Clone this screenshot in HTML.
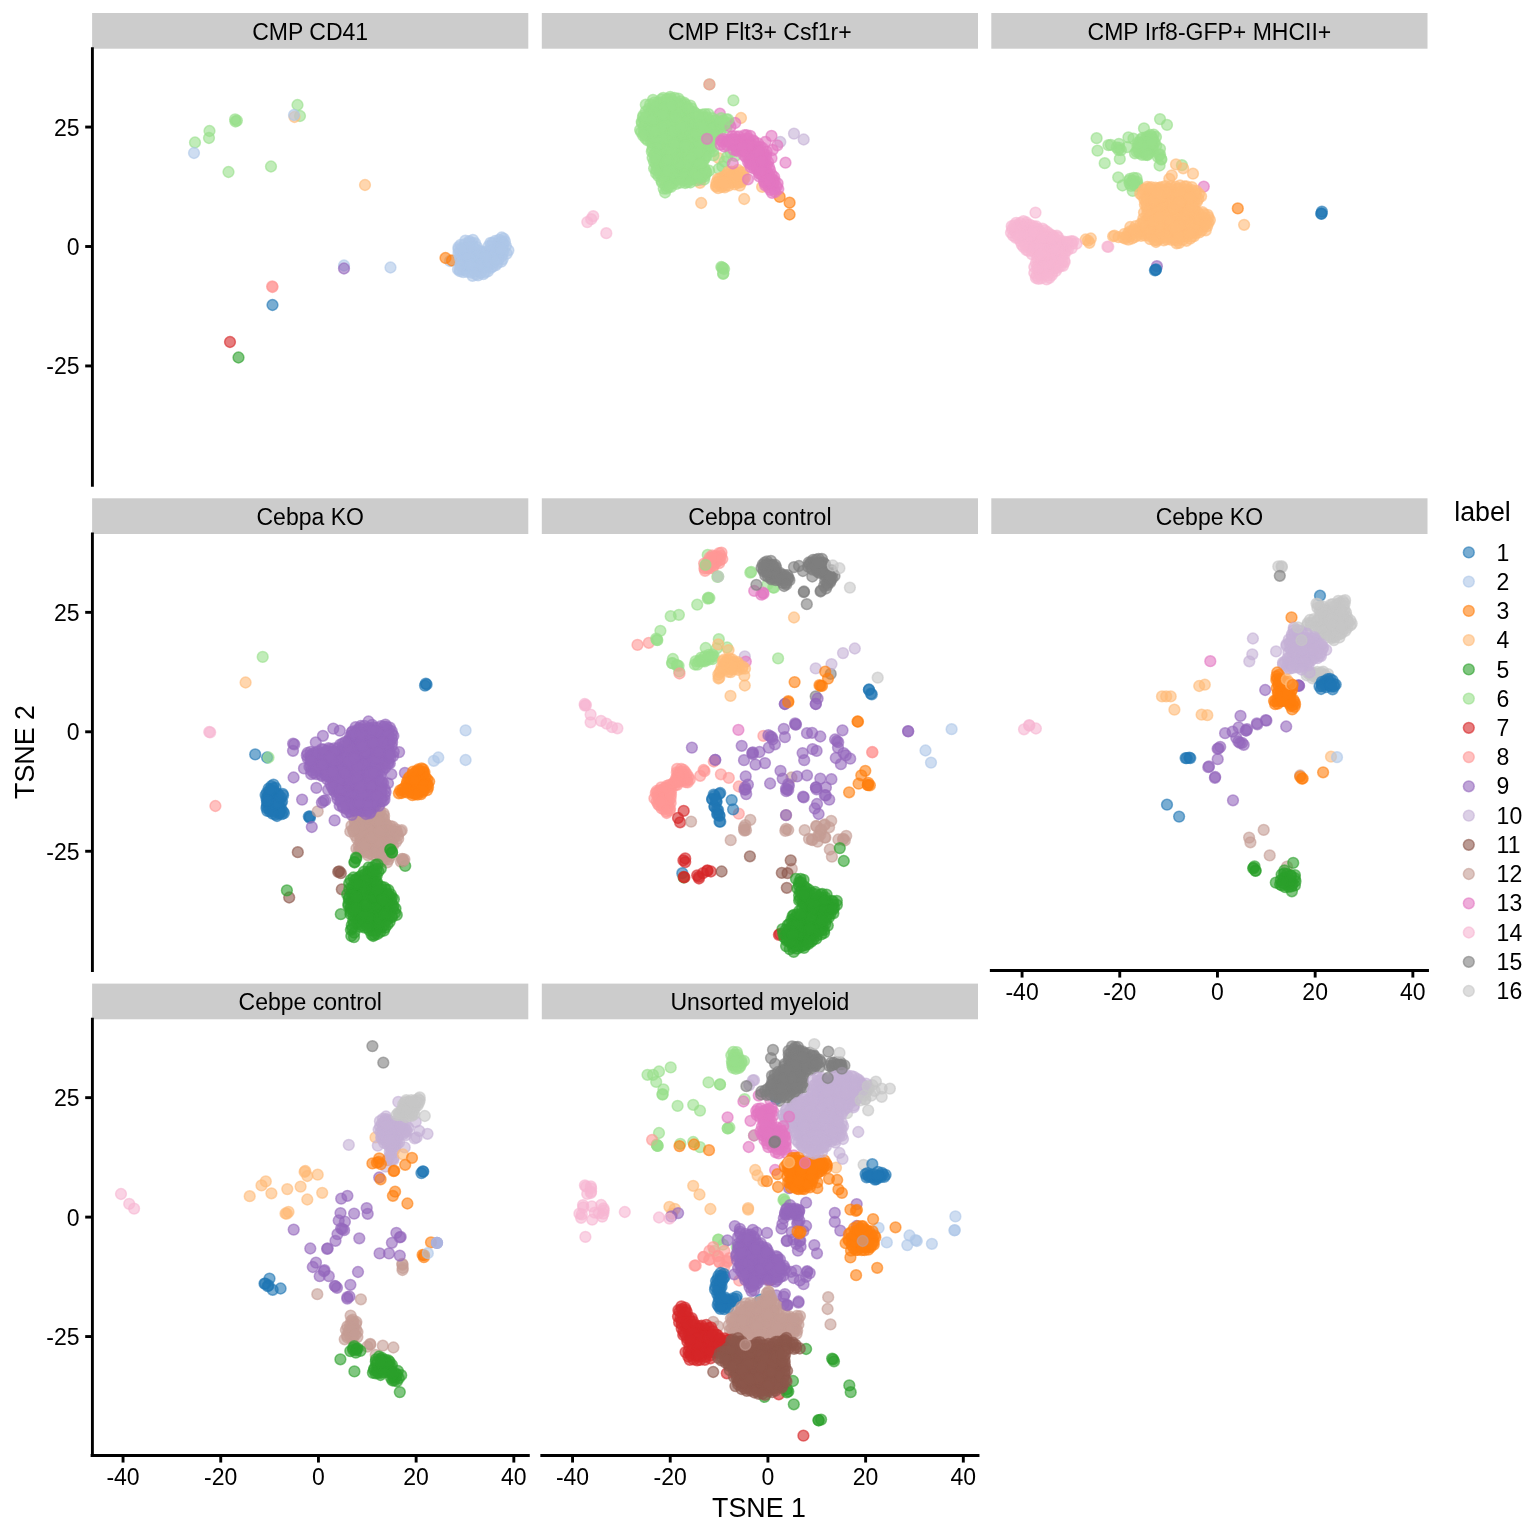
<!DOCTYPE html>
<html lang="en">
<head>
<meta charset="utf-8">
<title>TSNE by sample</title>
<style>
html,body{margin:0;padding:0;background:#fff}
svg{display:block}
text{font-family:"Liberation Sans",Arial,Helvetica,sans-serif;fill:#000}
.ax{stroke:#000;stroke-width:2.9;stroke-linecap:butt;fill:none}
.sq{stroke-linecap:square}
circle{fill-opacity:.6;stroke-opacity:.6;stroke-width:1.5}
</style>
</head>
<body>
<svg width="1536" height="1536" viewBox="0 0 1536 1536">
<rect width="1536" height="1536" fill="#ffffff"/>

<g><!-- CMP CD41 -->
<g fill="#98df8a" stroke="#98df8a">
<circle cx="195.0" cy="142.5" r="5.4"/><circle cx="209.5" cy="131.0" r="5.4"/><circle cx="209.0" cy="138.0" r="5.4"/><circle cx="235.5" cy="121.5" r="5.4"/><circle cx="235.1" cy="119.3" r="5.4"/><circle cx="236.9" cy="120.6" r="5.4"/><circle cx="228.5" cy="172.0" r="5.4"/><circle cx="271.0" cy="166.5" r="5.4"/><circle cx="297.5" cy="105.0" r="5.4"/><circle cx="300.0" cy="116.0" r="5.4"/>
</g>
<g fill="#ffbb78" stroke="#ffbb78">
<circle cx="294.5" cy="117.0" r="5.4"/><circle cx="365.0" cy="185.0" r="5.4"/>
</g>
<g fill="#aec7e8" stroke="#aec7e8">
<circle cx="194.0" cy="153.0" r="5.4"/><circle cx="294.0" cy="115.0" r="5.4"/><circle cx="344.0" cy="265.5" r="5.4"/><circle cx="390.5" cy="267.5" r="5.4"/>
</g>
<g fill="#9467bd" stroke="#9467bd">
<circle cx="344.0" cy="268.5" r="5.4"/>
</g>
<g fill="#ff9896" stroke="#ff9896">
<circle cx="272.5" cy="287.0" r="5.4"/><circle cx="272.2" cy="286.3" r="5.4"/>
</g>
<g fill="#1f77b4" stroke="#1f77b4">
<circle cx="272.5" cy="305.0" r="5.4"/>
</g>
<g fill="#d62728" stroke="#d62728">
<circle cx="230.0" cy="342.0" r="5.4"/>
</g>
<g fill="#2ca02c" stroke="#2ca02c">
<circle cx="238.5" cy="357.5" r="5.4"/>
</g>
<g fill="#aec7e8" stroke="#aec7e8">
<circle cx="450.0" cy="261.0" r="5.4"/>
</g>
<g fill="#ff7f0e" stroke="#ff7f0e">
<circle cx="445.5" cy="258.0" r="5.4"/><circle cx="452.0" cy="260.5" r="5.4"/>
</g>
<g fill="#aec7e8" stroke="#aec7e8">
<circle cx="487.1" cy="262.2" r="5.4"/><circle cx="476.2" cy="259.2" r="5.4"/><circle cx="505.9" cy="245.9" r="5.4"/><circle cx="492.3" cy="263.1" r="5.4"/><circle cx="466.9" cy="260.3" r="5.4"/><circle cx="474.7" cy="250.7" r="5.4"/><circle cx="502.7" cy="259.1" r="5.4"/><circle cx="495.2" cy="241.0" r="5.4"/><circle cx="465.5" cy="265.6" r="5.4"/><circle cx="476.5" cy="262.0" r="5.4"/><circle cx="482.7" cy="268.0" r="5.4"/><circle cx="479.1" cy="257.1" r="5.4"/><circle cx="502.1" cy="241.3" r="5.4"/><circle cx="479.0" cy="262.6" r="5.4"/><circle cx="500.4" cy="242.7" r="5.4"/><circle cx="467.8" cy="268.2" r="5.4"/><circle cx="464.2" cy="269.9" r="5.4"/><circle cx="482.0" cy="251.3" r="5.4"/><circle cx="476.6" cy="271.1" r="5.4"/><circle cx="497.7" cy="243.3" r="5.4"/><circle cx="470.7" cy="249.5" r="5.4"/><circle cx="472.5" cy="255.8" r="5.4"/><circle cx="460.2" cy="258.7" r="5.4"/><circle cx="462.3" cy="264.6" r="5.4"/><circle cx="458.5" cy="247.2" r="5.4"/><circle cx="460.2" cy="251.2" r="5.4"/><circle cx="492.6" cy="266.7" r="5.4"/><circle cx="500.9" cy="256.9" r="5.4"/><circle cx="478.9" cy="269.0" r="5.4"/><circle cx="483.8" cy="266.6" r="5.4"/><circle cx="473.4" cy="259.2" r="5.4"/><circle cx="498.5" cy="259.1" r="5.4"/><circle cx="465.0" cy="244.2" r="5.4"/><circle cx="499.1" cy="239.8" r="5.4"/><circle cx="503.6" cy="238.6" r="5.4"/><circle cx="506.7" cy="253.6" r="5.4"/><circle cx="458.5" cy="253.0" r="5.4"/><circle cx="487.8" cy="271.4" r="5.4"/><circle cx="464.1" cy="249.5" r="5.4"/><circle cx="496.2" cy="250.7" r="5.4"/><circle cx="494.4" cy="250.5" r="5.4"/><circle cx="504.9" cy="241.4" r="5.4"/><circle cx="478.2" cy="254.3" r="5.4"/><circle cx="469.4" cy="259.1" r="5.4"/><circle cx="490.7" cy="268.0" r="5.4"/><circle cx="477.6" cy="265.7" r="5.4"/><circle cx="466.5" cy="253.6" r="5.4"/><circle cx="488.6" cy="258.7" r="5.4"/><circle cx="470.9" cy="254.3" r="5.4"/><circle cx="490.5" cy="242.8" r="5.4"/><circle cx="476.1" cy="274.4" r="5.4"/><circle cx="502.8" cy="245.9" r="5.4"/><circle cx="483.7" cy="259.8" r="5.4"/><circle cx="483.3" cy="256.0" r="5.4"/><circle cx="492.6" cy="242.9" r="5.4"/><circle cx="490.4" cy="258.7" r="5.4"/><circle cx="495.6" cy="247.9" r="5.4"/><circle cx="459.8" cy="256.1" r="5.4"/><circle cx="484.8" cy="253.1" r="5.4"/><circle cx="472.5" cy="275.8" r="5.4"/><circle cx="465.9" cy="247.9" r="5.4"/><circle cx="478.1" cy="275.4" r="5.4"/><circle cx="459.8" cy="269.6" r="5.4"/><circle cx="488.7" cy="246.2" r="5.4"/><circle cx="495.9" cy="265.1" r="5.4"/><circle cx="475.5" cy="255.2" r="5.4"/><circle cx="472.6" cy="252.1" r="5.4"/><circle cx="478.2" cy="250.4" r="5.4"/><circle cx="481.1" cy="260.1" r="5.4"/><circle cx="477.0" cy="247.1" r="5.4"/><circle cx="501.7" cy="237.5" r="5.4"/><circle cx="463.2" cy="253.7" r="5.4"/><circle cx="503.2" cy="243.9" r="5.4"/><circle cx="472.9" cy="239.9" r="5.4"/><circle cx="465.3" cy="261.7" r="5.4"/><circle cx="465.3" cy="240.7" r="5.4"/><circle cx="494.4" cy="253.8" r="5.4"/><circle cx="461.1" cy="263.6" r="5.4"/><circle cx="469.2" cy="241.1" r="5.4"/><circle cx="472.0" cy="243.2" r="5.4"/><circle cx="483.4" cy="274.1" r="5.4"/><circle cx="480.5" cy="253.0" r="5.4"/><circle cx="501.3" cy="261.7" r="5.4"/><circle cx="474.3" cy="268.0" r="5.4"/><circle cx="497.4" cy="263.2" r="5.4"/><circle cx="471.0" cy="268.5" r="5.4"/><circle cx="480.8" cy="272.7" r="5.4"/><circle cx="468.1" cy="261.4" r="5.4"/><circle cx="498.4" cy="247.8" r="5.4"/><circle cx="487.0" cy="252.7" r="5.4"/><circle cx="491.4" cy="245.9" r="5.4"/><circle cx="463.2" cy="272.2" r="5.4"/><circle cx="483.4" cy="262.8" r="5.4"/><circle cx="471.1" cy="272.5" r="5.4"/><circle cx="499.9" cy="253.0" r="5.4"/><circle cx="467.1" cy="271.8" r="5.4"/><circle cx="491.1" cy="253.4" r="5.4"/><circle cx="502.5" cy="253.6" r="5.4"/><circle cx="475.1" cy="243.2" r="5.4"/><circle cx="460.6" cy="244.9" r="5.4"/><circle cx="485.0" cy="268.0" r="5.4"/><circle cx="473.7" cy="247.4" r="5.4"/><circle cx="489.0" cy="264.7" r="5.4"/><circle cx="508.4" cy="250.3" r="5.4"/><circle cx="459.9" cy="271.2" r="5.4"/><circle cx="472.4" cy="262.0" r="5.4"/><circle cx="487.4" cy="251.2" r="5.4"/><circle cx="472.6" cy="266.2" r="5.4"/><circle cx="497.4" cy="256.1" r="5.4"/><circle cx="503.4" cy="250.8" r="5.4"/><circle cx="473.5" cy="271.1" r="5.4"/><circle cx="485.0" cy="272.3" r="5.4"/><circle cx="479.9" cy="265.0" r="5.4"/><circle cx="490.7" cy="250.3" r="5.4"/><circle cx="492.7" cy="256.1" r="5.4"/><circle cx="467.2" cy="250.1" r="5.4"/><circle cx="501.4" cy="249.0" r="5.4"/><circle cx="469.2" cy="242.8" r="5.4"/><circle cx="489.3" cy="255.9" r="5.4"/><circle cx="462.6" cy="260.0" r="5.4"/><circle cx="460.3" cy="265.3" r="5.4"/><circle cx="488.8" cy="261.9" r="5.4"/><circle cx="463.9" cy="256.5" r="5.4"/><circle cx="467.6" cy="255.4" r="5.4"/><circle cx="458.5" cy="249.2" r="5.4"/><circle cx="470.3" cy="265.1" r="5.4"/><circle cx="469.0" cy="247.1" r="5.4"/><circle cx="462.4" cy="248.2" r="5.4"/><circle cx="458.0" cy="269.4" r="5.4"/><circle cx="495.6" cy="260.5" r="5.4"/><circle cx="485.3" cy="256.6" r="5.4"/>
</g>
</g>
<g><!-- CMP Flt3+ Csf1r+ -->
<g fill="#98df8a" stroke="#98df8a">
<circle cx="709.4" cy="84.4" r="5.4"/>
</g>
<g fill="#ff9896" stroke="#ff9896">
<circle cx="709.4" cy="84.4" r="5.4"/>
</g>
<g fill="#e377c2" stroke="#e377c2">
<circle cx="719.9" cy="113.7" r="5.4"/><circle cx="697.7" cy="158.8" r="5.4"/><circle cx="700.0" cy="179.9" r="5.4"/><circle cx="682.4" cy="168.8" r="5.4"/>
</g>
<g fill="#ffbb78" stroke="#ffbb78">
<circle cx="700.0" cy="182.8" r="5.4"/><circle cx="718.8" cy="158.2" r="5.4"/>
</g>
<g fill="#98df8a" stroke="#98df8a">
<circle cx="690.6" cy="142.7" r="5.4"/><circle cx="710.2" cy="121.2" r="5.4"/><circle cx="652.8" cy="145.8" r="5.4"/><circle cx="659.6" cy="148.7" r="5.4"/><circle cx="712.4" cy="126.8" r="5.4"/><circle cx="666.9" cy="175.7" r="5.4"/><circle cx="705.6" cy="170.9" r="5.4"/><circle cx="661.2" cy="135.8" r="5.4"/><circle cx="681.2" cy="130.8" r="5.4"/><circle cx="664.2" cy="142.5" r="5.4"/><circle cx="690.6" cy="120.1" r="5.4"/><circle cx="695.4" cy="164.1" r="5.4"/><circle cx="684.7" cy="158.3" r="5.4"/><circle cx="670.3" cy="145.8" r="5.4"/><circle cx="653.7" cy="110.4" r="5.4"/><circle cx="701.0" cy="156.9" r="5.4"/><circle cx="699.4" cy="163.3" r="5.4"/><circle cx="669.7" cy="113.2" r="5.4"/><circle cx="685.9" cy="179.1" r="5.4"/><circle cx="679.2" cy="135.1" r="5.4"/><circle cx="710.6" cy="136.2" r="5.4"/><circle cx="702.7" cy="139.8" r="5.4"/><circle cx="665.5" cy="102.3" r="5.4"/><circle cx="717.4" cy="129.7" r="5.4"/><circle cx="648.9" cy="108.6" r="5.4"/><circle cx="701.8" cy="177.5" r="5.4"/><circle cx="665.5" cy="185.5" r="5.4"/><circle cx="645.8" cy="104.7" r="5.4"/><circle cx="679.4" cy="173.2" r="5.4"/><circle cx="704.7" cy="176.4" r="5.4"/><circle cx="659.6" cy="173.4" r="5.4"/><circle cx="680.4" cy="144.7" r="5.4"/><circle cx="688.5" cy="130.4" r="5.4"/><circle cx="700.8" cy="160.1" r="5.4"/><circle cx="642.0" cy="123.2" r="5.4"/><circle cx="644.1" cy="126.4" r="5.4"/><circle cx="667.8" cy="105.4" r="5.4"/><circle cx="685.8" cy="154.5" r="5.4"/><circle cx="690.8" cy="146.6" r="5.4"/><circle cx="713.0" cy="151.2" r="5.4"/><circle cx="669.0" cy="142.6" r="5.4"/><circle cx="706.9" cy="134.0" r="5.4"/><circle cx="701.8" cy="163.2" r="5.4"/><circle cx="685.5" cy="104.3" r="5.4"/><circle cx="656.2" cy="117.4" r="5.4"/><circle cx="662.6" cy="150.7" r="5.4"/><circle cx="679.5" cy="138.8" r="5.4"/><circle cx="686.9" cy="144.9" r="5.4"/><circle cx="670.6" cy="142.3" r="5.4"/><circle cx="661.4" cy="102.4" r="5.4"/><circle cx="645.7" cy="138.5" r="5.4"/><circle cx="684.1" cy="102.7" r="5.4"/><circle cx="653.0" cy="99.9" r="5.4"/><circle cx="663.4" cy="145.5" r="5.4"/><circle cx="657.6" cy="149.2" r="5.4"/><circle cx="705.1" cy="158.1" r="5.4"/><circle cx="700.2" cy="117.6" r="5.4"/><circle cx="669.6" cy="108.0" r="5.4"/><circle cx="692.4" cy="118.0" r="5.4"/><circle cx="695.7" cy="144.5" r="5.4"/><circle cx="657.9" cy="108.6" r="5.4"/><circle cx="710.6" cy="141.5" r="5.4"/><circle cx="684.7" cy="113.3" r="5.4"/><circle cx="659.0" cy="151.7" r="5.4"/><circle cx="682.7" cy="161.8" r="5.4"/><circle cx="703.4" cy="130.5" r="5.4"/><circle cx="674.3" cy="124.0" r="5.4"/><circle cx="656.1" cy="160.0" r="5.4"/><circle cx="677.2" cy="115.4" r="5.4"/><circle cx="701.4" cy="167.8" r="5.4"/><circle cx="699.0" cy="145.2" r="5.4"/><circle cx="652.9" cy="123.6" r="5.4"/><circle cx="706.5" cy="156.1" r="5.4"/><circle cx="640.1" cy="129.9" r="5.4"/><circle cx="701.8" cy="132.6" r="5.4"/><circle cx="678.4" cy="98.7" r="5.4"/><circle cx="695.7" cy="142.4" r="5.4"/><circle cx="697.4" cy="138.4" r="5.4"/><circle cx="680.5" cy="169.6" r="5.4"/><circle cx="704.5" cy="147.9" r="5.4"/><circle cx="672.3" cy="100.8" r="5.4"/><circle cx="658.3" cy="176.0" r="5.4"/><circle cx="675.2" cy="103.9" r="5.4"/><circle cx="710.4" cy="146.3" r="5.4"/><circle cx="666.6" cy="188.7" r="5.4"/><circle cx="726.5" cy="127.5" r="5.4"/><circle cx="688.3" cy="138.2" r="5.4"/><circle cx="675.5" cy="168.3" r="5.4"/><circle cx="668.1" cy="172.8" r="5.4"/><circle cx="713.3" cy="139.7" r="5.4"/><circle cx="708.5" cy="114.1" r="5.4"/><circle cx="714.9" cy="124.4" r="5.4"/><circle cx="672.3" cy="108.9" r="5.4"/><circle cx="674.2" cy="133.3" r="5.4"/><circle cx="707.0" cy="123.6" r="5.4"/><circle cx="668.7" cy="180.2" r="5.4"/><circle cx="682.1" cy="118.3" r="5.4"/><circle cx="690.1" cy="162.1" r="5.4"/><circle cx="713.1" cy="121.2" r="5.4"/><circle cx="665.4" cy="105.7" r="5.4"/><circle cx="723.3" cy="120.4" r="5.4"/><circle cx="704.8" cy="135.5" r="5.4"/><circle cx="665.8" cy="138.9" r="5.4"/><circle cx="651.1" cy="142.0" r="5.4"/><circle cx="652.4" cy="149.3" r="5.4"/><circle cx="647.4" cy="120.0" r="5.4"/><circle cx="661.1" cy="117.3" r="5.4"/><circle cx="649.2" cy="127.5" r="5.4"/><circle cx="649.8" cy="137.3" r="5.4"/><circle cx="668.3" cy="167.9" r="5.4"/><circle cx="665.1" cy="192.5" r="5.4"/><circle cx="652.4" cy="114.2" r="5.4"/><circle cx="671.5" cy="130.8" r="5.4"/><circle cx="709.1" cy="170.7" r="5.4"/><circle cx="660.1" cy="122.7" r="5.4"/><circle cx="658.9" cy="125.9" r="5.4"/><circle cx="699.5" cy="171.5" r="5.4"/><circle cx="664.5" cy="110.2" r="5.4"/><circle cx="707.9" cy="149.1" r="5.4"/><circle cx="658.5" cy="157.1" r="5.4"/><circle cx="678.2" cy="110.7" r="5.4"/><circle cx="649.6" cy="124.6" r="5.4"/><circle cx="672.2" cy="179.0" r="5.4"/><circle cx="657.3" cy="155.9" r="5.4"/><circle cx="684.5" cy="164.4" r="5.4"/><circle cx="669.1" cy="164.4" r="5.4"/><circle cx="689.5" cy="174.3" r="5.4"/><circle cx="686.8" cy="149.4" r="5.4"/><circle cx="666.2" cy="128.0" r="5.4"/><circle cx="654.4" cy="116.4" r="5.4"/><circle cx="654.1" cy="168.3" r="5.4"/><circle cx="705.1" cy="114.1" r="5.4"/><circle cx="710.3" cy="138.9" r="5.4"/><circle cx="693.5" cy="147.6" r="5.4"/><circle cx="682.7" cy="180.2" r="5.4"/><circle cx="677.7" cy="157.6" r="5.4"/><circle cx="687.5" cy="182.2" r="5.4"/><circle cx="662.8" cy="109.2" r="5.4"/><circle cx="712.3" cy="118.2" r="5.4"/><circle cx="657.9" cy="102.5" r="5.4"/><circle cx="672.4" cy="120.2" r="5.4"/><circle cx="694.0" cy="121.6" r="5.4"/><circle cx="660.8" cy="168.0" r="5.4"/><circle cx="656.4" cy="115.1" r="5.4"/><circle cx="664.4" cy="148.2" r="5.4"/><circle cx="711.5" cy="147.9" r="5.4"/><circle cx="691.2" cy="152.0" r="5.4"/><circle cx="702.0" cy="146.2" r="5.4"/><circle cx="717.5" cy="133.6" r="5.4"/><circle cx="704.4" cy="168.4" r="5.4"/><circle cx="671.4" cy="160.8" r="5.4"/><circle cx="670.7" cy="118.1" r="5.4"/><circle cx="690.6" cy="169.5" r="5.4"/><circle cx="707.0" cy="136.5" r="5.4"/><circle cx="691.9" cy="179.3" r="5.4"/><circle cx="685.0" cy="107.5" r="5.4"/><circle cx="684.9" cy="142.9" r="5.4"/><circle cx="695.5" cy="113.4" r="5.4"/><circle cx="666.6" cy="181.9" r="5.4"/><circle cx="677.1" cy="151.2" r="5.4"/><circle cx="723.8" cy="125.8" r="5.4"/><circle cx="660.0" cy="170.8" r="5.4"/><circle cx="663.2" cy="169.8" r="5.4"/><circle cx="678.7" cy="122.7" r="5.4"/><circle cx="694.9" cy="175.7" r="5.4"/><circle cx="687.0" cy="110.6" r="5.4"/><circle cx="643.9" cy="130.0" r="5.4"/><circle cx="703.0" cy="170.6" r="5.4"/><circle cx="704.1" cy="179.5" r="5.4"/><circle cx="696.5" cy="124.2" r="5.4"/><circle cx="647.4" cy="133.0" r="5.4"/><circle cx="687.0" cy="118.6" r="5.4"/><circle cx="694.7" cy="139.2" r="5.4"/><circle cx="682.3" cy="104.2" r="5.4"/><circle cx="692.0" cy="163.3" r="5.4"/><circle cx="660.1" cy="105.3" r="5.4"/><circle cx="720.1" cy="126.8" r="5.4"/><circle cx="700.8" cy="155.9" r="5.4"/><circle cx="665.6" cy="121.3" r="5.4"/><circle cx="680.7" cy="152.2" r="5.4"/><circle cx="664.8" cy="173.4" r="5.4"/><circle cx="673.8" cy="176.7" r="5.4"/><circle cx="709.2" cy="152.1" r="5.4"/><circle cx="680.5" cy="101.4" r="5.4"/><circle cx="688.6" cy="113.9" r="5.4"/><circle cx="687.2" cy="150.7" r="5.4"/><circle cx="706.5" cy="172.5" r="5.4"/><circle cx="663.5" cy="179.6" r="5.4"/><circle cx="688.5" cy="166.7" r="5.4"/><circle cx="676.7" cy="102.9" r="5.4"/><circle cx="696.6" cy="137.1" r="5.4"/><circle cx="714.1" cy="129.1" r="5.4"/><circle cx="695.0" cy="169.8" r="5.4"/><circle cx="671.8" cy="166.4" r="5.4"/><circle cx="703.4" cy="160.9" r="5.4"/><circle cx="670.6" cy="98.6" r="5.4"/><circle cx="694.6" cy="152.2" r="5.4"/><circle cx="676.2" cy="176.9" r="5.4"/><circle cx="645.4" cy="130.6" r="5.4"/><circle cx="704.0" cy="124.7" r="5.4"/><circle cx="701.4" cy="151.9" r="5.4"/><circle cx="697.1" cy="167.2" r="5.4"/><circle cx="690.9" cy="134.1" r="5.4"/><circle cx="669.1" cy="110.1" r="5.4"/><circle cx="663.7" cy="188.6" r="5.4"/><circle cx="652.6" cy="157.8" r="5.4"/><circle cx="651.9" cy="109.1" r="5.4"/><circle cx="699.5" cy="137.0" r="5.4"/><circle cx="644.5" cy="133.9" r="5.4"/><circle cx="692.6" cy="143.5" r="5.4"/><circle cx="672.9" cy="115.2" r="5.4"/><circle cx="645.5" cy="122.6" r="5.4"/><circle cx="682.3" cy="155.9" r="5.4"/><circle cx="684.8" cy="123.6" r="5.4"/><circle cx="671.4" cy="135.8" r="5.4"/><circle cx="694.1" cy="161.7" r="5.4"/><circle cx="685.2" cy="183.0" r="5.4"/><circle cx="689.1" cy="116.8" r="5.4"/><circle cx="675.1" cy="155.7" r="5.4"/><circle cx="657.2" cy="111.4" r="5.4"/><circle cx="666.1" cy="157.8" r="5.4"/><circle cx="652.7" cy="143.3" r="5.4"/><circle cx="681.0" cy="133.2" r="5.4"/><circle cx="649.0" cy="130.5" r="5.4"/><circle cx="665.2" cy="130.7" r="5.4"/><circle cx="686.5" cy="168.5" r="5.4"/><circle cx="660.4" cy="160.7" r="5.4"/><circle cx="657.2" cy="167.1" r="5.4"/><circle cx="662.1" cy="120.1" r="5.4"/><circle cx="654.2" cy="154.7" r="5.4"/><circle cx="703.7" cy="143.4" r="5.4"/><circle cx="713.6" cy="155.3" r="5.4"/><circle cx="647.7" cy="140.3" r="5.4"/><circle cx="669.5" cy="170.6" r="5.4"/><circle cx="671.6" cy="110.5" r="5.4"/><circle cx="721.4" cy="124.4" r="5.4"/><circle cx="688.8" cy="122.8" r="5.4"/><circle cx="651.2" cy="127.8" r="5.4"/><circle cx="679.1" cy="147.8" r="5.4"/><circle cx="661.4" cy="110.5" r="5.4"/><circle cx="650.6" cy="117.6" r="5.4"/><circle cx="681.2" cy="113.6" r="5.4"/><circle cx="681.5" cy="147.7" r="5.4"/><circle cx="662.0" cy="182.5" r="5.4"/><circle cx="690.1" cy="135.8" r="5.4"/><circle cx="663.9" cy="124.9" r="5.4"/><circle cx="691.6" cy="108.3" r="5.4"/><circle cx="677.8" cy="161.8" r="5.4"/><circle cx="670.1" cy="152.3" r="5.4"/><circle cx="659.9" cy="121.8" r="5.4"/><circle cx="701.4" cy="120.7" r="5.4"/><circle cx="641.1" cy="132.1" r="5.4"/><circle cx="721.3" cy="118.2" r="5.4"/><circle cx="677.6" cy="127.1" r="5.4"/><circle cx="652.2" cy="138.9" r="5.4"/><circle cx="674.9" cy="161.2" r="5.4"/><circle cx="666.5" cy="145.1" r="5.4"/><circle cx="694.1" cy="127.2" r="5.4"/><circle cx="661.5" cy="142.9" r="5.4"/><circle cx="657.0" cy="135.4" r="5.4"/><circle cx="705.1" cy="174.0" r="5.4"/><circle cx="679.7" cy="155.1" r="5.4"/><circle cx="677.7" cy="130.5" r="5.4"/><circle cx="658.9" cy="165.2" r="5.4"/><circle cx="705.1" cy="151.1" r="5.4"/><circle cx="706.6" cy="127.9" r="5.4"/><circle cx="684.5" cy="171.7" r="5.4"/><circle cx="697.5" cy="176.6" r="5.4"/><circle cx="682.3" cy="123.4" r="5.4"/><circle cx="681.5" cy="176.3" r="5.4"/><circle cx="726.0" cy="123.2" r="5.4"/><circle cx="652.7" cy="105.9" r="5.4"/><circle cx="686.7" cy="127.3" r="5.4"/><circle cx="644.1" cy="120.3" r="5.4"/><circle cx="688.8" cy="110.2" r="5.4"/><circle cx="692.2" cy="138.4" r="5.4"/><circle cx="690.3" cy="126.5" r="5.4"/><circle cx="669.6" cy="126.5" r="5.4"/><circle cx="650.5" cy="112.4" r="5.4"/><circle cx="654.9" cy="120.3" r="5.4"/><circle cx="678.6" cy="142.2" r="5.4"/><circle cx="669.9" cy="183.7" r="5.4"/><circle cx="680.8" cy="158.4" r="5.4"/><circle cx="683.2" cy="173.3" r="5.4"/><circle cx="681.5" cy="167.3" r="5.4"/><circle cx="679.2" cy="168.2" r="5.4"/><circle cx="681.9" cy="111.3" r="5.4"/><circle cx="675.9" cy="108.5" r="5.4"/><circle cx="645.8" cy="111.4" r="5.4"/><circle cx="678.1" cy="171.3" r="5.4"/><circle cx="657.8" cy="104.7" r="5.4"/><circle cx="705.2" cy="121.7" r="5.4"/><circle cx="669.2" cy="157.5" r="5.4"/><circle cx="677.8" cy="133.3" r="5.4"/><circle cx="645.4" cy="135.3" r="5.4"/><circle cx="677.6" cy="179.8" r="5.4"/><circle cx="711.1" cy="123.4" r="5.4"/><circle cx="694.3" cy="129.5" r="5.4"/><circle cx="683.1" cy="119.5" r="5.4"/><circle cx="655.8" cy="163.8" r="5.4"/><circle cx="660.1" cy="153.9" r="5.4"/><circle cx="651.8" cy="151.6" r="5.4"/><circle cx="687.1" cy="169.6" r="5.4"/><circle cx="676.4" cy="183.9" r="5.4"/><circle cx="696.5" cy="180.4" r="5.4"/><circle cx="675.5" cy="135.8" r="5.4"/><circle cx="657.9" cy="129.8" r="5.4"/><circle cx="658.1" cy="138.2" r="5.4"/><circle cx="681.6" cy="120.4" r="5.4"/><circle cx="677.1" cy="139.0" r="5.4"/><circle cx="674.6" cy="174.1" r="5.4"/><circle cx="674.5" cy="148.4" r="5.4"/><circle cx="663.9" cy="168.2" r="5.4"/><circle cx="661.3" cy="99.4" r="5.4"/><circle cx="695.7" cy="147.9" r="5.4"/><circle cx="706.4" cy="140.5" r="5.4"/><circle cx="661.7" cy="165.2" r="5.4"/><circle cx="684.3" cy="151.1" r="5.4"/><circle cx="699.2" cy="130.4" r="5.4"/><circle cx="673.4" cy="171.3" r="5.4"/><circle cx="650.2" cy="104.3" r="5.4"/><circle cx="729.0" cy="123.1" r="5.4"/><circle cx="705.3" cy="145.1" r="5.4"/><circle cx="669.0" cy="132.7" r="5.4"/><circle cx="692.5" cy="166.8" r="5.4"/><circle cx="654.0" cy="161.7" r="5.4"/><circle cx="689.7" cy="179.8" r="5.4"/><circle cx="655.1" cy="107.9" r="5.4"/><circle cx="657.6" cy="142.0" r="5.4"/><circle cx="687.4" cy="177.1" r="5.4"/><circle cx="670.2" cy="96.9" r="5.4"/><circle cx="675.9" cy="163.8" r="5.4"/><circle cx="656.4" cy="144.5" r="5.4"/><circle cx="685.7" cy="137.0" r="5.4"/><circle cx="683.6" cy="139.9" r="5.4"/><circle cx="674.1" cy="151.7" r="5.4"/><circle cx="715.6" cy="120.3" r="5.4"/><circle cx="686.7" cy="157.2" r="5.4"/><circle cx="661.4" cy="180.4" r="5.4"/><circle cx="663.2" cy="97.9" r="5.4"/><circle cx="659.7" cy="129.3" r="5.4"/><circle cx="669.8" cy="177.1" r="5.4"/><circle cx="663.3" cy="137.1" r="5.4"/><circle cx="679.3" cy="117.7" r="5.4"/><circle cx="655.3" cy="125.7" r="5.4"/><circle cx="685.8" cy="160.4" r="5.4"/><circle cx="659.6" cy="115.5" r="5.4"/><circle cx="662.8" cy="157.0" r="5.4"/><circle cx="690.4" cy="105.6" r="5.4"/><circle cx="663.2" cy="155.2" r="5.4"/><circle cx="672.2" cy="138.6" r="5.4"/><circle cx="689.5" cy="155.3" r="5.4"/><circle cx="670.7" cy="119.9" r="5.4"/><circle cx="677.7" cy="121.5" r="5.4"/><circle cx="688.5" cy="120.3" r="5.4"/><circle cx="704.9" cy="156.1" r="5.4"/><circle cx="670.4" cy="102.3" r="5.4"/><circle cx="668.8" cy="117.9" r="5.4"/><circle cx="675.9" cy="179.1" r="5.4"/><circle cx="720.9" cy="130.1" r="5.4"/><circle cx="659.0" cy="146.0" r="5.4"/><circle cx="698.7" cy="157.5" r="5.4"/><circle cx="664.2" cy="162.2" r="5.4"/><circle cx="706.5" cy="129.1" r="5.4"/><circle cx="693.6" cy="123.9" r="5.4"/><circle cx="667.0" cy="149.0" r="5.4"/><circle cx="666.9" cy="152.4" r="5.4"/><circle cx="668.6" cy="135.1" r="5.4"/><circle cx="652.9" cy="136.3" r="5.4"/><circle cx="716.7" cy="126.6" r="5.4"/><circle cx="719.2" cy="123.5" r="5.4"/><circle cx="680.1" cy="108.0" r="5.4"/><circle cx="641.7" cy="121.8" r="5.4"/><circle cx="656.2" cy="170.0" r="5.4"/><circle cx="709.9" cy="127.7" r="5.4"/><circle cx="676.2" cy="146.3" r="5.4"/><circle cx="663.8" cy="118.3" r="5.4"/><circle cx="654.4" cy="102.5" r="5.4"/><circle cx="679.2" cy="105.9" r="5.4"/><circle cx="672.7" cy="183.3" r="5.4"/><circle cx="665.1" cy="114.6" r="5.4"/><circle cx="691.1" cy="175.9" r="5.4"/><circle cx="656.0" cy="132.1" r="5.4"/><circle cx="674.6" cy="111.0" r="5.4"/><circle cx="692.5" cy="155.5" r="5.4"/><circle cx="665.9" cy="132.7" r="5.4"/><circle cx="658.4" cy="133.8" r="5.4"/><circle cx="697.6" cy="129.2" r="5.4"/><circle cx="698.7" cy="132.6" r="5.4"/><circle cx="655.5" cy="138.3" r="5.4"/><circle cx="721.1" cy="121.3" r="5.4"/><circle cx="702.2" cy="114.6" r="5.4"/><circle cx="701.0" cy="148.1" r="5.4"/><circle cx="669.0" cy="154.3" r="5.4"/><circle cx="695.8" cy="160.7" r="5.4"/><circle cx="686.7" cy="174.1" r="5.4"/><circle cx="683.9" cy="177.1" r="5.4"/><circle cx="671.1" cy="124.3" r="5.4"/><circle cx="670.2" cy="138.3" r="5.4"/><circle cx="655.9" cy="152.9" r="5.4"/><circle cx="668.1" cy="129.3" r="5.4"/><circle cx="714.8" cy="136.0" r="5.4"/><circle cx="687.7" cy="163.1" r="5.4"/><circle cx="707.2" cy="117.7" r="5.4"/><circle cx="697.7" cy="173.3" r="5.4"/><circle cx="680.5" cy="182.7" r="5.4"/><circle cx="683.0" cy="143.1" r="5.4"/><circle cx="672.9" cy="164.2" r="5.4"/><circle cx="674.6" cy="97.9" r="5.4"/><circle cx="697.9" cy="116.9" r="5.4"/><circle cx="679.4" cy="163.4" r="5.4"/><circle cx="683.3" cy="136.6" r="5.4"/><circle cx="670.8" cy="173.2" r="5.4"/><circle cx="710.7" cy="130.0" r="5.4"/><circle cx="698.4" cy="120.6" r="5.4"/><circle cx="697.6" cy="125.9" r="5.4"/><circle cx="692.5" cy="113.3" r="5.4"/><circle cx="666.9" cy="99.0" r="5.4"/><circle cx="671.0" cy="186.8" r="5.4"/><circle cx="663.5" cy="176.4" r="5.4"/><circle cx="655.8" cy="157.9" r="5.4"/><circle cx="668.1" cy="123.6" r="5.4"/><circle cx="706.5" cy="142.4" r="5.4"/><circle cx="656.9" cy="123.8" r="5.4"/><circle cx="663.4" cy="138.5" r="5.4"/><circle cx="695.1" cy="157.0" r="5.4"/><circle cx="687.4" cy="132.5" r="5.4"/><circle cx="673.3" cy="159.0" r="5.4"/><circle cx="665.0" cy="108.0" r="5.4"/><circle cx="643.2" cy="135.7" r="5.4"/><circle cx="683.5" cy="133.1" r="5.4"/><circle cx="663.4" cy="132.6" r="5.4"/><circle cx="692.2" cy="136.6" r="5.4"/><circle cx="694.1" cy="112.0" r="5.4"/><circle cx="696.1" cy="134.2" r="5.4"/><circle cx="648.8" cy="115.0" r="5.4"/><circle cx="663.5" cy="114.6" r="5.4"/><circle cx="665.2" cy="163.5" r="5.4"/><circle cx="696.4" cy="153.9" r="5.4"/><circle cx="674.5" cy="145.6" r="5.4"/><circle cx="668.7" cy="186.8" r="5.4"/><circle cx="662.0" cy="128.0" r="5.4"/><circle cx="726.5" cy="119.4" r="5.4"/><circle cx="666.6" cy="170.9" r="5.4"/><circle cx="642.9" cy="117.3" r="5.4"/><circle cx="703.7" cy="117.6" r="5.4"/><circle cx="671.6" cy="154.8" r="5.4"/><circle cx="656.1" cy="173.2" r="5.4"/><circle cx="685.5" cy="130.1" r="5.4"/><circle cx="671.2" cy="105.6" r="5.4"/><circle cx="672.7" cy="126.3" r="5.4"/><circle cx="643.4" cy="115.3" r="5.4"/><circle cx="692.0" cy="157.5" r="5.4"/><circle cx="688.6" cy="148.2" r="5.4"/><circle cx="652.7" cy="132.5" r="5.4"/><circle cx="685.0" cy="127.8" r="5.4"/><circle cx="671.2" cy="149.9" r="5.4"/><circle cx="690.4" cy="182.5" r="5.4"/><circle cx="645.5" cy="117.2" r="5.4"/><circle cx="652.4" cy="120.5" r="5.4"/><circle cx="710.0" cy="133.2" r="5.4"/><circle cx="701.3" cy="123.4" r="5.4"/><circle cx="654.7" cy="130.6" r="5.4"/><circle cx="675.4" cy="118.1" r="5.4"/><circle cx="699.3" cy="174.8" r="5.4"/><circle cx="674.2" cy="131.0" r="5.4"/><circle cx="693.8" cy="173.0" r="5.4"/><circle cx="699.4" cy="115.2" r="5.4"/><circle cx="698.3" cy="151.7" r="5.4"/><circle cx="674.7" cy="143.6" r="5.4"/><circle cx="699.6" cy="142.6" r="5.4"/><circle cx="681.4" cy="126.8" r="5.4"/><circle cx="685.3" cy="145.6" r="5.4"/><circle cx="667.5" cy="160.5" r="5.4"/><circle cx="687.8" cy="107.6" r="5.4"/><circle cx="712.9" cy="133.7" r="5.4"/><circle cx="702.7" cy="127.3" r="5.4"/><circle cx="733.4" cy="100.4" r="5.4"/><circle cx="722.3" cy="166.4" r="5.4"/><circle cx="727.0" cy="157.0" r="5.4"/><circle cx="730.5" cy="152.3" r="5.4"/><circle cx="735.2" cy="155.9" r="5.4"/><circle cx="724.6" cy="161.7" r="5.4"/><circle cx="718.8" cy="168.8" r="5.4"/>
</g>
<g fill="#ffbb78" stroke="#ffbb78">
<circle cx="736.3" cy="172.3" r="5.4"/><circle cx="734.7" cy="184.4" r="5.4"/><circle cx="729.8" cy="176.8" r="5.4"/><circle cx="741.8" cy="181.8" r="5.4"/><circle cx="719.5" cy="184.5" r="5.4"/><circle cx="719.0" cy="181.4" r="5.4"/><circle cx="739.9" cy="177.8" r="5.4"/><circle cx="723.0" cy="180.0" r="5.4"/><circle cx="721.6" cy="187.0" r="5.4"/><circle cx="716.5" cy="185.4" r="5.4"/><circle cx="733.2" cy="182.0" r="5.4"/><circle cx="716.0" cy="186.5" r="5.4"/><circle cx="722.4" cy="177.2" r="5.4"/><circle cx="733.5" cy="172.5" r="5.4"/><circle cx="737.8" cy="174.1" r="5.4"/><circle cx="740.6" cy="174.6" r="5.4"/><circle cx="731.3" cy="182.5" r="5.4"/><circle cx="740.3" cy="180.3" r="5.4"/><circle cx="735.0" cy="173.7" r="5.4"/><circle cx="724.8" cy="187.3" r="5.4"/><circle cx="719.6" cy="178.8" r="5.4"/><circle cx="725.4" cy="185.3" r="5.4"/><circle cx="734.7" cy="180.2" r="5.4"/><circle cx="745.0" cy="177.4" r="5.4"/><circle cx="725.0" cy="176.2" r="5.4"/><circle cx="728.3" cy="177.1" r="5.4"/><circle cx="729.0" cy="174.3" r="5.4"/><circle cx="731.4" cy="171.6" r="5.4"/><circle cx="736.9" cy="182.5" r="5.4"/><circle cx="732.3" cy="179.5" r="5.4"/><circle cx="718.1" cy="188.2" r="5.4"/><circle cx="727.8" cy="181.7" r="5.4"/><circle cx="737.7" cy="179.8" r="5.4"/><circle cx="728.2" cy="171.9" r="5.4"/><circle cx="723.6" cy="185.5" r="5.4"/><circle cx="726.8" cy="174.5" r="5.4"/><circle cx="734.1" cy="176.5" r="5.4"/><circle cx="725.6" cy="179.0" r="5.4"/><circle cx="729.1" cy="179.1" r="5.4"/><circle cx="728.7" cy="185.6" r="5.4"/><circle cx="732.5" cy="174.8" r="5.4"/><circle cx="721.4" cy="182.4" r="5.4"/><circle cx="717.9" cy="178.8" r="5.4"/><circle cx="739.5" cy="182.5" r="5.4"/><circle cx="716.4" cy="182.5" r="5.4"/><circle cx="742.8" cy="172.5" r="5.4"/><circle cx="737.9" cy="169.8" r="5.4"/><circle cx="740.1" cy="172.1" r="5.4"/><circle cx="743.4" cy="176.7" r="5.4"/><circle cx="724.2" cy="182.7" r="5.4"/><circle cx="743.6" cy="179.9" r="5.4"/><circle cx="737.2" cy="177.3" r="5.4"/><circle cx="741.0" cy="118.0" r="5.4"/><circle cx="701.2" cy="203.0" r="5.4"/><circle cx="744.2" cy="199.0" r="5.4"/><circle cx="762.1" cy="186.9" r="5.4"/><circle cx="739.8" cy="185.7" r="5.4"/>
</g>
<g fill="#ff7f0e" stroke="#ff7f0e">
<circle cx="779.7" cy="196.9" r="5.4"/><circle cx="789.6" cy="202.7" r="5.4"/><circle cx="789.6" cy="214.5" r="5.4"/>
</g>
<g fill="#c5b0d5" stroke="#c5b0d5">
<circle cx="794.0" cy="133.6" r="5.4"/><circle cx="803.7" cy="139.5" r="5.4"/><circle cx="780.3" cy="142.0" r="5.4"/>
</g>
<g fill="#e377c2" stroke="#e377c2">
<circle cx="735.2" cy="136.4" r="5.4"/><circle cx="753.3" cy="140.4" r="5.4"/><circle cx="751.6" cy="146.3" r="5.4"/><circle cx="746.3" cy="154.8" r="5.4"/><circle cx="746.7" cy="143.3" r="5.4"/><circle cx="774.2" cy="177.0" r="5.4"/><circle cx="760.4" cy="163.2" r="5.4"/><circle cx="755.9" cy="152.5" r="5.4"/><circle cx="764.3" cy="182.4" r="5.4"/><circle cx="763.2" cy="153.0" r="5.4"/><circle cx="768.5" cy="174.5" r="5.4"/><circle cx="765.0" cy="162.3" r="5.4"/><circle cx="762.0" cy="156.2" r="5.4"/><circle cx="770.2" cy="177.1" r="5.4"/><circle cx="736.6" cy="150.0" r="5.4"/><circle cx="752.1" cy="152.7" r="5.4"/><circle cx="768.7" cy="187.3" r="5.4"/><circle cx="752.9" cy="158.5" r="5.4"/><circle cx="745.5" cy="157.0" r="5.4"/><circle cx="748.0" cy="162.1" r="5.4"/><circle cx="744.0" cy="143.4" r="5.4"/><circle cx="774.6" cy="189.4" r="5.4"/><circle cx="726.3" cy="141.5" r="5.4"/><circle cx="759.2" cy="176.4" r="5.4"/><circle cx="766.9" cy="171.6" r="5.4"/><circle cx="778.3" cy="189.1" r="5.4"/><circle cx="760.6" cy="166.9" r="5.4"/><circle cx="763.6" cy="165.1" r="5.4"/><circle cx="756.3" cy="165.3" r="5.4"/><circle cx="755.1" cy="149.7" r="5.4"/><circle cx="760.3" cy="146.8" r="5.4"/><circle cx="777.6" cy="183.4" r="5.4"/><circle cx="759.0" cy="173.4" r="5.4"/><circle cx="751.1" cy="149.8" r="5.4"/><circle cx="774.7" cy="180.6" r="5.4"/><circle cx="766.9" cy="184.2" r="5.4"/><circle cx="739.5" cy="143.1" r="5.4"/><circle cx="767.0" cy="165.0" r="5.4"/><circle cx="749.6" cy="163.6" r="5.4"/><circle cx="738.2" cy="139.9" r="5.4"/><circle cx="749.8" cy="160.8" r="5.4"/><circle cx="735.2" cy="143.3" r="5.4"/><circle cx="727.8" cy="139.4" r="5.4"/><circle cx="738.9" cy="136.5" r="5.4"/><circle cx="756.8" cy="157.6" r="5.4"/><circle cx="733.3" cy="141.8" r="5.4"/><circle cx="772.2" cy="185.2" r="5.4"/><circle cx="740.2" cy="149.7" r="5.4"/><circle cx="769.0" cy="167.0" r="5.4"/><circle cx="744.4" cy="139.2" r="5.4"/><circle cx="766.9" cy="177.8" r="5.4"/><circle cx="772.8" cy="180.2" r="5.4"/><circle cx="773.2" cy="182.3" r="5.4"/><circle cx="749.3" cy="157.7" r="5.4"/><circle cx="744.6" cy="146.3" r="5.4"/><circle cx="736.9" cy="151.0" r="5.4"/><circle cx="764.2" cy="180.8" r="5.4"/><circle cx="741.4" cy="140.6" r="5.4"/><circle cx="750.7" cy="143.3" r="5.4"/><circle cx="765.5" cy="174.1" r="5.4"/><circle cx="731.7" cy="139.3" r="5.4"/><circle cx="766.7" cy="151.6" r="5.4"/><circle cx="749.7" cy="151.2" r="5.4"/><circle cx="733.4" cy="149.6" r="5.4"/><circle cx="776.8" cy="186.5" r="5.4"/><circle cx="750.7" cy="167.2" r="5.4"/><circle cx="727.0" cy="145.4" r="5.4"/><circle cx="746.7" cy="135.2" r="5.4"/><circle cx="723.3" cy="139.0" r="5.4"/><circle cx="775.2" cy="192.0" r="5.4"/><circle cx="722.0" cy="141.7" r="5.4"/><circle cx="766.1" cy="155.1" r="5.4"/><circle cx="745.1" cy="152.0" r="5.4"/><circle cx="748.1" cy="138.6" r="5.4"/><circle cx="743.5" cy="149.5" r="5.4"/><circle cx="765.2" cy="185.3" r="5.4"/><circle cx="758.6" cy="155.0" r="5.4"/><circle cx="732.2" cy="136.5" r="5.4"/><circle cx="744.5" cy="135.2" r="5.4"/><circle cx="753.7" cy="141.6" r="5.4"/><circle cx="754.1" cy="168.6" r="5.4"/><circle cx="721.0" cy="140.5" r="5.4"/><circle cx="738.0" cy="146.0" r="5.4"/><circle cx="757.1" cy="146.6" r="5.4"/><circle cx="758.2" cy="143.5" r="5.4"/><circle cx="757.1" cy="170.0" r="5.4"/><circle cx="750.3" cy="135.9" r="5.4"/><circle cx="754.5" cy="161.7" r="5.4"/><circle cx="760.8" cy="174.1" r="5.4"/><circle cx="720.7" cy="144.7" r="5.4"/><circle cx="763.1" cy="175.8" r="5.4"/><circle cx="770.2" cy="189.9" r="5.4"/><circle cx="746.7" cy="148.6" r="5.4"/><circle cx="759.5" cy="157.9" r="5.4"/><circle cx="731.9" cy="144.8" r="5.4"/><circle cx="724.1" cy="146.5" r="5.4"/><circle cx="744.0" cy="155.2" r="5.4"/><circle cx="762.6" cy="148.0" r="5.4"/><circle cx="765.8" cy="157.4" r="5.4"/><circle cx="742.6" cy="150.8" r="5.4"/><circle cx="750.4" cy="155.0" r="5.4"/><circle cx="756.9" cy="168.0" r="5.4"/><circle cx="772.1" cy="192.9" r="5.4"/><circle cx="758.2" cy="149.8" r="5.4"/><circle cx="754.9" cy="155.8" r="5.4"/><circle cx="769.3" cy="182.3" r="5.4"/><circle cx="758.1" cy="160.7" r="5.4"/><circle cx="768.1" cy="162.1" r="5.4"/><circle cx="770.0" cy="170.1" r="5.4"/><circle cx="734.8" cy="145.7" r="5.4"/><circle cx="764.4" cy="167.9" r="5.4"/><circle cx="751.8" cy="165.0" r="5.4"/><circle cx="771.7" cy="174.5" r="5.4"/><circle cx="748.7" cy="145.1" r="5.4"/><circle cx="741.8" cy="146.1" r="5.4"/><circle cx="733.6" cy="139.2" r="5.4"/><circle cx="764.1" cy="171.7" r="5.4"/><circle cx="760.6" cy="170.2" r="5.4"/><circle cx="763.2" cy="157.8" r="5.4"/><circle cx="758.8" cy="152.4" r="5.4"/><circle cx="728.8" cy="141.8" r="5.4"/><circle cx="768.4" cy="180.0" r="5.4"/><circle cx="761.9" cy="161.2" r="5.4"/><circle cx="707.0" cy="138.9" r="5.4"/><circle cx="732.8" cy="163.5" r="5.4"/><circle cx="771.5" cy="135.9" r="5.4"/><circle cx="765.6" cy="141.8" r="5.4"/><circle cx="777.3" cy="145.3" r="5.4"/><circle cx="772.7" cy="150.0" r="5.4"/><circle cx="771.5" cy="158.2" r="5.4"/><circle cx="785.5" cy="162.7" r="5.4"/><circle cx="748.0" cy="179.3" r="5.4"/><circle cx="735.2" cy="123.0" r="5.4"/><circle cx="730.5" cy="126.6" r="5.4"/>
</g>
<g fill="#98df8a" stroke="#98df8a">
<circle cx="700.0" cy="164.1" r="5.4"/><circle cx="702.3" cy="174.6" r="5.4"/><circle cx="697.7" cy="178.1" r="5.4"/><circle cx="728.1" cy="119.5" r="5.4"/><circle cx="724.6" cy="124.2" r="5.4"/>
</g>
<g fill="#98df8a" stroke="#98df8a">
<circle cx="721.3" cy="267.0" r="5.4"/><circle cx="722.2" cy="267.6" r="5.4"/><circle cx="724.1" cy="269.0" r="5.4"/><circle cx="723.0" cy="268.2" r="5.4"/><circle cx="723.1" cy="273.9" r="5.4"/><circle cx="723.3" cy="273.3" r="5.4"/>
</g>
<g fill="#f7b6d2" stroke="#f7b6d2">
<circle cx="587.3" cy="222.1" r="5.4"/><circle cx="591.2" cy="219.2" r="5.4"/><circle cx="593.2" cy="216.2" r="5.4"/><circle cx="606.3" cy="233.2" r="5.4"/>
</g>
</g>
<g><!-- CMP Irf8-GFP+ MHCII+ -->
<g fill="#98df8a" stroke="#98df8a">
<circle cx="1148.3" cy="136.5" r="5.4"/><circle cx="1152.9" cy="150.8" r="5.4"/><circle cx="1148.4" cy="149.4" r="5.4"/><circle cx="1142.4" cy="151.9" r="5.4"/><circle cx="1153.0" cy="145.0" r="5.4"/><circle cx="1156.2" cy="145.7" r="5.4"/><circle cx="1152.7" cy="147.3" r="5.4"/><circle cx="1146.3" cy="137.2" r="5.4"/><circle cx="1156.0" cy="137.0" r="5.4"/><circle cx="1148.4" cy="139.1" r="5.4"/><circle cx="1151.2" cy="150.2" r="5.4"/><circle cx="1139.7" cy="147.0" r="5.4"/><circle cx="1153.7" cy="134.7" r="5.4"/><circle cx="1142.6" cy="142.8" r="5.4"/><circle cx="1148.9" cy="152.8" r="5.4"/><circle cx="1148.3" cy="147.5" r="5.4"/><circle cx="1146.2" cy="148.2" r="5.4"/><circle cx="1142.5" cy="137.8" r="5.4"/><circle cx="1139.6" cy="153.1" r="5.4"/><circle cx="1142.1" cy="150.0" r="5.4"/><circle cx="1145.5" cy="151.8" r="5.4"/><circle cx="1154.5" cy="142.4" r="5.4"/><circle cx="1136.6" cy="151.8" r="5.4"/><circle cx="1150.8" cy="144.0" r="5.4"/><circle cx="1142.5" cy="145.3" r="5.4"/><circle cx="1145.5" cy="154.8" r="5.4"/><circle cx="1144.9" cy="145.7" r="5.4"/><circle cx="1151.8" cy="136.6" r="5.4"/><circle cx="1145.1" cy="140.5" r="5.4"/><circle cx="1153.0" cy="140.0" r="5.4"/><circle cx="1139.7" cy="142.3" r="5.4"/><circle cx="1150.5" cy="135.0" r="5.4"/><circle cx="1149.3" cy="142.8" r="5.4"/><circle cx="1147.0" cy="145.5" r="5.4"/><circle cx="1138.4" cy="144.6" r="5.4"/><circle cx="1147.2" cy="154.4" r="5.4"/><circle cx="1142.0" cy="154.8" r="5.4"/><circle cx="1140.8" cy="139.6" r="5.4"/><circle cx="1137.9" cy="150.1" r="5.4"/><circle cx="1137.6" cy="147.5" r="5.4"/><circle cx="1146.5" cy="142.8" r="5.4"/><circle cx="1145.4" cy="150.3" r="5.4"/><circle cx="1143.6" cy="146.7" r="5.4"/><circle cx="1151.5" cy="139.3" r="5.4"/><circle cx="1137.9" cy="142.7" r="5.4"/><circle cx="1152.3" cy="142.9" r="5.4"/><circle cx="1119.3" cy="147.9" r="5.4"/><circle cx="1120.9" cy="150.2" r="5.4"/><circle cx="1118.9" cy="143.9" r="5.4"/><circle cx="1118.5" cy="150.0" r="5.4"/><circle cx="1116.7" cy="147.4" r="5.4"/><circle cx="1129.2" cy="180.6" r="5.4"/><circle cx="1132.3" cy="181.2" r="5.4"/><circle cx="1137.5" cy="186.3" r="5.4"/><circle cx="1134.7" cy="185.5" r="5.4"/><circle cx="1133.6" cy="177.9" r="5.4"/><circle cx="1137.2" cy="181.9" r="5.4"/><circle cx="1129.9" cy="178.9" r="5.4"/><circle cx="1133.7" cy="180.9" r="5.4"/><circle cx="1131.0" cy="185.9" r="5.4"/><circle cx="1129.7" cy="183.5" r="5.4"/><circle cx="1137.0" cy="183.7" r="5.4"/><circle cx="1136.5" cy="178.2" r="5.4"/><circle cx="1133.8" cy="184.4" r="5.4"/><circle cx="1159.2" cy="155.0" r="5.4"/><circle cx="1160.1" cy="154.5" r="5.4"/><circle cx="1157.8" cy="156.8" r="5.4"/><circle cx="1161.2" cy="158.9" r="5.4"/><circle cx="1161.3" cy="159.7" r="5.4"/><circle cx="1096.6" cy="138.2" r="5.4"/><circle cx="1097.5" cy="150.7" r="5.4"/><circle cx="1104.7" cy="163.2" r="5.4"/><circle cx="1119.8" cy="158.9" r="5.4"/><circle cx="1128.4" cy="137.4" r="5.4"/><circle cx="1133.4" cy="138.6" r="5.4"/><circle cx="1108.4" cy="145.2" r="5.4"/><circle cx="1110.8" cy="144.8" r="5.4"/><circle cx="1127.2" cy="147.2" r="5.4"/><circle cx="1144.0" cy="128.4" r="5.4"/><circle cx="1160.0" cy="119.1" r="5.4"/><circle cx="1167.0" cy="124.9" r="5.4"/><circle cx="1135.0" cy="153.4" r="5.4"/><circle cx="1147.5" cy="155.0" r="5.4"/><circle cx="1160.0" cy="148.8" r="5.4"/><circle cx="1159.6" cy="165.5" r="5.4"/><circle cx="1118.2" cy="177.3" r="5.4"/><circle cx="1122.5" cy="185.5" r="5.4"/><circle cx="1132.7" cy="190.9" r="5.4"/><circle cx="1181.9" cy="165.2" r="5.4"/>
</g>
<g fill="#9467bd" stroke="#9467bd">
<circle cx="1156.9" cy="266.2" r="5.4"/>
</g>
<g fill="#1f77b4" stroke="#1f77b4">
<circle cx="1321.4" cy="213.5" r="5.4"/><circle cx="1321.9" cy="211.6" r="5.4"/><circle cx="1321.4" cy="213.9" r="5.4"/><circle cx="1155.7" cy="270.0" r="5.4"/><circle cx="1156.0" cy="269.4" r="5.4"/><circle cx="1154.9" cy="270.3" r="5.4"/>
</g>
<g fill="#e377c2" stroke="#e377c2">
<circle cx="1203.8" cy="186.6" r="5.4"/>
</g>
<g fill="#ffbb78" stroke="#ffbb78">
<circle cx="1158.0" cy="205.1" r="5.4"/><circle cx="1144.0" cy="231.5" r="5.4"/><circle cx="1191.8" cy="187.1" r="5.4"/><circle cx="1181.9" cy="190.8" r="5.4"/><circle cx="1182.9" cy="193.8" r="5.4"/><circle cx="1177.5" cy="240.7" r="5.4"/><circle cx="1191.1" cy="223.2" r="5.4"/><circle cx="1188.6" cy="214.8" r="5.4"/><circle cx="1185.3" cy="189.4" r="5.4"/><circle cx="1160.1" cy="208.5" r="5.4"/><circle cx="1148.6" cy="218.0" r="5.4"/><circle cx="1144.0" cy="212.5" r="5.4"/><circle cx="1207.6" cy="214.9" r="5.4"/><circle cx="1155.3" cy="216.8" r="5.4"/><circle cx="1199.0" cy="193.9" r="5.4"/><circle cx="1170.5" cy="215.1" r="5.4"/><circle cx="1145.8" cy="189.1" r="5.4"/><circle cx="1205.8" cy="230.3" r="5.4"/><circle cx="1140.2" cy="193.7" r="5.4"/><circle cx="1170.0" cy="199.1" r="5.4"/><circle cx="1149.3" cy="233.9" r="5.4"/><circle cx="1155.0" cy="205.2" r="5.4"/><circle cx="1170.7" cy="226.6" r="5.4"/><circle cx="1147.3" cy="186.8" r="5.4"/><circle cx="1182.2" cy="195.5" r="5.4"/><circle cx="1183.9" cy="211.5" r="5.4"/><circle cx="1162.3" cy="192.1" r="5.4"/><circle cx="1156.1" cy="231.0" r="5.4"/><circle cx="1147.1" cy="209.1" r="5.4"/><circle cx="1181.8" cy="234.3" r="5.4"/><circle cx="1164.6" cy="196.1" r="5.4"/><circle cx="1161.6" cy="210.8" r="5.4"/><circle cx="1170.5" cy="218.1" r="5.4"/><circle cx="1189.7" cy="227.2" r="5.4"/><circle cx="1129.8" cy="231.5" r="5.4"/><circle cx="1194.9" cy="229.4" r="5.4"/><circle cx="1202.1" cy="223.6" r="5.4"/><circle cx="1143.3" cy="193.5" r="5.4"/><circle cx="1143.3" cy="218.7" r="5.4"/><circle cx="1193.6" cy="208.0" r="5.4"/><circle cx="1199.5" cy="224.7" r="5.4"/><circle cx="1155.8" cy="233.9" r="5.4"/><circle cx="1140.3" cy="231.1" r="5.4"/><circle cx="1146.8" cy="220.2" r="5.4"/><circle cx="1194.0" cy="200.4" r="5.4"/><circle cx="1187.0" cy="205.2" r="5.4"/><circle cx="1152.1" cy="212.0" r="5.4"/><circle cx="1136.9" cy="231.3" r="5.4"/><circle cx="1208.4" cy="223.0" r="5.4"/><circle cx="1197.6" cy="230.4" r="5.4"/><circle cx="1194.6" cy="205.3" r="5.4"/><circle cx="1165.3" cy="186.1" r="5.4"/><circle cx="1202.4" cy="212.2" r="5.4"/><circle cx="1153.6" cy="233.3" r="5.4"/><circle cx="1169.9" cy="204.6" r="5.4"/><circle cx="1176.6" cy="243.3" r="5.4"/><circle cx="1161.2" cy="230.8" r="5.4"/><circle cx="1128.2" cy="233.1" r="5.4"/><circle cx="1189.6" cy="202.7" r="5.4"/><circle cx="1178.0" cy="188.7" r="5.4"/><circle cx="1150.4" cy="202.8" r="5.4"/><circle cx="1132.0" cy="238.5" r="5.4"/><circle cx="1186.5" cy="208.2" r="5.4"/><circle cx="1168.8" cy="196.4" r="5.4"/><circle cx="1177.9" cy="216.7" r="5.4"/><circle cx="1196.0" cy="233.2" r="5.4"/><circle cx="1173.1" cy="204.4" r="5.4"/><circle cx="1181.0" cy="219.1" r="5.4"/><circle cx="1128.3" cy="239.6" r="5.4"/><circle cx="1179.4" cy="221.7" r="5.4"/><circle cx="1164.8" cy="220.0" r="5.4"/><circle cx="1152.4" cy="228.0" r="5.4"/><circle cx="1136.2" cy="232.6" r="5.4"/><circle cx="1191.9" cy="217.1" r="5.4"/><circle cx="1152.6" cy="236.3" r="5.4"/><circle cx="1168.2" cy="214.3" r="5.4"/><circle cx="1172.3" cy="230.4" r="5.4"/><circle cx="1189.5" cy="195.5" r="5.4"/><circle cx="1151.6" cy="217.3" r="5.4"/><circle cx="1171.3" cy="195.2" r="5.4"/><circle cx="1186.6" cy="236.5" r="5.4"/><circle cx="1203.0" cy="221.7" r="5.4"/><circle cx="1172.3" cy="209.2" r="5.4"/><circle cx="1177.4" cy="236.5" r="5.4"/><circle cx="1142.5" cy="233.7" r="5.4"/><circle cx="1181.1" cy="215.2" r="5.4"/><circle cx="1191.8" cy="220.4" r="5.4"/><circle cx="1179.2" cy="242.9" r="5.4"/><circle cx="1157.9" cy="215.8" r="5.4"/><circle cx="1176.0" cy="189.1" r="5.4"/><circle cx="1146.2" cy="202.5" r="5.4"/><circle cx="1181.3" cy="211.7" r="5.4"/><circle cx="1153.2" cy="195.5" r="5.4"/><circle cx="1149.1" cy="224.4" r="5.4"/><circle cx="1150.5" cy="226.4" r="5.4"/><circle cx="1167.1" cy="209.3" r="5.4"/><circle cx="1184.5" cy="236.2" r="5.4"/><circle cx="1173.0" cy="219.1" r="5.4"/><circle cx="1206.9" cy="220.8" r="5.4"/><circle cx="1139.3" cy="228.4" r="5.4"/><circle cx="1199.3" cy="226.8" r="5.4"/><circle cx="1181.6" cy="208.8" r="5.4"/><circle cx="1155.1" cy="224.7" r="5.4"/><circle cx="1114.5" cy="235.7" r="5.4"/><circle cx="1164.7" cy="232.6" r="5.4"/><circle cx="1196.9" cy="201.8" r="5.4"/><circle cx="1144.9" cy="235.4" r="5.4"/><circle cx="1192.0" cy="190.1" r="5.4"/><circle cx="1162.4" cy="218.9" r="5.4"/><circle cx="1175.8" cy="203.0" r="5.4"/><circle cx="1201.1" cy="196.3" r="5.4"/><circle cx="1208.5" cy="217.3" r="5.4"/><circle cx="1186.6" cy="226.4" r="5.4"/><circle cx="1180.0" cy="185.5" r="5.4"/><circle cx="1157.9" cy="189.5" r="5.4"/><circle cx="1182.8" cy="220.3" r="5.4"/><circle cx="1193.4" cy="196.5" r="5.4"/><circle cx="1185.1" cy="205.3" r="5.4"/><circle cx="1138.3" cy="232.7" r="5.4"/><circle cx="1195.2" cy="217.7" r="5.4"/><circle cx="1170.7" cy="186.1" r="5.4"/><circle cx="1151.8" cy="229.5" r="5.4"/><circle cx="1187.3" cy="192.4" r="5.4"/><circle cx="1191.1" cy="231.3" r="5.4"/><circle cx="1163.6" cy="202.6" r="5.4"/><circle cx="1159.4" cy="238.8" r="5.4"/><circle cx="1161.7" cy="220.9" r="5.4"/><circle cx="1144.9" cy="204.5" r="5.4"/><circle cx="1169.9" cy="211.5" r="5.4"/><circle cx="1164.3" cy="207.5" r="5.4"/><circle cx="1179.5" cy="229.8" r="5.4"/><circle cx="1143.7" cy="189.7" r="5.4"/><circle cx="1177.4" cy="208.2" r="5.4"/><circle cx="1195.0" cy="192.9" r="5.4"/><circle cx="1195.7" cy="215.3" r="5.4"/><circle cx="1197.4" cy="212.1" r="5.4"/><circle cx="1162.5" cy="205.9" r="5.4"/><circle cx="1187.7" cy="199.6" r="5.4"/><circle cx="1168.7" cy="203.1" r="5.4"/><circle cx="1201.6" cy="230.4" r="5.4"/><circle cx="1185.9" cy="213.6" r="5.4"/><circle cx="1183.3" cy="225.3" r="5.4"/><circle cx="1153.7" cy="190.2" r="5.4"/><circle cx="1163.8" cy="215.5" r="5.4"/><circle cx="1191.6" cy="236.7" r="5.4"/><circle cx="1167.4" cy="188.8" r="5.4"/><circle cx="1157.0" cy="240.3" r="5.4"/><circle cx="1154.8" cy="193.5" r="5.4"/><circle cx="1202.7" cy="217.3" r="5.4"/><circle cx="1142.8" cy="228.4" r="5.4"/><circle cx="1169.8" cy="236.7" r="5.4"/><circle cx="1194.1" cy="236.1" r="5.4"/><circle cx="1147.1" cy="214.1" r="5.4"/><circle cx="1175.4" cy="233.9" r="5.4"/><circle cx="1167.9" cy="227.2" r="5.4"/><circle cx="1166.0" cy="212.4" r="5.4"/><circle cx="1150.6" cy="206.1" r="5.4"/><circle cx="1171.4" cy="239.8" r="5.4"/><circle cx="1148.6" cy="235.8" r="5.4"/><circle cx="1176.4" cy="223.8" r="5.4"/><circle cx="1186.5" cy="233.6" r="5.4"/><circle cx="1177.8" cy="214.3" r="5.4"/><circle cx="1186.7" cy="216.8" r="5.4"/><circle cx="1171.9" cy="233.6" r="5.4"/><circle cx="1184.2" cy="199.6" r="5.4"/><circle cx="1176.0" cy="214.0" r="5.4"/><circle cx="1163.7" cy="240.3" r="5.4"/><circle cx="1184.5" cy="186.5" r="5.4"/><circle cx="1175.4" cy="196.8" r="5.4"/><circle cx="1151.1" cy="187.2" r="5.4"/><circle cx="1195.1" cy="212.1" r="5.4"/><circle cx="1126.4" cy="236.8" r="5.4"/><circle cx="1188.3" cy="190.6" r="5.4"/><circle cx="1166.6" cy="205.9" r="5.4"/><circle cx="1176.3" cy="212.5" r="5.4"/><circle cx="1166.9" cy="200.0" r="5.4"/><circle cx="1161.2" cy="228.3" r="5.4"/><circle cx="1177.2" cy="199.0" r="5.4"/><circle cx="1179.2" cy="226.6" r="5.4"/><circle cx="1162.9" cy="199.4" r="5.4"/><circle cx="1174.8" cy="239.7" r="5.4"/><circle cx="1186.5" cy="186.3" r="5.4"/><circle cx="1161.4" cy="215.0" r="5.4"/><circle cx="1170.3" cy="203.1" r="5.4"/><circle cx="1140.6" cy="224.0" r="5.4"/><circle cx="1199.5" cy="214.3" r="5.4"/><circle cx="1185.6" cy="203.3" r="5.4"/><circle cx="1164.5" cy="227.9" r="5.4"/><circle cx="1167.0" cy="221.2" r="5.4"/><circle cx="1172.2" cy="237.6" r="5.4"/><circle cx="1159.7" cy="230.6" r="5.4"/><circle cx="1144.4" cy="199.6" r="5.4"/><circle cx="1189.0" cy="209.5" r="5.4"/><circle cx="1155.9" cy="207.9" r="5.4"/><circle cx="1134.4" cy="237.2" r="5.4"/><circle cx="1168.5" cy="230.0" r="5.4"/><circle cx="1165.1" cy="191.0" r="5.4"/><circle cx="1183.7" cy="230.9" r="5.4"/><circle cx="1186.3" cy="220.1" r="5.4"/><circle cx="1163.4" cy="236.8" r="5.4"/><circle cx="1192.7" cy="214.5" r="5.4"/><circle cx="1174.1" cy="212.5" r="5.4"/><circle cx="1181.3" cy="201.8" r="5.4"/><circle cx="1146.9" cy="233.0" r="5.4"/><circle cx="1148.5" cy="193.7" r="5.4"/><circle cx="1184.6" cy="195.5" r="5.4"/><circle cx="1166.7" cy="231.0" r="5.4"/><circle cx="1175.6" cy="194.0" r="5.4"/><circle cx="1150.3" cy="209.0" r="5.4"/><circle cx="1170.3" cy="189.1" r="5.4"/><circle cx="1174.2" cy="220.7" r="5.4"/><circle cx="1135.6" cy="226.2" r="5.4"/><circle cx="1143.2" cy="222.2" r="5.4"/><circle cx="1154.1" cy="209.3" r="5.4"/><circle cx="1193.9" cy="201.3" r="5.4"/><circle cx="1158.4" cy="211.5" r="5.4"/><circle cx="1198.3" cy="198.8" r="5.4"/><circle cx="1156.8" cy="221.4" r="5.4"/><circle cx="1156.7" cy="201.8" r="5.4"/><circle cx="1130.1" cy="236.0" r="5.4"/><circle cx="1148.7" cy="211.5" r="5.4"/><circle cx="1179.5" cy="206.2" r="5.4"/><circle cx="1161.7" cy="234.3" r="5.4"/><circle cx="1178.4" cy="195.5" r="5.4"/><circle cx="1166.2" cy="237.5" r="5.4"/><circle cx="1145.8" cy="226.8" r="5.4"/><circle cx="1194.9" cy="223.5" r="5.4"/><circle cx="1165.5" cy="222.9" r="5.4"/><circle cx="1191.2" cy="212.7" r="5.4"/><circle cx="1196.3" cy="190.9" r="5.4"/><circle cx="1130.8" cy="233.7" r="5.4"/><circle cx="1159.1" cy="187.9" r="5.4"/><circle cx="1155.8" cy="227.5" r="5.4"/><circle cx="1181.5" cy="227.4" r="5.4"/><circle cx="1161.2" cy="187.2" r="5.4"/><circle cx="1146.9" cy="205.9" r="5.4"/><circle cx="1152.4" cy="223.6" r="5.4"/><circle cx="1172.1" cy="198.4" r="5.4"/><circle cx="1156.0" cy="242.0" r="5.4"/><circle cx="1168.7" cy="233.3" r="5.4"/><circle cx="1133.8" cy="231.1" r="5.4"/><circle cx="1190.2" cy="221.5" r="5.4"/><circle cx="1142.1" cy="195.5" r="5.4"/><circle cx="1207.1" cy="226.2" r="5.4"/><circle cx="1203.5" cy="226.8" r="5.4"/><circle cx="1141.1" cy="235.9" r="5.4"/><circle cx="1186.4" cy="240.8" r="5.4"/><circle cx="1190.1" cy="194.0" r="5.4"/><circle cx="1146.6" cy="196.8" r="5.4"/><circle cx="1151.0" cy="194.1" r="5.4"/><circle cx="1199.9" cy="221.8" r="5.4"/><circle cx="1196.1" cy="227.5" r="5.4"/><circle cx="1199.4" cy="232.4" r="5.4"/><circle cx="1170.1" cy="192.2" r="5.4"/><circle cx="1183.4" cy="217.7" r="5.4"/><circle cx="1150.9" cy="221.5" r="5.4"/><circle cx="1163.1" cy="223.2" r="5.4"/><circle cx="1161.5" cy="202.5" r="5.4"/><circle cx="1173.3" cy="193.7" r="5.4"/><circle cx="1188.3" cy="231.4" r="5.4"/><circle cx="1151.7" cy="199.9" r="5.4"/><circle cx="1183.0" cy="239.6" r="5.4"/><circle cx="1175.7" cy="186.6" r="5.4"/><circle cx="1155.4" cy="187.6" r="5.4"/><circle cx="1190.1" cy="238.7" r="5.4"/><circle cx="1204.8" cy="218.4" r="5.4"/><circle cx="1188.3" cy="211.2" r="5.4"/><circle cx="1153.5" cy="214.5" r="5.4"/><circle cx="1156.3" cy="210.7" r="5.4"/><circle cx="1159.4" cy="198.8" r="5.4"/><circle cx="1137.0" cy="235.5" r="5.4"/><circle cx="1160.7" cy="197.2" r="5.4"/><circle cx="1149.9" cy="196.2" r="5.4"/><circle cx="1195.7" cy="195.0" r="5.4"/><circle cx="1149.0" cy="230.1" r="5.4"/><circle cx="1143.5" cy="224.7" r="5.4"/><circle cx="1196.3" cy="222.1" r="5.4"/><circle cx="1176.0" cy="231.0" r="5.4"/><circle cx="1149.6" cy="188.7" r="5.4"/><circle cx="1192.4" cy="232.9" r="5.4"/><circle cx="1149.8" cy="215.3" r="5.4"/><circle cx="1188.5" cy="225.1" r="5.4"/><circle cx="1180.2" cy="199.6" r="5.4"/><circle cx="1164.8" cy="216.8" r="5.4"/><circle cx="1154.9" cy="235.6" r="5.4"/><circle cx="1159.4" cy="236.9" r="5.4"/><circle cx="1169.7" cy="224.4" r="5.4"/><circle cx="1193.3" cy="227.6" r="5.4"/><circle cx="1172.9" cy="224.8" r="5.4"/><circle cx="1150.1" cy="239.2" r="5.4"/><circle cx="1199.0" cy="218.9" r="5.4"/><circle cx="1179.1" cy="234.4" r="5.4"/><circle cx="1158.9" cy="223.9" r="5.4"/><circle cx="1158.0" cy="196.9" r="5.4"/><circle cx="1173.8" cy="208.0" r="5.4"/><circle cx="1166.7" cy="239.4" r="5.4"/><circle cx="1165.1" cy="192.2" r="5.4"/><circle cx="1177.5" cy="205.9" r="5.4"/><circle cx="1209.9" cy="220.1" r="5.4"/><circle cx="1125.4" cy="238.7" r="5.4"/><circle cx="1191.8" cy="206.5" r="5.4"/><circle cx="1153.2" cy="220.8" r="5.4"/><circle cx="1179.2" cy="192.3" r="5.4"/><circle cx="1179.2" cy="237.5" r="5.4"/><circle cx="1152.5" cy="202.2" r="5.4"/><circle cx="1170.3" cy="221.4" r="5.4"/><circle cx="1123.2" cy="237.7" r="5.4"/><circle cx="1147.4" cy="199.4" r="5.4"/><circle cx="1160.9" cy="189.7" r="5.4"/><circle cx="1159.6" cy="217.4" r="5.4"/><circle cx="1179.7" cy="202.1" r="5.4"/><circle cx="1189.5" cy="233.5" r="5.4"/><circle cx="1204.1" cy="214.1" r="5.4"/><circle cx="1154.5" cy="240.2" r="5.4"/><circle cx="1205.3" cy="224.3" r="5.4"/><circle cx="1179.5" cy="224.6" r="5.4"/><circle cx="1154.3" cy="199.7" r="5.4"/><circle cx="1174.6" cy="228.1" r="5.4"/><circle cx="1158.0" cy="193.5" r="5.4"/><circle cx="1190.0" cy="198.0" r="5.4"/><circle cx="1176.0" cy="164.4" r="5.4"/><circle cx="1183.2" cy="168.3" r="5.4"/><circle cx="1193.0" cy="173.7" r="5.4"/><circle cx="1171.8" cy="175.4" r="5.4"/><circle cx="1088.0" cy="240.6" r="5.4"/><circle cx="1090.8" cy="238.5" r="5.4"/><circle cx="1089.4" cy="242.8" r="5.4"/><circle cx="1085.7" cy="239.5" r="5.4"/><circle cx="1244.1" cy="224.8" r="5.4"/><circle cx="1169.3" cy="178.8" r="5.4"/><circle cx="1113.1" cy="236.3" r="5.4"/><circle cx="1118.5" cy="237.2" r="5.4"/><circle cx="1124.4" cy="233.8" r="5.4"/><circle cx="1130.3" cy="227.0" r="5.4"/><circle cx="1133.7" cy="229.6" r="5.4"/>
</g>
<g fill="#ff7f0e" stroke="#ff7f0e">
<circle cx="1237.8" cy="208.4" r="5.4"/>
</g>
<g fill="#f7b6d2" stroke="#f7b6d2">
<circle cx="1053.0" cy="235.7" r="5.4"/><circle cx="1060.7" cy="265.8" r="5.4"/><circle cx="1045.9" cy="272.0" r="5.4"/><circle cx="1046.3" cy="243.3" r="5.4"/><circle cx="1066.7" cy="247.8" r="5.4"/><circle cx="1066.2" cy="244.2" r="5.4"/><circle cx="1044.8" cy="241.2" r="5.4"/><circle cx="1028.5" cy="227.9" r="5.4"/><circle cx="1041.9" cy="272.9" r="5.4"/><circle cx="1062.4" cy="242.9" r="5.4"/><circle cx="1050.9" cy="242.9" r="5.4"/><circle cx="1042.6" cy="235.6" r="5.4"/><circle cx="1031.2" cy="246.7" r="5.4"/><circle cx="1060.1" cy="240.6" r="5.4"/><circle cx="1028.2" cy="247.3" r="5.4"/><circle cx="1037.6" cy="256.8" r="5.4"/><circle cx="1073.2" cy="241.3" r="5.4"/><circle cx="1018.3" cy="225.2" r="5.4"/><circle cx="1023.0" cy="237.1" r="5.4"/><circle cx="1013.1" cy="235.6" r="5.4"/><circle cx="1035.7" cy="242.1" r="5.4"/><circle cx="1028.4" cy="250.9" r="5.4"/><circle cx="1023.4" cy="247.0" r="5.4"/><circle cx="1048.4" cy="249.2" r="5.4"/><circle cx="1033.7" cy="234.1" r="5.4"/><circle cx="1052.0" cy="275.0" r="5.4"/><circle cx="1032.3" cy="250.7" r="5.4"/><circle cx="1026.8" cy="232.4" r="5.4"/><circle cx="1031.4" cy="241.6" r="5.4"/><circle cx="1056.8" cy="235.7" r="5.4"/><circle cx="1037.7" cy="247.5" r="5.4"/><circle cx="1039.8" cy="238.8" r="5.4"/><circle cx="1043.6" cy="244.1" r="5.4"/><circle cx="1038.0" cy="234.7" r="5.4"/><circle cx="1048.6" cy="239.8" r="5.4"/><circle cx="1023.9" cy="240.9" r="5.4"/><circle cx="1064.2" cy="241.7" r="5.4"/><circle cx="1034.3" cy="273.0" r="5.4"/><circle cx="1043.9" cy="274.6" r="5.4"/><circle cx="1026.5" cy="222.5" r="5.4"/><circle cx="1040.6" cy="232.5" r="5.4"/><circle cx="1035.6" cy="238.6" r="5.4"/><circle cx="1025.2" cy="245.1" r="5.4"/><circle cx="1024.8" cy="236.9" r="5.4"/><circle cx="1048.0" cy="253.5" r="5.4"/><circle cx="1050.2" cy="259.1" r="5.4"/><circle cx="1067.9" cy="249.8" r="5.4"/><circle cx="1011.0" cy="232.7" r="5.4"/><circle cx="1020.2" cy="223.0" r="5.4"/><circle cx="1031.9" cy="237.0" r="5.4"/><circle cx="1058.1" cy="256.6" r="5.4"/><circle cx="1016.1" cy="222.8" r="5.4"/><circle cx="1039.5" cy="241.6" r="5.4"/><circle cx="1065.2" cy="251.5" r="5.4"/><circle cx="1022.2" cy="230.9" r="5.4"/><circle cx="1015.1" cy="231.1" r="5.4"/><circle cx="1049.8" cy="256.2" r="5.4"/><circle cx="1042.4" cy="246.7" r="5.4"/><circle cx="1041.4" cy="240.7" r="5.4"/><circle cx="1024.9" cy="234.3" r="5.4"/><circle cx="1055.5" cy="259.1" r="5.4"/><circle cx="1044.7" cy="247.8" r="5.4"/><circle cx="1017.0" cy="234.5" r="5.4"/><circle cx="1054.8" cy="268.1" r="5.4"/><circle cx="1057.0" cy="244.1" r="5.4"/><circle cx="1055.9" cy="270.9" r="5.4"/><circle cx="1056.5" cy="240.0" r="5.4"/><circle cx="1056.3" cy="267.0" r="5.4"/><circle cx="1026.5" cy="224.4" r="5.4"/><circle cx="1045.3" cy="258.9" r="5.4"/><circle cx="1068.1" cy="243.0" r="5.4"/><circle cx="1032.2" cy="245.1" r="5.4"/><circle cx="1017.9" cy="230.7" r="5.4"/><circle cx="1020.4" cy="227.5" r="5.4"/><circle cx="1018.2" cy="237.8" r="5.4"/><circle cx="1041.2" cy="278.3" r="5.4"/><circle cx="1034.9" cy="252.4" r="5.4"/><circle cx="1036.4" cy="226.5" r="5.4"/><circle cx="1035.9" cy="278.0" r="5.4"/><circle cx="1051.6" cy="265.5" r="5.4"/><circle cx="1059.9" cy="259.0" r="5.4"/><circle cx="1031.8" cy="254.1" r="5.4"/><circle cx="1040.3" cy="275.0" r="5.4"/><circle cx="1051.9" cy="249.4" r="5.4"/><circle cx="1046.6" cy="279.4" r="5.4"/><circle cx="1020.6" cy="241.2" r="5.4"/><circle cx="1038.9" cy="272.6" r="5.4"/><circle cx="1043.8" cy="256.7" r="5.4"/><circle cx="1053.4" cy="236.8" r="5.4"/><circle cx="1055.7" cy="243.6" r="5.4"/><circle cx="1026.2" cy="249.8" r="5.4"/><circle cx="1043.6" cy="263.8" r="5.4"/><circle cx="1042.5" cy="228.7" r="5.4"/><circle cx="1046.2" cy="263.2" r="5.4"/><circle cx="1063.0" cy="265.8" r="5.4"/><circle cx="1053.4" cy="256.3" r="5.4"/><circle cx="1025.0" cy="229.6" r="5.4"/><circle cx="1036.8" cy="250.4" r="5.4"/><circle cx="1050.4" cy="261.8" r="5.4"/><circle cx="1064.7" cy="262.1" r="5.4"/><circle cx="1048.5" cy="246.3" r="5.4"/><circle cx="1031.9" cy="229.5" r="5.4"/><circle cx="1044.8" cy="230.4" r="5.4"/><circle cx="1059.8" cy="246.1" r="5.4"/><circle cx="1064.5" cy="254.2" r="5.4"/><circle cx="1030.3" cy="244.6" r="5.4"/><circle cx="1037.5" cy="266.6" r="5.4"/><circle cx="1060.9" cy="253.8" r="5.4"/><circle cx="1023.5" cy="221.2" r="5.4"/><circle cx="1036.3" cy="244.7" r="5.4"/><circle cx="1047.1" cy="268.1" r="5.4"/><circle cx="1022.6" cy="226.0" r="5.4"/><circle cx="1064.2" cy="260.4" r="5.4"/><circle cx="1055.9" cy="253.4" r="5.4"/><circle cx="1055.4" cy="246.1" r="5.4"/><circle cx="1039.3" cy="252.7" r="5.4"/><circle cx="1035.9" cy="262.9" r="5.4"/><circle cx="1039.4" cy="244.5" r="5.4"/><circle cx="1027.7" cy="241.9" r="5.4"/><circle cx="1052.0" cy="242.0" r="5.4"/><circle cx="1051.8" cy="269.4" r="5.4"/><circle cx="1053.7" cy="262.7" r="5.4"/><circle cx="1039.2" cy="268.1" r="5.4"/><circle cx="1051.9" cy="272.8" r="5.4"/><circle cx="1044.3" cy="234.0" r="5.4"/><circle cx="1071.2" cy="241.2" r="5.4"/><circle cx="1072.0" cy="243.7" r="5.4"/><circle cx="1062.4" cy="246.7" r="5.4"/><circle cx="1061.1" cy="251.0" r="5.4"/><circle cx="1058.2" cy="262.2" r="5.4"/><circle cx="1047.7" cy="256.1" r="5.4"/><circle cx="1058.1" cy="237.3" r="5.4"/><circle cx="1050.3" cy="234.5" r="5.4"/><circle cx="1043.0" cy="258.9" r="5.4"/><circle cx="1047.4" cy="232.1" r="5.4"/><circle cx="1015.6" cy="227.7" r="5.4"/><circle cx="1030.2" cy="225.0" r="5.4"/><circle cx="1067.6" cy="241.8" r="5.4"/><circle cx="1036.4" cy="275.8" r="5.4"/><circle cx="1046.5" cy="237.2" r="5.4"/><circle cx="1045.6" cy="266.6" r="5.4"/><circle cx="1029.0" cy="238.8" r="5.4"/><circle cx="1037.9" cy="228.9" r="5.4"/><circle cx="1052.5" cy="254.5" r="5.4"/><circle cx="1041.1" cy="262.5" r="5.4"/><circle cx="1053.1" cy="259.0" r="5.4"/><circle cx="1053.4" cy="247.4" r="5.4"/><circle cx="1033.3" cy="226.2" r="5.4"/><circle cx="1037.0" cy="230.8" r="5.4"/><circle cx="1048.8" cy="271.8" r="5.4"/><circle cx="1034.3" cy="267.0" r="5.4"/><circle cx="1049.4" cy="264.9" r="5.4"/><circle cx="1071.8" cy="248.1" r="5.4"/><circle cx="1028.3" cy="231.6" r="5.4"/><circle cx="1037.2" cy="259.1" r="5.4"/><circle cx="1044.1" cy="249.5" r="5.4"/><circle cx="1034.8" cy="228.2" r="5.4"/><circle cx="1027.2" cy="235.8" r="5.4"/><circle cx="1035.0" cy="247.6" r="5.4"/><circle cx="1012.2" cy="229.2" r="5.4"/><circle cx="1062.1" cy="255.9" r="5.4"/><circle cx="1014.2" cy="225.5" r="5.4"/><circle cx="1030.0" cy="235.7" r="5.4"/><circle cx="1040.7" cy="249.3" r="5.4"/><circle cx="1076.5" cy="243.7" r="5.4"/><circle cx="1021.8" cy="244.7" r="5.4"/><circle cx="1049.4" cy="277.8" r="5.4"/><circle cx="1059.1" cy="250.2" r="5.4"/><circle cx="1057.7" cy="267.9" r="5.4"/><circle cx="1039.4" cy="256.5" r="5.4"/><circle cx="1038.4" cy="278.8" r="5.4"/><circle cx="1015.9" cy="237.8" r="5.4"/><circle cx="1042.7" cy="266.7" r="5.4"/><circle cx="1046.2" cy="254.6" r="5.4"/><circle cx="1043.1" cy="236.8" r="5.4"/><circle cx="1040.8" cy="254.4" r="5.4"/><circle cx="1019.8" cy="234.3" r="5.4"/><circle cx="1033.2" cy="232.0" r="5.4"/><circle cx="1062.1" cy="261.6" r="5.4"/><circle cx="1043.5" cy="270.0" r="5.4"/><circle cx="1011.7" cy="226.2" r="5.4"/><circle cx="1037.4" cy="268.2" r="5.4"/><circle cx="1055.1" cy="249.6" r="5.4"/><circle cx="1047.6" cy="275.7" r="5.4"/><circle cx="1051.9" cy="239.0" r="5.4"/><circle cx="1035.5" cy="212.6" r="5.4"/><circle cx="1108.3" cy="246.8" r="5.4"/><circle cx="1107.4" cy="246.7" r="5.4"/>
</g>
</g>
<g><!-- Cebpa KO -->
<g fill="#98df8a" stroke="#98df8a">
<circle cx="262.7" cy="656.9" r="5.4"/>
</g>
<g fill="#ffbb78" stroke="#ffbb78">
<circle cx="245.6" cy="682.5" r="5.4"/>
</g>
<g fill="#1f77b4" stroke="#1f77b4">
<circle cx="425.0" cy="685.6" r="5.4"/><circle cx="426.6" cy="684.5" r="5.4"/><circle cx="425.8" cy="683.6" r="5.4"/><circle cx="255.2" cy="754.4" r="5.4"/><circle cx="267.1" cy="757.5" r="5.4"/>
</g>
<g fill="#98df8a" stroke="#98df8a">
<circle cx="268.5" cy="757.5" r="5.4"/>
</g>
<g fill="#f7b6d2" stroke="#f7b6d2">
<circle cx="210.2" cy="732.3" r="5.4"/><circle cx="209.2" cy="732.0" r="5.4"/>
</g>
<g fill="#ff9896" stroke="#ff9896">
<circle cx="215.4" cy="806.0" r="5.4"/>
</g>
<g fill="#aec7e8" stroke="#aec7e8">
<circle cx="465.6" cy="730.4" r="5.4"/><circle cx="465.6" cy="760.0" r="5.4"/><circle cx="433.8" cy="760.8" r="5.4"/><circle cx="438.3" cy="757.5" r="5.4"/>
</g>
<g fill="#1f77b4" stroke="#1f77b4">
<circle cx="267.0" cy="806.0" r="5.4"/><circle cx="279.1" cy="801.3" r="5.4"/><circle cx="266.5" cy="798.4" r="5.4"/><circle cx="268.4" cy="798.8" r="5.4"/><circle cx="277.0" cy="816.0" r="5.4"/><circle cx="271.0" cy="796.0" r="5.4"/><circle cx="273.6" cy="795.1" r="5.4"/><circle cx="277.7" cy="793.8" r="5.4"/><circle cx="277.9" cy="799.1" r="5.4"/><circle cx="282.1" cy="801.5" r="5.4"/><circle cx="268.4" cy="803.5" r="5.4"/><circle cx="273.0" cy="788.1" r="5.4"/><circle cx="276.6" cy="810.7" r="5.4"/><circle cx="267.0" cy="792.7" r="5.4"/><circle cx="273.1" cy="811.3" r="5.4"/><circle cx="272.9" cy="808.4" r="5.4"/><circle cx="276.0" cy="795.0" r="5.4"/><circle cx="270.4" cy="800.5" r="5.4"/><circle cx="276.1" cy="808.7" r="5.4"/><circle cx="267.0" cy="802.6" r="5.4"/><circle cx="275.5" cy="814.6" r="5.4"/><circle cx="269.0" cy="808.9" r="5.4"/><circle cx="272.5" cy="797.9" r="5.4"/><circle cx="265.6" cy="795.0" r="5.4"/><circle cx="281.9" cy="814.2" r="5.4"/><circle cx="268.7" cy="788.6" r="5.4"/><circle cx="279.0" cy="813.6" r="5.4"/><circle cx="276.7" cy="805.5" r="5.4"/><circle cx="278.0" cy="808.0" r="5.4"/><circle cx="282.9" cy="811.6" r="5.4"/><circle cx="274.0" cy="791.0" r="5.4"/><circle cx="278.9" cy="795.1" r="5.4"/><circle cx="274.3" cy="798.7" r="5.4"/><circle cx="280.9" cy="802.9" r="5.4"/><circle cx="273.5" cy="784.6" r="5.4"/><circle cx="266.5" cy="807.9" r="5.4"/><circle cx="270.8" cy="806.7" r="5.4"/><circle cx="275.7" cy="803.4" r="5.4"/><circle cx="274.5" cy="801.0" r="5.4"/><circle cx="281.2" cy="808.9" r="5.4"/><circle cx="271.4" cy="786.1" r="5.4"/><circle cx="283.9" cy="813.1" r="5.4"/><circle cx="279.6" cy="806.5" r="5.4"/><circle cx="274.9" cy="792.3" r="5.4"/><circle cx="272.7" cy="803.5" r="5.4"/><circle cx="271.9" cy="793.1" r="5.4"/><circle cx="275.5" cy="787.8" r="5.4"/><circle cx="280.0" cy="812.0" r="5.4"/><circle cx="283.1" cy="795.3" r="5.4"/><circle cx="276.0" cy="800.5" r="5.4"/><circle cx="269.9" cy="811.4" r="5.4"/><circle cx="267.6" cy="796.0" r="5.4"/><circle cx="267.3" cy="810.9" r="5.4"/><circle cx="273.4" cy="805.2" r="5.4"/><circle cx="272.5" cy="813.6" r="5.4"/><circle cx="277.4" cy="803.1" r="5.4"/><circle cx="269.0" cy="793.7" r="5.4"/><circle cx="270.0" cy="789.9" r="5.4"/><circle cx="267.4" cy="800.7" r="5.4"/><circle cx="281.1" cy="797.6" r="5.4"/><circle cx="282.6" cy="793.8" r="5.4"/><circle cx="309.9" cy="817.8" r="5.4"/><circle cx="308.8" cy="816.6" r="5.4"/><circle cx="309.8" cy="816.5" r="5.4"/>
</g>
<g fill="#c49c94" stroke="#c49c94">
<circle cx="388.0" cy="841.4" r="5.4"/><circle cx="378.1" cy="838.8" r="5.4"/><circle cx="388.8" cy="829.8" r="5.4"/><circle cx="358.7" cy="850.5" r="5.4"/><circle cx="376.3" cy="813.8" r="5.4"/><circle cx="373.0" cy="854.9" r="5.4"/><circle cx="391.1" cy="828.9" r="5.4"/><circle cx="367.4" cy="826.4" r="5.4"/><circle cx="386.0" cy="839.5" r="5.4"/><circle cx="391.0" cy="847.7" r="5.4"/><circle cx="388.6" cy="859.4" r="5.4"/><circle cx="378.8" cy="814.4" r="5.4"/><circle cx="385.5" cy="823.9" r="5.4"/><circle cx="393.8" cy="838.3" r="5.4"/><circle cx="358.5" cy="826.0" r="5.4"/><circle cx="389.0" cy="845.2" r="5.4"/><circle cx="354.4" cy="819.4" r="5.4"/><circle cx="396.0" cy="829.3" r="5.4"/><circle cx="377.5" cy="811.5" r="5.4"/><circle cx="369.5" cy="853.5" r="5.4"/><circle cx="382.5" cy="843.5" r="5.4"/><circle cx="382.5" cy="827.1" r="5.4"/><circle cx="380.0" cy="857.1" r="5.4"/><circle cx="382.8" cy="838.7" r="5.4"/><circle cx="383.5" cy="840.4" r="5.4"/><circle cx="363.8" cy="826.9" r="5.4"/><circle cx="380.2" cy="819.8" r="5.4"/><circle cx="377.4" cy="835.2" r="5.4"/><circle cx="353.5" cy="831.4" r="5.4"/><circle cx="355.1" cy="822.6" r="5.4"/><circle cx="355.3" cy="835.6" r="5.4"/><circle cx="390.3" cy="826.2" r="5.4"/><circle cx="387.8" cy="853.6" r="5.4"/><circle cx="372.0" cy="827.1" r="5.4"/><circle cx="384.5" cy="834.9" r="5.4"/><circle cx="368.0" cy="820.0" r="5.4"/><circle cx="360.9" cy="839.4" r="5.4"/><circle cx="363.7" cy="834.1" r="5.4"/><circle cx="369.7" cy="847.2" r="5.4"/><circle cx="379.3" cy="845.3" r="5.4"/><circle cx="359.8" cy="836.5" r="5.4"/><circle cx="360.1" cy="820.8" r="5.4"/><circle cx="362.9" cy="841.0" r="5.4"/><circle cx="396.1" cy="841.8" r="5.4"/><circle cx="385.9" cy="845.5" r="5.4"/><circle cx="400.6" cy="831.5" r="5.4"/><circle cx="371.0" cy="850.6" r="5.4"/><circle cx="384.0" cy="819.3" r="5.4"/><circle cx="365.2" cy="832.4" r="5.4"/><circle cx="358.7" cy="830.2" r="5.4"/><circle cx="391.6" cy="834.5" r="5.4"/><circle cx="381.9" cy="846.8" r="5.4"/><circle cx="384.7" cy="828.7" r="5.4"/><circle cx="369.6" cy="842.3" r="5.4"/><circle cx="397.0" cy="832.0" r="5.4"/><circle cx="357.6" cy="831.3" r="5.4"/><circle cx="363.0" cy="823.4" r="5.4"/><circle cx="357.1" cy="839.0" r="5.4"/><circle cx="381.7" cy="835.8" r="5.4"/><circle cx="383.7" cy="855.0" r="5.4"/><circle cx="372.8" cy="828.8" r="5.4"/><circle cx="386.0" cy="831.5" r="5.4"/><circle cx="363.7" cy="817.2" r="5.4"/><circle cx="386.9" cy="851.3" r="5.4"/><circle cx="358.8" cy="845.6" r="5.4"/><circle cx="360.2" cy="848.2" r="5.4"/><circle cx="357.5" cy="819.7" r="5.4"/><circle cx="386.7" cy="856.7" r="5.4"/><circle cx="376.5" cy="856.2" r="5.4"/><circle cx="383.5" cy="813.4" r="5.4"/><circle cx="381.9" cy="852.0" r="5.4"/><circle cx="391.9" cy="841.0" r="5.4"/><circle cx="365.7" cy="852.1" r="5.4"/><circle cx="350.3" cy="831.5" r="5.4"/><circle cx="396.2" cy="834.3" r="5.4"/><circle cx="373.4" cy="842.2" r="5.4"/><circle cx="369.1" cy="845.2" r="5.4"/><circle cx="382.2" cy="823.7" r="5.4"/><circle cx="389.5" cy="851.3" r="5.4"/><circle cx="393.0" cy="845.8" r="5.4"/><circle cx="387.1" cy="862.4" r="5.4"/><circle cx="382.1" cy="817.1" r="5.4"/><circle cx="375.6" cy="826.7" r="5.4"/><circle cx="372.3" cy="818.7" r="5.4"/><circle cx="390.3" cy="839.2" r="5.4"/><circle cx="374.9" cy="835.9" r="5.4"/><circle cx="360.3" cy="842.0" r="5.4"/><circle cx="379.0" cy="827.0" r="5.4"/><circle cx="386.7" cy="825.0" r="5.4"/><circle cx="360.9" cy="844.2" r="5.4"/><circle cx="356.4" cy="848.6" r="5.4"/><circle cx="378.1" cy="817.6" r="5.4"/><circle cx="364.3" cy="837.8" r="5.4"/><circle cx="367.1" cy="840.8" r="5.4"/><circle cx="384.8" cy="859.8" r="5.4"/><circle cx="360.3" cy="851.8" r="5.4"/><circle cx="384.1" cy="815.9" r="5.4"/><circle cx="398.2" cy="838.7" r="5.4"/><circle cx="355.1" cy="825.4" r="5.4"/><circle cx="374.2" cy="821.7" r="5.4"/><circle cx="373.0" cy="816.0" r="5.4"/><circle cx="367.6" cy="832.4" r="5.4"/><circle cx="381.9" cy="861.3" r="5.4"/><circle cx="375.1" cy="839.5" r="5.4"/><circle cx="374.7" cy="846.9" r="5.4"/><circle cx="367.4" cy="838.1" r="5.4"/><circle cx="351.4" cy="825.9" r="5.4"/><circle cx="367.1" cy="822.3" r="5.4"/><circle cx="362.7" cy="847.5" r="5.4"/><circle cx="366.9" cy="834.3" r="5.4"/><circle cx="371.2" cy="829.4" r="5.4"/><circle cx="382.1" cy="857.8" r="5.4"/><circle cx="368.6" cy="851.2" r="5.4"/><circle cx="370.0" cy="817.8" r="5.4"/><circle cx="374.6" cy="819.4" r="5.4"/><circle cx="377.3" cy="853.5" r="5.4"/><circle cx="389.3" cy="847.7" r="5.4"/><circle cx="392.7" cy="826.6" r="5.4"/><circle cx="388.4" cy="835.9" r="5.4"/><circle cx="371.4" cy="844.8" r="5.4"/><circle cx="390.4" cy="856.2" r="5.4"/><circle cx="389.0" cy="831.3" r="5.4"/><circle cx="378.0" cy="829.0" r="5.4"/><circle cx="380.1" cy="811.2" r="5.4"/><circle cx="366.2" cy="849.0" r="5.4"/><circle cx="362.4" cy="830.2" r="5.4"/><circle cx="376.6" cy="832.6" r="5.4"/><circle cx="370.3" cy="823.9" r="5.4"/><circle cx="380.0" cy="840.5" r="5.4"/><circle cx="384.0" cy="847.6" r="5.4"/><circle cx="394.6" cy="831.1" r="5.4"/><circle cx="365.4" cy="819.3" r="5.4"/><circle cx="370.7" cy="836.2" r="5.4"/><circle cx="367.6" cy="828.6" r="5.4"/><circle cx="380.3" cy="850.5" r="5.4"/><circle cx="367.8" cy="855.1" r="5.4"/><circle cx="372.5" cy="812.5" r="5.4"/><circle cx="361.4" cy="832.0" r="5.4"/><circle cx="373.0" cy="832.2" r="5.4"/><circle cx="380.5" cy="828.8" r="5.4"/><circle cx="378.0" cy="847.4" r="5.4"/><circle cx="376.4" cy="845.2" r="5.4"/><circle cx="358.9" cy="822.7" r="5.4"/><circle cx="375.8" cy="851.1" r="5.4"/><circle cx="382.2" cy="853.2" r="5.4"/><circle cx="363.8" cy="845.1" r="5.4"/><circle cx="398.0" cy="835.5" r="5.4"/><circle cx="359.5" cy="816.1" r="5.4"/><circle cx="378.5" cy="822.4" r="5.4"/><circle cx="360.3" cy="825.5" r="5.4"/><circle cx="377.3" cy="841.5" r="5.4"/><circle cx="366.9" cy="816.7" r="5.4"/><circle cx="381.9" cy="831.8" r="5.4"/><circle cx="355.8" cy="828.0" r="5.4"/><circle cx="371.8" cy="837.3" r="5.4"/><circle cx="353.2" cy="829.5" r="5.4"/><circle cx="379.6" cy="831.4" r="5.4"/><circle cx="317.7" cy="811.3" r="5.4"/><circle cx="403.0" cy="860.8" r="5.4"/><circle cx="402.1" cy="858.9" r="5.4"/><circle cx="400.9" cy="861.7" r="5.4"/><circle cx="401.7" cy="830.2" r="5.4"/>
</g>
<g fill="#8c564b" stroke="#8c564b">
<circle cx="297.8" cy="852.2" r="5.4"/><circle cx="339.3" cy="871.3" r="5.4"/><circle cx="338.2" cy="871.9" r="5.4"/><circle cx="340.8" cy="873.2" r="5.4"/><circle cx="341.8" cy="889.3" r="5.4"/>
</g>
<g fill="#8c564b" stroke="#8c564b">
<circle cx="289.2" cy="897.5" r="5.4"/>
</g>
<g fill="#9467bd" stroke="#9467bd">
<circle cx="351.8" cy="793.1" r="5.4"/><circle cx="379.6" cy="740.6" r="5.4"/><circle cx="349.9" cy="791.6" r="5.4"/><circle cx="348.7" cy="773.8" r="5.4"/><circle cx="372.1" cy="724.9" r="5.4"/><circle cx="391.7" cy="731.1" r="5.4"/><circle cx="389.7" cy="751.5" r="5.4"/><circle cx="355.4" cy="751.6" r="5.4"/><circle cx="362.5" cy="789.6" r="5.4"/><circle cx="368.9" cy="727.8" r="5.4"/><circle cx="346.2" cy="799.9" r="5.4"/><circle cx="363.2" cy="777.5" r="5.4"/><circle cx="359.8" cy="755.9" r="5.4"/><circle cx="343.4" cy="765.4" r="5.4"/><circle cx="331.0" cy="767.6" r="5.4"/><circle cx="369.7" cy="738.9" r="5.4"/><circle cx="357.5" cy="730.2" r="5.4"/><circle cx="370.6" cy="811.9" r="5.4"/><circle cx="381.3" cy="748.6" r="5.4"/><circle cx="360.4" cy="729.4" r="5.4"/><circle cx="361.2" cy="766.6" r="5.4"/><circle cx="335.8" cy="767.0" r="5.4"/><circle cx="353.4" cy="785.8" r="5.4"/><circle cx="368.6" cy="790.2" r="5.4"/><circle cx="368.0" cy="761.4" r="5.4"/><circle cx="329.3" cy="770.2" r="5.4"/><circle cx="375.7" cy="784.3" r="5.4"/><circle cx="366.8" cy="755.3" r="5.4"/><circle cx="342.5" cy="768.1" r="5.4"/><circle cx="373.0" cy="789.1" r="5.4"/><circle cx="355.7" cy="807.2" r="5.4"/><circle cx="318.2" cy="757.1" r="5.4"/><circle cx="349.0" cy="798.7" r="5.4"/><circle cx="377.2" cy="733.2" r="5.4"/><circle cx="378.6" cy="792.5" r="5.4"/><circle cx="323.7" cy="761.1" r="5.4"/><circle cx="363.6" cy="797.7" r="5.4"/><circle cx="359.3" cy="771.0" r="5.4"/><circle cx="357.7" cy="786.8" r="5.4"/><circle cx="384.6" cy="742.1" r="5.4"/><circle cx="366.7" cy="772.7" r="5.4"/><circle cx="360.4" cy="799.5" r="5.4"/><circle cx="356.8" cy="761.8" r="5.4"/><circle cx="354.1" cy="738.5" r="5.4"/><circle cx="348.0" cy="788.6" r="5.4"/><circle cx="339.4" cy="758.7" r="5.4"/><circle cx="347.3" cy="769.7" r="5.4"/><circle cx="337.0" cy="770.3" r="5.4"/><circle cx="334.2" cy="783.1" r="5.4"/><circle cx="357.8" cy="809.2" r="5.4"/><circle cx="363.8" cy="761.0" r="5.4"/><circle cx="373.2" cy="775.8" r="5.4"/><circle cx="375.9" cy="775.9" r="5.4"/><circle cx="384.7" cy="795.3" r="5.4"/><circle cx="365.5" cy="758.8" r="5.4"/><circle cx="351.4" cy="790.2" r="5.4"/><circle cx="373.2" cy="808.0" r="5.4"/><circle cx="353.2" cy="774.2" r="5.4"/><circle cx="364.9" cy="796.7" r="5.4"/><circle cx="350.4" cy="757.2" r="5.4"/><circle cx="374.9" cy="754.6" r="5.4"/><circle cx="347.4" cy="796.6" r="5.4"/><circle cx="370.2" cy="784.1" r="5.4"/><circle cx="372.3" cy="765.5" r="5.4"/><circle cx="327.0" cy="776.2" r="5.4"/><circle cx="322.4" cy="752.7" r="5.4"/><circle cx="339.5" cy="755.8" r="5.4"/><circle cx="350.7" cy="783.5" r="5.4"/><circle cx="318.1" cy="764.8" r="5.4"/><circle cx="363.6" cy="767.4" r="5.4"/><circle cx="327.0" cy="751.0" r="5.4"/><circle cx="359.5" cy="789.8" r="5.4"/><circle cx="385.4" cy="761.0" r="5.4"/><circle cx="365.2" cy="765.6" r="5.4"/><circle cx="362.6" cy="801.6" r="5.4"/><circle cx="324.2" cy="773.7" r="5.4"/><circle cx="361.3" cy="810.6" r="5.4"/><circle cx="338.4" cy="773.5" r="5.4"/><circle cx="316.3" cy="774.1" r="5.4"/><circle cx="374.8" cy="762.3" r="5.4"/><circle cx="337.6" cy="752.0" r="5.4"/><circle cx="383.1" cy="783.0" r="5.4"/><circle cx="370.2" cy="759.1" r="5.4"/><circle cx="343.7" cy="796.3" r="5.4"/><circle cx="375.7" cy="805.4" r="5.4"/><circle cx="370.6" cy="779.0" r="5.4"/><circle cx="354.3" cy="777.9" r="5.4"/><circle cx="389.9" cy="727.7" r="5.4"/><circle cx="367.3" cy="791.9" r="5.4"/><circle cx="376.9" cy="728.0" r="5.4"/><circle cx="341.0" cy="773.3" r="5.4"/><circle cx="368.5" cy="770.6" r="5.4"/><circle cx="321.5" cy="774.9" r="5.4"/><circle cx="350.7" cy="740.3" r="5.4"/><circle cx="344.7" cy="761.5" r="5.4"/><circle cx="354.0" cy="789.6" r="5.4"/><circle cx="368.3" cy="785.3" r="5.4"/><circle cx="361.5" cy="757.1" r="5.4"/><circle cx="362.6" cy="749.8" r="5.4"/><circle cx="379.9" cy="770.4" r="5.4"/><circle cx="359.9" cy="773.7" r="5.4"/><circle cx="342.6" cy="786.2" r="5.4"/><circle cx="342.8" cy="743.4" r="5.4"/><circle cx="379.0" cy="766.5" r="5.4"/><circle cx="373.7" cy="749.9" r="5.4"/><circle cx="393.4" cy="735.9" r="5.4"/><circle cx="361.6" cy="783.3" r="5.4"/><circle cx="388.1" cy="735.8" r="5.4"/><circle cx="338.2" cy="760.2" r="5.4"/><circle cx="379.0" cy="805.8" r="5.4"/><circle cx="349.4" cy="754.6" r="5.4"/><circle cx="392.0" cy="734.1" r="5.4"/><circle cx="354.7" cy="744.7" r="5.4"/><circle cx="348.7" cy="740.1" r="5.4"/><circle cx="373.9" cy="780.9" r="5.4"/><circle cx="392.1" cy="742.2" r="5.4"/><circle cx="375.8" cy="802.5" r="5.4"/><circle cx="382.5" cy="731.3" r="5.4"/><circle cx="333.9" cy="780.6" r="5.4"/><circle cx="335.9" cy="764.5" r="5.4"/><circle cx="375.7" cy="731.2" r="5.4"/><circle cx="312.4" cy="754.0" r="5.4"/><circle cx="353.8" cy="801.0" r="5.4"/><circle cx="377.1" cy="774.3" r="5.4"/><circle cx="351.8" cy="814.9" r="5.4"/><circle cx="339.0" cy="793.0" r="5.4"/><circle cx="393.1" cy="756.1" r="5.4"/><circle cx="342.1" cy="760.9" r="5.4"/><circle cx="373.4" cy="737.0" r="5.4"/><circle cx="353.8" cy="770.9" r="5.4"/><circle cx="364.2" cy="779.5" r="5.4"/><circle cx="345.4" cy="767.9" r="5.4"/><circle cx="334.2" cy="785.4" r="5.4"/><circle cx="367.6" cy="767.5" r="5.4"/><circle cx="382.5" cy="751.3" r="5.4"/><circle cx="351.0" cy="770.5" r="5.4"/><circle cx="342.1" cy="756.1" r="5.4"/><circle cx="345.0" cy="786.3" r="5.4"/><circle cx="369.6" cy="808.1" r="5.4"/><circle cx="379.4" cy="735.4" r="5.4"/><circle cx="381.0" cy="801.4" r="5.4"/><circle cx="366.5" cy="807.3" r="5.4"/><circle cx="377.0" cy="771.6" r="5.4"/><circle cx="371.3" cy="791.9" r="5.4"/><circle cx="377.0" cy="738.3" r="5.4"/><circle cx="314.0" cy="767.2" r="5.4"/><circle cx="384.7" cy="789.3" r="5.4"/><circle cx="368.2" cy="810.9" r="5.4"/><circle cx="339.6" cy="794.6" r="5.4"/><circle cx="365.9" cy="814.0" r="5.4"/><circle cx="386.6" cy="726.7" r="5.4"/><circle cx="353.5" cy="799.6" r="5.4"/><circle cx="359.6" cy="737.1" r="5.4"/><circle cx="371.8" cy="767.0" r="5.4"/><circle cx="382.2" cy="766.8" r="5.4"/><circle cx="337.7" cy="786.4" r="5.4"/><circle cx="314.9" cy="764.4" r="5.4"/><circle cx="350.7" cy="744.7" r="5.4"/><circle cx="382.7" cy="770.2" r="5.4"/><circle cx="327.0" cy="765.5" r="5.4"/><circle cx="374.9" cy="791.7" r="5.4"/><circle cx="344.8" cy="750.0" r="5.4"/><circle cx="357.6" cy="796.7" r="5.4"/><circle cx="343.9" cy="776.2" r="5.4"/><circle cx="351.7" cy="752.0" r="5.4"/><circle cx="334.5" cy="761.3" r="5.4"/><circle cx="379.7" cy="764.4" r="5.4"/><circle cx="368.1" cy="748.0" r="5.4"/><circle cx="366.2" cy="770.0" r="5.4"/><circle cx="361.0" cy="769.9" r="5.4"/><circle cx="369.3" cy="733.9" r="5.4"/><circle cx="327.5" cy="754.2" r="5.4"/><circle cx="310.7" cy="758.2" r="5.4"/><circle cx="384.0" cy="745.7" r="5.4"/><circle cx="346.7" cy="764.4" r="5.4"/><circle cx="330.7" cy="754.9" r="5.4"/><circle cx="340.0" cy="751.2" r="5.4"/><circle cx="351.8" cy="732.3" r="5.4"/><circle cx="356.5" cy="792.4" r="5.4"/><circle cx="358.4" cy="753.0" r="5.4"/><circle cx="353.5" cy="742.7" r="5.4"/><circle cx="361.3" cy="809.2" r="5.4"/><circle cx="389.8" cy="763.5" r="5.4"/><circle cx="348.7" cy="767.9" r="5.4"/><circle cx="377.4" cy="799.3" r="5.4"/><circle cx="318.1" cy="751.3" r="5.4"/><circle cx="336.8" cy="782.3" r="5.4"/><circle cx="316.5" cy="761.8" r="5.4"/><circle cx="383.0" cy="801.1" r="5.4"/><circle cx="351.3" cy="808.0" r="5.4"/><circle cx="310.7" cy="765.5" r="5.4"/><circle cx="343.1" cy="806.2" r="5.4"/><circle cx="311.2" cy="770.3" r="5.4"/><circle cx="359.4" cy="757.6" r="5.4"/><circle cx="354.1" cy="810.9" r="5.4"/><circle cx="313.8" cy="773.0" r="5.4"/><circle cx="321.7" cy="776.0" r="5.4"/><circle cx="357.4" cy="742.7" r="5.4"/><circle cx="327.0" cy="779.1" r="5.4"/><circle cx="370.0" cy="746.6" r="5.4"/><circle cx="334.1" cy="748.3" r="5.4"/><circle cx="363.9" cy="729.7" r="5.4"/><circle cx="343.4" cy="750.0" r="5.4"/><circle cx="343.8" cy="788.8" r="5.4"/><circle cx="350.3" cy="736.0" r="5.4"/><circle cx="382.4" cy="757.4" r="5.4"/><circle cx="340.4" cy="776.5" r="5.4"/><circle cx="352.9" cy="754.9" r="5.4"/><circle cx="371.9" cy="745.5" r="5.4"/><circle cx="365.0" cy="789.8" r="5.4"/><circle cx="342.9" cy="751.2" r="5.4"/><circle cx="365.7" cy="777.5" r="5.4"/><circle cx="360.8" cy="726.0" r="5.4"/><circle cx="321.8" cy="749.2" r="5.4"/><circle cx="362.8" cy="772.7" r="5.4"/><circle cx="340.2" cy="744.7" r="5.4"/><circle cx="344.2" cy="770.7" r="5.4"/><circle cx="388.3" cy="761.9" r="5.4"/><circle cx="378.8" cy="741.7" r="5.4"/><circle cx="383.6" cy="739.1" r="5.4"/><circle cx="391.7" cy="746.2" r="5.4"/><circle cx="372.7" cy="739.5" r="5.4"/><circle cx="373.4" cy="727.3" r="5.4"/><circle cx="359.4" cy="728.2" r="5.4"/><circle cx="334.4" cy="791.3" r="5.4"/><circle cx="358.8" cy="738.9" r="5.4"/><circle cx="358.9" cy="733.7" r="5.4"/><circle cx="387.6" cy="751.6" r="5.4"/><circle cx="362.6" cy="804.8" r="5.4"/><circle cx="340.8" cy="782.9" r="5.4"/><circle cx="325.0" cy="759.0" r="5.4"/><circle cx="373.5" cy="734.1" r="5.4"/><circle cx="352.9" cy="761.1" r="5.4"/><circle cx="371.8" cy="736.0" r="5.4"/><circle cx="381.5" cy="787.2" r="5.4"/><circle cx="371.9" cy="759.0" r="5.4"/><circle cx="330.1" cy="751.9" r="5.4"/><circle cx="368.4" cy="780.6" r="5.4"/><circle cx="343.3" cy="793.7" r="5.4"/><circle cx="332.0" cy="779.6" r="5.4"/><circle cx="336.2" cy="790.0" r="5.4"/><circle cx="355.7" cy="763.9" r="5.4"/><circle cx="353.9" cy="779.3" r="5.4"/><circle cx="333.3" cy="789.3" r="5.4"/><circle cx="355.6" cy="727.2" r="5.4"/><circle cx="385.5" cy="729.2" r="5.4"/><circle cx="353.8" cy="796.2" r="5.4"/><circle cx="379.1" cy="795.5" r="5.4"/><circle cx="377.2" cy="755.2" r="5.4"/><circle cx="385.1" cy="754.3" r="5.4"/><circle cx="370.8" cy="798.4" r="5.4"/><circle cx="350.0" cy="811.8" r="5.4"/><circle cx="357.3" cy="805.6" r="5.4"/><circle cx="314.9" cy="759.4" r="5.4"/><circle cx="348.4" cy="741.9" r="5.4"/><circle cx="336.6" cy="795.2" r="5.4"/><circle cx="310.6" cy="751.9" r="5.4"/><circle cx="367.1" cy="798.6" r="5.4"/><circle cx="323.3" cy="758.5" r="5.4"/><circle cx="347.6" cy="776.3" r="5.4"/><circle cx="380.9" cy="726.1" r="5.4"/><circle cx="369.5" cy="801.0" r="5.4"/><circle cx="388.6" cy="729.9" r="5.4"/><circle cx="393.8" cy="751.8" r="5.4"/><circle cx="328.0" cy="767.5" r="5.4"/><circle cx="336.1" cy="778.1" r="5.4"/><circle cx="375.7" cy="745.9" r="5.4"/><circle cx="345.4" cy="792.1" r="5.4"/><circle cx="346.4" cy="808.9" r="5.4"/><circle cx="380.4" cy="775.9" r="5.4"/><circle cx="384.5" cy="799.6" r="5.4"/><circle cx="365.3" cy="746.2" r="5.4"/><circle cx="382.7" cy="754.9" r="5.4"/><circle cx="373.5" cy="783.9" r="5.4"/><circle cx="341.5" cy="799.9" r="5.4"/><circle cx="331.8" cy="786.6" r="5.4"/><circle cx="373.6" cy="795.0" r="5.4"/><circle cx="339.7" cy="767.3" r="5.4"/><circle cx="323.2" cy="768.0" r="5.4"/><circle cx="341.0" cy="765.0" r="5.4"/><circle cx="346.5" cy="805.1" r="5.4"/><circle cx="361.3" cy="761.2" r="5.4"/><circle cx="317.3" cy="768.4" r="5.4"/><circle cx="357.9" cy="777.8" r="5.4"/><circle cx="378.2" cy="787.4" r="5.4"/><circle cx="307.8" cy="758.5" r="5.4"/><circle cx="373.7" cy="786.1" r="5.4"/><circle cx="379.0" cy="746.1" r="5.4"/><circle cx="343.6" cy="783.3" r="5.4"/><circle cx="321.6" cy="754.2" r="5.4"/><circle cx="371.5" cy="754.1" r="5.4"/><circle cx="314.5" cy="760.7" r="5.4"/><circle cx="322.2" cy="771.1" r="5.4"/><circle cx="385.6" cy="791.8" r="5.4"/><circle cx="340.7" cy="789.4" r="5.4"/><circle cx="348.3" cy="785.5" r="5.4"/><circle cx="346.7" cy="812.4" r="5.4"/><circle cx="388.3" cy="740.5" r="5.4"/><circle cx="348.1" cy="757.1" r="5.4"/><circle cx="357.2" cy="798.6" r="5.4"/><circle cx="348.6" cy="782.7" r="5.4"/><circle cx="351.0" cy="796.5" r="5.4"/><circle cx="362.8" cy="787.3" r="5.4"/><circle cx="362.9" cy="811.4" r="5.4"/><circle cx="367.9" cy="729.5" r="5.4"/><circle cx="319.0" cy="769.7" r="5.4"/><circle cx="356.0" cy="755.6" r="5.4"/><circle cx="345.0" cy="779.3" r="5.4"/><circle cx="383.9" cy="726.6" r="5.4"/><circle cx="382.2" cy="736.6" r="5.4"/><circle cx="385.2" cy="767.6" r="5.4"/><circle cx="372.3" cy="752.9" r="5.4"/><circle cx="357.5" cy="768.6" r="5.4"/><circle cx="374.7" cy="799.4" r="5.4"/><circle cx="352.6" cy="768.3" r="5.4"/><circle cx="352.1" cy="801.7" r="5.4"/><circle cx="364.9" cy="756.0" r="5.4"/><circle cx="360.9" cy="749.4" r="5.4"/><circle cx="357.9" cy="746.6" r="5.4"/><circle cx="377.1" cy="789.9" r="5.4"/><circle cx="334.3" cy="777.2" r="5.4"/><circle cx="369.2" cy="763.5" r="5.4"/><circle cx="347.5" cy="802.1" r="5.4"/><circle cx="332.1" cy="758.8" r="5.4"/><circle cx="363.0" cy="752.4" r="5.4"/><circle cx="357.7" cy="750.0" r="5.4"/><circle cx="364.3" cy="736.4" r="5.4"/><circle cx="378.2" cy="760.9" r="5.4"/><circle cx="330.3" cy="774.7" r="5.4"/><circle cx="360.4" cy="779.1" r="5.4"/><circle cx="330.5" cy="784.0" r="5.4"/><circle cx="371.2" cy="805.3" r="5.4"/><circle cx="352.6" cy="748.8" r="5.4"/><circle cx="385.2" cy="735.8" r="5.4"/><circle cx="363.8" cy="741.8" r="5.4"/><circle cx="348.7" cy="804.1" r="5.4"/><circle cx="366.6" cy="733.3" r="5.4"/><circle cx="370.2" cy="751.1" r="5.4"/><circle cx="330.7" cy="763.6" r="5.4"/><circle cx="329.3" cy="776.2" r="5.4"/><circle cx="371.0" cy="748.9" r="5.4"/><circle cx="367.9" cy="742.7" r="5.4"/><circle cx="330.2" cy="749.1" r="5.4"/><circle cx="346.2" cy="754.9" r="5.4"/><circle cx="366.3" cy="752.1" r="5.4"/><circle cx="344.1" cy="758.8" r="5.4"/><circle cx="352.1" cy="735.4" r="5.4"/><circle cx="358.6" cy="783.7" r="5.4"/><circle cx="378.9" cy="780.2" r="5.4"/><circle cx="366.0" cy="784.1" r="5.4"/><circle cx="371.7" cy="771.8" r="5.4"/><circle cx="309.4" cy="766.7" r="5.4"/><circle cx="351.6" cy="764.2" r="5.4"/><circle cx="382.9" cy="732.2" r="5.4"/><circle cx="366.5" cy="739.7" r="5.4"/><circle cx="338.1" cy="748.0" r="5.4"/><circle cx="369.5" cy="813.3" r="5.4"/><circle cx="347.4" cy="751.0" r="5.4"/><circle cx="372.6" cy="801.8" r="5.4"/><circle cx="320.2" cy="768.2" r="5.4"/><circle cx="366.6" cy="801.7" r="5.4"/><circle cx="355.5" cy="735.3" r="5.4"/><circle cx="343.7" cy="746.4" r="5.4"/><circle cx="352.0" cy="776.1" r="5.4"/><circle cx="380.0" cy="732.7" r="5.4"/><circle cx="320.0" cy="761.0" r="5.4"/><circle cx="381.2" cy="783.6" r="5.4"/><circle cx="352.5" cy="731.3" r="5.4"/><circle cx="306.8" cy="755.4" r="5.4"/><circle cx="374.1" cy="766.8" r="5.4"/><circle cx="315.9" cy="770.5" r="5.4"/><circle cx="378.4" cy="748.5" r="5.4"/><circle cx="388.2" cy="748.9" r="5.4"/><circle cx="328.5" cy="761.7" r="5.4"/><circle cx="390.1" cy="742.0" r="5.4"/><circle cx="388.4" cy="734.2" r="5.4"/><circle cx="339.7" cy="805.7" r="5.4"/><circle cx="383.5" cy="764.3" r="5.4"/><circle cx="356.8" cy="773.0" r="5.4"/><circle cx="327.1" cy="773.8" r="5.4"/><circle cx="349.0" cy="762.2" r="5.4"/><circle cx="355.6" cy="783.5" r="5.4"/><circle cx="342.7" cy="779.2" r="5.4"/><circle cx="328.6" cy="748.2" r="5.4"/><circle cx="391.9" cy="738.9" r="5.4"/><circle cx="361.6" cy="738.9" r="5.4"/><circle cx="369.1" cy="776.7" r="5.4"/><circle cx="332.4" cy="763.3" r="5.4"/><circle cx="356.1" cy="810.1" r="5.4"/><circle cx="334.6" cy="753.9" r="5.4"/><circle cx="354.6" cy="733.2" r="5.4"/><circle cx="380.9" cy="792.8" r="5.4"/><circle cx="371.3" cy="762.5" r="5.4"/><circle cx="310.8" cy="756.0" r="5.4"/><circle cx="377.0" cy="731.1" r="5.4"/><circle cx="339.7" cy="770.9" r="5.4"/><circle cx="367.4" cy="736.9" r="5.4"/><circle cx="359.8" cy="805.1" r="5.4"/><circle cx="352.1" cy="804.2" r="5.4"/><circle cx="387.9" cy="759.1" r="5.4"/><circle cx="363.1" cy="764.9" r="5.4"/><circle cx="360.9" cy="742.1" r="5.4"/><circle cx="382.5" cy="760.4" r="5.4"/><circle cx="336.5" cy="759.3" r="5.4"/><circle cx="358.0" cy="765.7" r="5.4"/><circle cx="315.0" cy="752.7" r="5.4"/><circle cx="388.4" cy="744.9" r="5.4"/><circle cx="349.3" cy="748.6" r="5.4"/><circle cx="388.3" cy="763.4" r="5.4"/><circle cx="376.2" cy="751.7" r="5.4"/><circle cx="371.8" cy="741.7" r="5.4"/><circle cx="372.2" cy="729.9" r="5.4"/><circle cx="349.3" cy="779.4" r="5.4"/><circle cx="326.8" cy="771.0" r="5.4"/><circle cx="373.7" cy="743.2" r="5.4"/><circle cx="390.4" cy="757.5" r="5.4"/><circle cx="332.1" cy="760.3" r="5.4"/><circle cx="333.4" cy="751.8" r="5.4"/><circle cx="316.5" cy="754.1" r="5.4"/><circle cx="338.5" cy="779.3" r="5.4"/><circle cx="376.4" cy="765.3" r="5.4"/><circle cx="366.8" cy="804.7" r="5.4"/><circle cx="370.2" cy="772.7" r="5.4"/><circle cx="323.7" cy="755.5" r="5.4"/><circle cx="356.6" cy="779.0" r="5.4"/><circle cx="307.5" cy="753.0" r="5.4"/><circle cx="310.5" cy="760.8" r="5.4"/><circle cx="364.4" cy="725.9" r="5.4"/><circle cx="362.7" cy="793.2" r="5.4"/><circle cx="359.0" cy="793.5" r="5.4"/><circle cx="378.8" cy="758.6" r="5.4"/><circle cx="372.0" cy="786.9" r="5.4"/><circle cx="334.7" cy="774.2" r="5.4"/><circle cx="385.8" cy="749.1" r="5.4"/><circle cx="369.5" cy="795.5" r="5.4"/><circle cx="348.4" cy="746.2" r="5.4"/><circle cx="332.6" cy="771.8" r="5.4"/><circle cx="354.2" cy="758.2" r="5.4"/><circle cx="344.9" cy="801.8" r="5.4"/><circle cx="323.5" cy="749.7" r="5.4"/><circle cx="345.3" cy="742.0" r="5.4"/><circle cx="337.5" cy="799.1" r="5.4"/><circle cx="344.9" cy="772.7" r="5.4"/><circle cx="362.9" cy="794.5" r="5.4"/><circle cx="375.5" cy="758.1" r="5.4"/><circle cx="379.3" cy="752.1" r="5.4"/><circle cx="374.2" cy="772.8" r="5.4"/><circle cx="360.9" cy="733.6" r="5.4"/><circle cx="358.6" cy="803.0" r="5.4"/><circle cx="381.5" cy="798.2" r="5.4"/><circle cx="381.2" cy="790.4" r="5.4"/><circle cx="382.9" cy="742.3" r="5.4"/><circle cx="376.5" cy="795.8" r="5.4"/><circle cx="362.3" cy="746.2" r="5.4"/><circle cx="360.1" cy="787.3" r="5.4"/><circle cx="389.7" cy="754.8" r="5.4"/><circle cx="322.6" cy="764.8" r="5.4"/><circle cx="340.3" cy="801.7" r="5.4"/><circle cx="381.7" cy="781.2" r="5.4"/><circle cx="343.2" cy="807.7" r="5.4"/><circle cx="329.5" cy="757.0" r="5.4"/><circle cx="294.3" cy="744.3" r="5.4"/><circle cx="293.1" cy="743.7" r="5.4"/><circle cx="293.0" cy="750.8" r="5.4"/><circle cx="322.9" cy="735.8" r="5.4"/><circle cx="315.8" cy="742.3" r="5.4"/><circle cx="333.3" cy="728.6" r="5.4"/><circle cx="339.8" cy="730.6" r="5.4"/><circle cx="368.5" cy="721.5" r="5.4"/><circle cx="385.4" cy="724.7" r="5.4"/><circle cx="399.1" cy="752.1" r="5.4"/><circle cx="391.3" cy="774.2" r="5.4"/><circle cx="404.9" cy="772.9" r="5.4"/><circle cx="293.6" cy="777.5" r="5.4"/><circle cx="316.4" cy="787.9" r="5.4"/><circle cx="302.1" cy="799.6" r="5.4"/><circle cx="323.6" cy="800.9" r="5.4"/><circle cx="325.3" cy="800.3" r="5.4"/><circle cx="321.9" cy="802.6" r="5.4"/><circle cx="334.6" cy="820.4" r="5.4"/><circle cx="311.8" cy="827.0" r="5.4"/><circle cx="304.0" cy="768.4" r="5.4"/><circle cx="311.2" cy="774.2" r="5.4"/><circle cx="328.1" cy="789.8" r="5.4"/><circle cx="388.0" cy="783.3" r="5.4"/>
</g>
<g fill="#ff7f0e" stroke="#ff7f0e">
<circle cx="427.1" cy="779.2" r="5.4"/><circle cx="420.8" cy="779.8" r="5.4"/><circle cx="409.0" cy="790.4" r="5.4"/><circle cx="409.6" cy="776.8" r="5.4"/><circle cx="416.7" cy="787.7" r="5.4"/><circle cx="422.6" cy="781.8" r="5.4"/><circle cx="398.9" cy="793.3" r="5.4"/><circle cx="423.1" cy="771.6" r="5.4"/><circle cx="410.5" cy="786.3" r="5.4"/><circle cx="423.4" cy="773.4" r="5.4"/><circle cx="411.2" cy="792.4" r="5.4"/><circle cx="412.4" cy="795.2" r="5.4"/><circle cx="415.6" cy="776.5" r="5.4"/><circle cx="411.5" cy="779.7" r="5.4"/><circle cx="412.5" cy="784.3" r="5.4"/><circle cx="413.0" cy="787.1" r="5.4"/><circle cx="407.6" cy="787.9" r="5.4"/><circle cx="422.6" cy="776.3" r="5.4"/><circle cx="420.1" cy="773.4" r="5.4"/><circle cx="415.2" cy="790.1" r="5.4"/><circle cx="424.5" cy="772.3" r="5.4"/><circle cx="402.4" cy="789.3" r="5.4"/><circle cx="404.3" cy="791.7" r="5.4"/><circle cx="418.5" cy="784.5" r="5.4"/><circle cx="426.0" cy="782.8" r="5.4"/><circle cx="412.7" cy="782.1" r="5.4"/><circle cx="424.2" cy="780.1" r="5.4"/><circle cx="425.8" cy="786.7" r="5.4"/><circle cx="410.4" cy="781.4" r="5.4"/><circle cx="421.6" cy="768.4" r="5.4"/><circle cx="412.3" cy="774.9" r="5.4"/><circle cx="416.6" cy="792.8" r="5.4"/><circle cx="414.4" cy="783.7" r="5.4"/><circle cx="413.1" cy="776.7" r="5.4"/><circle cx="419.2" cy="791.6" r="5.4"/><circle cx="429.2" cy="781.5" r="5.4"/><circle cx="408.8" cy="784.5" r="5.4"/><circle cx="417.7" cy="789.7" r="5.4"/><circle cx="427.2" cy="790.1" r="5.4"/><circle cx="422.8" cy="786.6" r="5.4"/><circle cx="408.3" cy="778.7" r="5.4"/><circle cx="420.3" cy="785.0" r="5.4"/><circle cx="419.5" cy="786.9" r="5.4"/><circle cx="420.1" cy="777.0" r="5.4"/><circle cx="422.6" cy="792.0" r="5.4"/><circle cx="423.1" cy="769.3" r="5.4"/><circle cx="412.7" cy="793.1" r="5.4"/><circle cx="406.7" cy="789.3" r="5.4"/><circle cx="406.6" cy="784.3" r="5.4"/><circle cx="421.1" cy="794.1" r="5.4"/><circle cx="411.0" cy="789.0" r="5.4"/><circle cx="428.1" cy="787.2" r="5.4"/><circle cx="401.8" cy="793.0" r="5.4"/><circle cx="425.3" cy="777.2" r="5.4"/><circle cx="427.5" cy="784.9" r="5.4"/><circle cx="407.1" cy="781.7" r="5.4"/><circle cx="418.8" cy="771.1" r="5.4"/><circle cx="419.6" cy="781.7" r="5.4"/><circle cx="416.0" cy="781.7" r="5.4"/><circle cx="417.1" cy="779.2" r="5.4"/><circle cx="423.3" cy="785.3" r="5.4"/><circle cx="421.3" cy="790.4" r="5.4"/><circle cx="414.3" cy="773.4" r="5.4"/><circle cx="418.3" cy="774.2" r="5.4"/><circle cx="416.6" cy="771.1" r="5.4"/><circle cx="418.2" cy="769.5" r="5.4"/><circle cx="417.5" cy="794.6" r="5.4"/><circle cx="423.7" cy="790.3" r="5.4"/><circle cx="400.2" cy="790.3" r="5.4"/><circle cx="414.3" cy="778.8" r="5.4"/><circle cx="415.5" cy="794.1" r="5.4"/><circle cx="407.8" cy="792.6" r="5.4"/><circle cx="404.3" cy="788.0" r="5.4"/><circle cx="413.0" cy="771.6" r="5.4"/>
</g>
<g fill="#2ca02c" stroke="#2ca02c">
<circle cx="405.2" cy="865.9" r="5.4"/>
</g>
<g fill="#c49c94" stroke="#c49c94">
<circle cx="403.3" cy="861.0" r="5.4"/><circle cx="404.4" cy="859.3" r="5.4"/><circle cx="402.6" cy="859.2" r="5.4"/>
</g>
<g fill="#2ca02c" stroke="#2ca02c">
<circle cx="354.2" cy="896.1" r="5.4"/><circle cx="373.2" cy="925.7" r="5.4"/><circle cx="351.3" cy="936.0" r="5.4"/><circle cx="391.9" cy="903.8" r="5.4"/><circle cx="366.2" cy="911.8" r="5.4"/><circle cx="377.9" cy="903.5" r="5.4"/><circle cx="373.5" cy="887.5" r="5.4"/><circle cx="376.7" cy="875.7" r="5.4"/><circle cx="357.0" cy="878.6" r="5.4"/><circle cx="353.6" cy="916.2" r="5.4"/><circle cx="358.8" cy="886.1" r="5.4"/><circle cx="375.3" cy="906.3" r="5.4"/><circle cx="375.1" cy="877.3" r="5.4"/><circle cx="364.1" cy="878.0" r="5.4"/><circle cx="378.3" cy="921.1" r="5.4"/><circle cx="388.4" cy="890.0" r="5.4"/><circle cx="376.8" cy="881.8" r="5.4"/><circle cx="356.0" cy="902.9" r="5.4"/><circle cx="381.5" cy="927.2" r="5.4"/><circle cx="358.4" cy="905.1" r="5.4"/><circle cx="368.9" cy="880.7" r="5.4"/><circle cx="382.6" cy="906.6" r="5.4"/><circle cx="358.5" cy="911.6" r="5.4"/><circle cx="374.7" cy="916.2" r="5.4"/><circle cx="365.4" cy="892.8" r="5.4"/><circle cx="359.7" cy="926.8" r="5.4"/><circle cx="373.3" cy="892.8" r="5.4"/><circle cx="353.7" cy="891.4" r="5.4"/><circle cx="358.1" cy="898.8" r="5.4"/><circle cx="387.6" cy="919.5" r="5.4"/><circle cx="365.0" cy="874.4" r="5.4"/><circle cx="369.5" cy="923.9" r="5.4"/><circle cx="381.3" cy="903.9" r="5.4"/><circle cx="353.5" cy="885.2" r="5.4"/><circle cx="377.7" cy="884.3" r="5.4"/><circle cx="377.3" cy="886.4" r="5.4"/><circle cx="367.5" cy="909.4" r="5.4"/><circle cx="364.4" cy="895.4" r="5.4"/><circle cx="350.9" cy="929.8" r="5.4"/><circle cx="361.6" cy="919.2" r="5.4"/><circle cx="377.4" cy="923.7" r="5.4"/><circle cx="357.2" cy="889.7" r="5.4"/><circle cx="360.1" cy="909.1" r="5.4"/><circle cx="347.2" cy="894.3" r="5.4"/><circle cx="372.2" cy="919.1" r="5.4"/><circle cx="359.4" cy="884.6" r="5.4"/><circle cx="368.4" cy="921.0" r="5.4"/><circle cx="354.2" cy="932.7" r="5.4"/><circle cx="368.2" cy="877.2" r="5.4"/><circle cx="361.0" cy="895.4" r="5.4"/><circle cx="385.8" cy="889.4" r="5.4"/><circle cx="395.0" cy="913.0" r="5.4"/><circle cx="390.8" cy="899.8" r="5.4"/><circle cx="380.8" cy="868.6" r="5.4"/><circle cx="362.8" cy="909.4" r="5.4"/><circle cx="362.0" cy="912.7" r="5.4"/><circle cx="365.6" cy="919.0" r="5.4"/><circle cx="383.9" cy="930.6" r="5.4"/><circle cx="371.7" cy="922.2" r="5.4"/><circle cx="355.5" cy="918.8" r="5.4"/><circle cx="387.6" cy="899.6" r="5.4"/><circle cx="385.1" cy="927.7" r="5.4"/><circle cx="376.6" cy="869.0" r="5.4"/><circle cx="348.4" cy="905.8" r="5.4"/><circle cx="359.1" cy="880.5" r="5.4"/><circle cx="371.9" cy="911.9" r="5.4"/><circle cx="382.6" cy="918.7" r="5.4"/><circle cx="373.8" cy="920.3" r="5.4"/><circle cx="372.1" cy="903.3" r="5.4"/><circle cx="382.4" cy="915.3" r="5.4"/><circle cx="348.4" cy="903.8" r="5.4"/><circle cx="389.7" cy="911.5" r="5.4"/><circle cx="375.4" cy="900.0" r="5.4"/><circle cx="385.4" cy="895.7" r="5.4"/><circle cx="380.3" cy="931.9" r="5.4"/><circle cx="378.0" cy="897.0" r="5.4"/><circle cx="375.4" cy="891.4" r="5.4"/><circle cx="364.7" cy="927.6" r="5.4"/><circle cx="378.4" cy="871.4" r="5.4"/><circle cx="364.0" cy="871.7" r="5.4"/><circle cx="361.4" cy="890.9" r="5.4"/><circle cx="380.5" cy="905.6" r="5.4"/><circle cx="389.9" cy="906.8" r="5.4"/><circle cx="354.9" cy="894.2" r="5.4"/><circle cx="387.5" cy="906.0" r="5.4"/><circle cx="373.5" cy="881.0" r="5.4"/><circle cx="369.6" cy="911.0" r="5.4"/><circle cx="389.5" cy="896.1" r="5.4"/><circle cx="371.5" cy="895.3" r="5.4"/><circle cx="368.5" cy="867.5" r="5.4"/><circle cx="349.3" cy="889.1" r="5.4"/><circle cx="350.7" cy="880.0" r="5.4"/><circle cx="368.6" cy="889.3" r="5.4"/><circle cx="381.4" cy="889.7" r="5.4"/><circle cx="367.8" cy="895.9" r="5.4"/><circle cx="377.5" cy="918.2" r="5.4"/><circle cx="370.7" cy="889.7" r="5.4"/><circle cx="377.2" cy="892.8" r="5.4"/><circle cx="369.9" cy="930.7" r="5.4"/><circle cx="368.3" cy="883.2" r="5.4"/><circle cx="391.9" cy="897.3" r="5.4"/><circle cx="381.2" cy="886.6" r="5.4"/><circle cx="353.5" cy="877.5" r="5.4"/><circle cx="380.1" cy="900.5" r="5.4"/><circle cx="359.2" cy="922.0" r="5.4"/><circle cx="364.3" cy="884.8" r="5.4"/><circle cx="386.0" cy="920.6" r="5.4"/><circle cx="375.8" cy="895.5" r="5.4"/><circle cx="350.3" cy="908.8" r="5.4"/><circle cx="393.9" cy="899.2" r="5.4"/><circle cx="371.8" cy="885.0" r="5.4"/><circle cx="355.6" cy="887.4" r="5.4"/><circle cx="385.9" cy="909.4" r="5.4"/><circle cx="384.4" cy="887.5" r="5.4"/><circle cx="368.9" cy="893.4" r="5.4"/><circle cx="368.5" cy="871.7" r="5.4"/><circle cx="368.1" cy="873.6" r="5.4"/><circle cx="359.5" cy="877.1" r="5.4"/><circle cx="375.5" cy="927.3" r="5.4"/><circle cx="371.5" cy="915.0" r="5.4"/><circle cx="363.9" cy="889.5" r="5.4"/><circle cx="390.8" cy="894.4" r="5.4"/><circle cx="362.2" cy="905.5" r="5.4"/><circle cx="369.9" cy="886.8" r="5.4"/><circle cx="370.1" cy="900.4" r="5.4"/><circle cx="382.0" cy="896.9" r="5.4"/><circle cx="350.9" cy="911.8" r="5.4"/><circle cx="375.2" cy="902.6" r="5.4"/><circle cx="389.0" cy="916.0" r="5.4"/><circle cx="352.3" cy="928.4" r="5.4"/><circle cx="372.2" cy="867.4" r="5.4"/><circle cx="371.9" cy="877.0" r="5.4"/><circle cx="374.5" cy="934.8" r="5.4"/><circle cx="357.8" cy="916.3" r="5.4"/><circle cx="357.0" cy="922.6" r="5.4"/><circle cx="357.4" cy="893.3" r="5.4"/><circle cx="378.1" cy="927.7" r="5.4"/><circle cx="367.6" cy="903.4" r="5.4"/><circle cx="373.7" cy="874.7" r="5.4"/><circle cx="381.2" cy="909.6" r="5.4"/><circle cx="348.8" cy="899.2" r="5.4"/><circle cx="376.1" cy="912.2" r="5.4"/><circle cx="372.1" cy="905.9" r="5.4"/><circle cx="376.3" cy="930.6" r="5.4"/><circle cx="368.1" cy="915.0" r="5.4"/><circle cx="369.4" cy="907.0" r="5.4"/><circle cx="395.5" cy="908.6" r="5.4"/><circle cx="359.4" cy="902.2" r="5.4"/><circle cx="353.2" cy="920.7" r="5.4"/><circle cx="387.8" cy="903.7" r="5.4"/><circle cx="379.8" cy="912.5" r="5.4"/><circle cx="351.7" cy="899.8" r="5.4"/><circle cx="372.6" cy="898.9" r="5.4"/><circle cx="372.5" cy="930.4" r="5.4"/><circle cx="396.8" cy="914.9" r="5.4"/><circle cx="370.0" cy="926.7" r="5.4"/><circle cx="389.2" cy="908.5" r="5.4"/><circle cx="354.1" cy="923.5" r="5.4"/><circle cx="373.2" cy="936.0" r="5.4"/><circle cx="374.0" cy="908.6" r="5.4"/><circle cx="358.3" cy="919.1" r="5.4"/><circle cx="371.2" cy="907.9" r="5.4"/><circle cx="393.5" cy="906.1" r="5.4"/><circle cx="389.6" cy="921.9" r="5.4"/><circle cx="362.2" cy="900.4" r="5.4"/><circle cx="392.8" cy="908.7" r="5.4"/><circle cx="371.7" cy="872.2" r="5.4"/><circle cx="365.2" cy="923.4" r="5.4"/><circle cx="375.6" cy="884.2" r="5.4"/><circle cx="354.0" cy="937.1" r="5.4"/><circle cx="391.5" cy="916.2" r="5.4"/><circle cx="380.6" cy="894.5" r="5.4"/><circle cx="358.8" cy="923.9" r="5.4"/><circle cx="362.4" cy="925.3" r="5.4"/><circle cx="362.9" cy="881.1" r="5.4"/><circle cx="363.9" cy="921.0" r="5.4"/><circle cx="378.9" cy="907.8" r="5.4"/><circle cx="361.2" cy="875.6" r="5.4"/><circle cx="351.2" cy="906.1" r="5.4"/><circle cx="386.5" cy="902.7" r="5.4"/><circle cx="355.3" cy="906.0" r="5.4"/><circle cx="377.8" cy="915.7" r="5.4"/><circle cx="383.8" cy="925.1" r="5.4"/><circle cx="355.2" cy="879.8" r="5.4"/><circle cx="349.0" cy="897.6" r="5.4"/><circle cx="353.7" cy="911.0" r="5.4"/><circle cx="371.7" cy="934.7" r="5.4"/><circle cx="375.7" cy="864.8" r="5.4"/><circle cx="382.5" cy="894.1" r="5.4"/><circle cx="377.6" cy="934.0" r="5.4"/><circle cx="365.3" cy="887.7" r="5.4"/><circle cx="369.0" cy="918.0" r="5.4"/><circle cx="362.0" cy="894.1" r="5.4"/><circle cx="383.1" cy="912.9" r="5.4"/><circle cx="359.8" cy="914.5" r="5.4"/><circle cx="392.0" cy="917.2" r="5.4"/><circle cx="352.1" cy="888.1" r="5.4"/><circle cx="365.1" cy="899.2" r="5.4"/><circle cx="350.4" cy="914.0" r="5.4"/><circle cx="353.4" cy="901.9" r="5.4"/><circle cx="354.4" cy="899.7" r="5.4"/><circle cx="387.2" cy="893.7" r="5.4"/><circle cx="380.8" cy="922.5" r="5.4"/><circle cx="379.2" cy="923.9" r="5.4"/><circle cx="364.0" cy="914.1" r="5.4"/><circle cx="364.8" cy="880.2" r="5.4"/><circle cx="373.9" cy="870.3" r="5.4"/><circle cx="362.4" cy="886.6" r="5.4"/><circle cx="379.6" cy="918.6" r="5.4"/><circle cx="363.4" cy="902.5" r="5.4"/><circle cx="386.4" cy="912.6" r="5.4"/><circle cx="365.5" cy="905.3" r="5.4"/><circle cx="377.2" cy="889.6" r="5.4"/><circle cx="367.5" cy="927.7" r="5.4"/><circle cx="351.8" cy="925.2" r="5.4"/><circle cx="351.9" cy="893.9" r="5.4"/><circle cx="384.7" cy="915.2" r="5.4"/><circle cx="382.7" cy="899.6" r="5.4"/><circle cx="352.5" cy="909.8" r="5.4"/><circle cx="349.2" cy="883.3" r="5.4"/><circle cx="387.4" cy="924.7" r="5.4"/><circle cx="355.7" cy="908.5" r="5.4"/><circle cx="356.1" cy="896.9" r="5.4"/><circle cx="357.1" cy="884.2" r="5.4"/><circle cx="377.6" cy="864.3" r="5.4"/><circle cx="340.8" cy="914.2" r="5.4"/><circle cx="355.9" cy="857.6" r="5.4"/><circle cx="356.3" cy="858.5" r="5.4"/><circle cx="354.5" cy="862.5" r="5.4"/><circle cx="354.6" cy="861.8" r="5.4"/><circle cx="390.6" cy="849.3" r="5.4"/><circle cx="390.3" cy="849.7" r="5.4"/><circle cx="392.1" cy="852.2" r="5.4"/><circle cx="392.0" cy="852.6" r="5.4"/>
</g>
<g fill="#2ca02c" stroke="#2ca02c">
<circle cx="286.9" cy="890.4" r="5.4"/>
</g>
</g>
<g><!-- Cebpa control -->
<g fill="#98df8a" stroke="#98df8a">
<circle cx="707.7" cy="554.9" r="5.4"/><circle cx="750.3" cy="572.6" r="5.4"/><circle cx="751.3" cy="571.8" r="5.4"/><circle cx="774.1" cy="587.6" r="5.4"/><circle cx="773.1" cy="587.5" r="5.4"/><circle cx="767.5" cy="584.3" r="5.4"/>
</g>
<g fill="#ff9896" stroke="#ff9896">
<circle cx="709.7" cy="557.7" r="5.4"/><circle cx="704.1" cy="563.6" r="5.4"/><circle cx="721.0" cy="555.8" r="5.4"/><circle cx="713.4" cy="565.9" r="5.4"/><circle cx="721.5" cy="552.6" r="5.4"/><circle cx="707.9" cy="561.3" r="5.4"/><circle cx="704.4" cy="568.4" r="5.4"/><circle cx="712.1" cy="555.5" r="5.4"/><circle cx="712.7" cy="562.6" r="5.4"/><circle cx="716.5" cy="556.1" r="5.4"/><circle cx="718.7" cy="557.3" r="5.4"/><circle cx="717.2" cy="561.2" r="5.4"/><circle cx="709.1" cy="563.5" r="5.4"/><circle cx="709.1" cy="568.3" r="5.4"/><circle cx="706.7" cy="563.5" r="5.4"/><circle cx="705.2" cy="566.1" r="5.4"/><circle cx="705.1" cy="570.8" r="5.4"/><circle cx="707.9" cy="566.1" r="5.4"/><circle cx="720.0" cy="560.2" r="5.4"/><circle cx="716.1" cy="557.6" r="5.4"/><circle cx="719.1" cy="563.2" r="5.4"/><circle cx="719.2" cy="553.2" r="5.4"/><circle cx="711.2" cy="560.8" r="5.4"/><circle cx="713.5" cy="561.4" r="5.4"/><circle cx="715.8" cy="562.9" r="5.4"/><circle cx="712.7" cy="568.2" r="5.4"/><circle cx="706.7" cy="568.2" r="5.4"/><circle cx="710.9" cy="566.7" r="5.4"/><circle cx="714.6" cy="556.4" r="5.4"/><circle cx="712.3" cy="557.5" r="5.4"/><circle cx="722.3" cy="559.0" r="5.4"/>
</g>
<g fill="#98df8a" stroke="#98df8a">
<circle cx="705.5" cy="564.9" r="5.4"/><circle cx="718.2" cy="576.5" r="5.4"/><circle cx="717.3" cy="576.8" r="5.4"/><circle cx="709.4" cy="598.1" r="5.4"/><circle cx="707.8" cy="598.6" r="5.4"/><circle cx="708.3" cy="597.7" r="5.4"/><circle cx="697.2" cy="604.7" r="5.4"/>
</g>
<g fill="#c7c7c7" stroke="#c7c7c7">
<circle cx="718.2" cy="576.7" r="5.4"/>
</g>
<g fill="#e377c2" stroke="#e377c2">
<circle cx="763.0" cy="592.6" r="5.4"/><circle cx="763.5" cy="593.7" r="5.4"/><circle cx="761.3" cy="594.7" r="5.4"/><circle cx="754.2" cy="590.9" r="5.4"/>
</g>
<g fill="#7f7f7f" stroke="#7f7f7f">
<circle cx="779.0" cy="577.6" r="5.4"/><circle cx="776.8" cy="573.0" r="5.4"/><circle cx="764.3" cy="566.1" r="5.4"/><circle cx="768.0" cy="576.6" r="5.4"/><circle cx="772.9" cy="577.6" r="5.4"/><circle cx="770.9" cy="560.9" r="5.4"/><circle cx="788.5" cy="577.9" r="5.4"/><circle cx="783.4" cy="580.4" r="5.4"/><circle cx="767.0" cy="561.3" r="5.4"/><circle cx="775.1" cy="569.6" r="5.4"/><circle cx="785.7" cy="582.9" r="5.4"/><circle cx="768.2" cy="570.2" r="5.4"/><circle cx="782.3" cy="577.9" r="5.4"/><circle cx="771.4" cy="579.4" r="5.4"/><circle cx="766.0" cy="569.6" r="5.4"/><circle cx="763.5" cy="569.9" r="5.4"/><circle cx="771.1" cy="578.0" r="5.4"/><circle cx="764.7" cy="562.7" r="5.4"/><circle cx="779.8" cy="572.8" r="5.4"/><circle cx="777.5" cy="575.6" r="5.4"/><circle cx="766.6" cy="564.5" r="5.4"/><circle cx="787.4" cy="575.2" r="5.4"/><circle cx="768.3" cy="574.0" r="5.4"/><circle cx="770.0" cy="564.7" r="5.4"/><circle cx="770.7" cy="566.2" r="5.4"/><circle cx="771.9" cy="573.9" r="5.4"/><circle cx="775.8" cy="580.1" r="5.4"/><circle cx="780.6" cy="579.3" r="5.4"/><circle cx="773.0" cy="569.3" r="5.4"/><circle cx="776.4" cy="577.1" r="5.4"/><circle cx="789.4" cy="580.2" r="5.4"/><circle cx="781.8" cy="575.0" r="5.4"/><circle cx="775.6" cy="574.0" r="5.4"/><circle cx="784.0" cy="574.8" r="5.4"/><circle cx="765.3" cy="575.4" r="5.4"/><circle cx="770.3" cy="571.3" r="5.4"/><circle cx="776.1" cy="567.6" r="5.4"/><circle cx="773.4" cy="572.3" r="5.4"/><circle cx="763.9" cy="571.5" r="5.4"/><circle cx="782.7" cy="582.9" r="5.4"/><circle cx="784.1" cy="586.0" r="5.4"/><circle cx="772.6" cy="565.1" r="5.4"/><circle cx="767.1" cy="571.7" r="5.4"/><circle cx="787.6" cy="579.2" r="5.4"/><circle cx="761.6" cy="567.8" r="5.4"/><circle cx="778.7" cy="579.8" r="5.4"/><circle cx="773.5" cy="566.3" r="5.4"/><circle cx="767.8" cy="566.2" r="5.4"/><circle cx="786.0" cy="576.9" r="5.4"/><circle cx="775.3" cy="565.0" r="5.4"/><circle cx="762.8" cy="564.7" r="5.4"/><circle cx="821.9" cy="558.8" r="5.4"/><circle cx="826.1" cy="576.9" r="5.4"/><circle cx="834.5" cy="575.9" r="5.4"/><circle cx="819.2" cy="564.9" r="5.4"/><circle cx="813.8" cy="562.5" r="5.4"/><circle cx="826.0" cy="588.5" r="5.4"/><circle cx="827.4" cy="585.2" r="5.4"/><circle cx="813.1" cy="559.8" r="5.4"/><circle cx="829.3" cy="573.1" r="5.4"/><circle cx="820.0" cy="567.3" r="5.4"/><circle cx="822.4" cy="570.7" r="5.4"/><circle cx="819.7" cy="572.9" r="5.4"/><circle cx="825.0" cy="564.1" r="5.4"/><circle cx="823.3" cy="562.7" r="5.4"/><circle cx="808.1" cy="566.6" r="5.4"/><circle cx="821.2" cy="565.0" r="5.4"/><circle cx="832.0" cy="578.5" r="5.4"/><circle cx="825.7" cy="573.1" r="5.4"/><circle cx="808.8" cy="562.5" r="5.4"/><circle cx="824.6" cy="574.6" r="5.4"/><circle cx="825.2" cy="580.7" r="5.4"/><circle cx="810.9" cy="562.5" r="5.4"/><circle cx="823.6" cy="566.7" r="5.4"/><circle cx="832.6" cy="573.1" r="5.4"/><circle cx="809.8" cy="564.2" r="5.4"/><circle cx="816.2" cy="559.7" r="5.4"/><circle cx="828.5" cy="575.0" r="5.4"/><circle cx="830.1" cy="582.3" r="5.4"/><circle cx="827.0" cy="583.0" r="5.4"/><circle cx="830.5" cy="581.0" r="5.4"/><circle cx="823.8" cy="571.7" r="5.4"/><circle cx="814.7" cy="567.3" r="5.4"/><circle cx="819.2" cy="570.8" r="5.4"/><circle cx="813.8" cy="565.3" r="5.4"/><circle cx="812.5" cy="569.7" r="5.4"/><circle cx="816.7" cy="570.6" r="5.4"/><circle cx="815.9" cy="565.1" r="5.4"/><circle cx="818.1" cy="572.1" r="5.4"/><circle cx="817.2" cy="568.2" r="5.4"/><circle cx="811.2" cy="568.2" r="5.4"/><circle cx="824.6" cy="570.9" r="5.4"/><circle cx="831.6" cy="570.2" r="5.4"/><circle cx="828.5" cy="580.1" r="5.4"/><circle cx="830.6" cy="574.7" r="5.4"/><circle cx="818.6" cy="558.8" r="5.4"/><circle cx="821.4" cy="562.6" r="5.4"/><circle cx="817.6" cy="562.9" r="5.4"/><circle cx="830.2" cy="578.5" r="5.4"/><circle cx="824.1" cy="585.9" r="5.4"/><circle cx="756.4" cy="584.8" r="5.4"/><circle cx="794.0" cy="567.1" r="5.4"/><circle cx="799.0" cy="566.0" r="5.4"/><circle cx="802.9" cy="571.0" r="5.4"/><circle cx="812.3" cy="576.5" r="5.4"/><circle cx="804.0" cy="591.5" r="5.4"/><circle cx="803.8" cy="592.1" r="5.4"/><circle cx="820.6" cy="591.5" r="5.4"/><circle cx="820.9" cy="590.6" r="5.4"/><circle cx="806.8" cy="604.2" r="5.4"/><circle cx="786.3" cy="584.3" r="5.4"/>
</g>
<g fill="#c7c7c7" stroke="#c7c7c7">
<circle cx="832.8" cy="565.5" r="5.4"/><circle cx="839.4" cy="568.2" r="5.4"/><circle cx="849.9" cy="587.6" r="5.4"/>
</g>
<g fill="#ffbb78" stroke="#ffbb78">
<circle cx="794.0" cy="617.5" r="5.4"/>
</g>
<g fill="#98df8a" stroke="#98df8a">
<circle cx="678.9" cy="614.8" r="5.4"/><circle cx="670.7" cy="616.2" r="5.4"/>
</g>
<g fill="#ff9896" stroke="#ff9896">
<circle cx="637.5" cy="644.9" r="5.4"/><circle cx="648.8" cy="642.8" r="5.4"/>
</g>
<g fill="#98df8a" stroke="#98df8a">
<circle cx="660.4" cy="630.8" r="5.4"/><circle cx="656.2" cy="638.6" r="5.4"/><circle cx="657.0" cy="639.8" r="5.4"/><circle cx="657.3" cy="640.2" r="5.4"/><circle cx="672.9" cy="659.0" r="5.4"/><circle cx="672.4" cy="663.1" r="5.4"/><circle cx="672.0" cy="663.1" r="5.4"/><circle cx="677.1" cy="665.2" r="5.4"/><circle cx="676.9" cy="665.3" r="5.4"/><circle cx="678.6" cy="665.8" r="5.4"/><circle cx="679.2" cy="671.5" r="5.4"/><circle cx="700.8" cy="659.9" r="5.4"/><circle cx="695.7" cy="661.2" r="5.4"/><circle cx="705.9" cy="659.9" r="5.4"/><circle cx="697.4" cy="664.6" r="5.4"/><circle cx="708.7" cy="654.9" r="5.4"/><circle cx="703.6" cy="660.3" r="5.4"/><circle cx="701.2" cy="657.6" r="5.4"/><circle cx="704.8" cy="661.4" r="5.4"/><circle cx="712.6" cy="654.4" r="5.4"/><circle cx="709.1" cy="659.5" r="5.4"/><circle cx="694.9" cy="664.5" r="5.4"/><circle cx="698.8" cy="661.4" r="5.4"/><circle cx="713.8" cy="656.3" r="5.4"/><circle cx="701.9" cy="661.3" r="5.4"/><circle cx="704.8" cy="656.5" r="5.4"/><circle cx="712.8" cy="659.0" r="5.4"/><circle cx="708.2" cy="657.1" r="5.4"/><circle cx="711.4" cy="656.6" r="5.4"/><circle cx="705.7" cy="648.0" r="5.4"/><circle cx="718.8" cy="639.2" r="5.4"/><circle cx="716.7" cy="648.5" r="5.4"/><circle cx="727.1" cy="647.5" r="5.4"/><circle cx="778.1" cy="658.4" r="5.4"/>
</g>
<g fill="#ff9896" stroke="#ff9896">
<circle cx="679.5" cy="673.5" r="5.4"/>
</g>
<g fill="#c5b0d5" stroke="#c5b0d5">
<circle cx="744.8" cy="656.4" r="5.4"/>
</g>
<g fill="#e377c2" stroke="#e377c2">
<circle cx="745.8" cy="661.6" r="5.4"/>
</g>
<g fill="#ffbb78" stroke="#ffbb78">
<circle cx="718.2" cy="644.4" r="5.4"/><circle cx="728.6" cy="650.1" r="5.4"/><circle cx="725.8" cy="664.8" r="5.4"/><circle cx="728.5" cy="666.7" r="5.4"/><circle cx="736.4" cy="665.0" r="5.4"/><circle cx="730.8" cy="672.1" r="5.4"/><circle cx="722.9" cy="661.1" r="5.4"/><circle cx="724.0" cy="659.7" r="5.4"/><circle cx="732.1" cy="664.4" r="5.4"/><circle cx="722.9" cy="668.6" r="5.4"/><circle cx="739.4" cy="666.3" r="5.4"/><circle cx="728.2" cy="660.8" r="5.4"/><circle cx="727.5" cy="659.7" r="5.4"/><circle cx="738.0" cy="663.5" r="5.4"/><circle cx="729.4" cy="658.4" r="5.4"/><circle cx="732.0" cy="669.7" r="5.4"/><circle cx="725.8" cy="669.7" r="5.4"/><circle cx="738.1" cy="669.9" r="5.4"/><circle cx="734.1" cy="661.9" r="5.4"/><circle cx="728.3" cy="671.8" r="5.4"/><circle cx="732.3" cy="659.5" r="5.4"/><circle cx="726.0" cy="665.9" r="5.4"/><circle cx="730.5" cy="668.6" r="5.4"/><circle cx="729.1" cy="664.7" r="5.4"/><circle cx="736.9" cy="666.0" r="5.4"/><circle cx="725.6" cy="662.0" r="5.4"/><circle cx="737.3" cy="661.9" r="5.4"/><circle cx="742.1" cy="668.5" r="5.4"/><circle cx="745.0" cy="668.7" r="5.4"/><circle cx="742.6" cy="666.4" r="5.4"/><circle cx="735.6" cy="668.8" r="5.4"/><circle cx="732.0" cy="662.3" r="5.4"/><circle cx="733.4" cy="666.9" r="5.4"/><circle cx="731.2" cy="666.4" r="5.4"/><circle cx="724.2" cy="663.5" r="5.4"/><circle cx="721.6" cy="667.1" r="5.4"/><circle cx="719.8" cy="672.5" r="5.4"/><circle cx="718.3" cy="674.6" r="5.4"/><circle cx="720.6" cy="670.8" r="5.4"/><circle cx="719.3" cy="677.7" r="5.4"/><circle cx="718.5" cy="678.5" r="5.4"/><circle cx="744.3" cy="675.6" r="5.4"/><circle cx="744.8" cy="685.5" r="5.4"/><circle cx="730.5" cy="695.9" r="5.4"/>
</g>
<g fill="#ff9896" stroke="#ff9896">
<circle cx="872.3" cy="752.4" r="5.4"/>
</g>
<g fill="#c7c7c7" stroke="#c7c7c7">
<circle cx="877.7" cy="677.7" r="5.4"/>
</g>
<g fill="#7f7f7f" stroke="#7f7f7f">
<circle cx="830.7" cy="673.9" r="5.4"/><circle cx="815.7" cy="696.3" r="5.4"/>
</g>
<g fill="#c5b0d5" stroke="#c5b0d5">
<circle cx="854.8" cy="648.5" r="5.4"/><circle cx="843.0" cy="653.1" r="5.4"/><circle cx="831.5" cy="664.1" r="5.4"/><circle cx="815.7" cy="668.4" r="5.4"/>
</g>
<g fill="#ff7f0e" stroke="#ff7f0e">
<circle cx="825.2" cy="671.7" r="5.4"/><circle cx="828.0" cy="678.6" r="5.4"/><circle cx="820.6" cy="685.9" r="5.4"/><circle cx="819.5" cy="685.2" r="5.4"/><circle cx="822.0" cy="685.9" r="5.4"/><circle cx="794.6" cy="682.1" r="5.4"/><circle cx="788.3" cy="701.2" r="5.4"/><circle cx="857.5" cy="721.5" r="5.4"/>
</g>
<g fill="#9467bd" stroke="#9467bd">
<circle cx="817.6" cy="698.5" r="5.4"/><circle cx="815.7" cy="704.0" r="5.4"/><circle cx="784.8" cy="704.0" r="5.4"/><circle cx="908.1" cy="731.1" r="5.4"/>
</g>
<g fill="#1f77b4" stroke="#1f77b4">
<circle cx="869.0" cy="689.5" r="5.4"/><circle cx="868.9" cy="690.0" r="5.4"/><circle cx="870.9" cy="693.6" r="5.4"/><circle cx="871.8" cy="694.3" r="5.4"/>
</g>
<g fill="#f7b6d2" stroke="#f7b6d2">
<circle cx="586.0" cy="705.1" r="5.4"/><circle cx="584.9" cy="705.6" r="5.4"/><circle cx="584.7" cy="704.0" r="5.4"/><circle cx="590.6" cy="714.6" r="5.4"/><circle cx="590.6" cy="722.3" r="5.4"/><circle cx="601.0" cy="720.9" r="5.4"/><circle cx="606.5" cy="723.7" r="5.4"/><circle cx="612.0" cy="727.2" r="5.4"/><circle cx="617.4" cy="728.3" r="5.4"/>
</g>
<g fill="#9467bd" stroke="#9467bd">
<circle cx="715.2" cy="760.0" r="5.4"/>
</g>
<g fill="#ff9896" stroke="#ff9896">
<circle cx="665.3" cy="806.0" r="5.4"/><circle cx="669.9" cy="793.7" r="5.4"/><circle cx="659.8" cy="790.2" r="5.4"/><circle cx="680.1" cy="780.3" r="5.4"/><circle cx="670.5" cy="787.2" r="5.4"/><circle cx="677.1" cy="768.8" r="5.4"/><circle cx="669.4" cy="790.1" r="5.4"/><circle cx="658.0" cy="804.1" r="5.4"/><circle cx="665.1" cy="789.5" r="5.4"/><circle cx="670.7" cy="803.0" r="5.4"/><circle cx="668.1" cy="808.2" r="5.4"/><circle cx="668.9" cy="801.2" r="5.4"/><circle cx="685.7" cy="778.2" r="5.4"/><circle cx="658.9" cy="799.9" r="5.4"/><circle cx="673.8" cy="782.8" r="5.4"/><circle cx="681.5" cy="771.7" r="5.4"/><circle cx="666.4" cy="787.8" r="5.4"/><circle cx="666.6" cy="786.0" r="5.4"/><circle cx="685.0" cy="771.9" r="5.4"/><circle cx="671.1" cy="790.9" r="5.4"/><circle cx="676.4" cy="777.5" r="5.4"/><circle cx="678.2" cy="774.2" r="5.4"/><circle cx="668.0" cy="798.1" r="5.4"/><circle cx="661.2" cy="787.3" r="5.4"/><circle cx="670.6" cy="798.5" r="5.4"/><circle cx="657.8" cy="792.4" r="5.4"/><circle cx="685.6" cy="782.2" r="5.4"/><circle cx="657.5" cy="795.4" r="5.4"/><circle cx="665.0" cy="792.0" r="5.4"/><circle cx="686.6" cy="774.2" r="5.4"/><circle cx="665.4" cy="796.3" r="5.4"/><circle cx="687.7" cy="782.3" r="5.4"/><circle cx="681.5" cy="776.4" r="5.4"/><circle cx="662.3" cy="795.7" r="5.4"/><circle cx="676.8" cy="772.4" r="5.4"/><circle cx="664.5" cy="803.6" r="5.4"/><circle cx="663.9" cy="809.1" r="5.4"/><circle cx="667.3" cy="792.1" r="5.4"/><circle cx="661.1" cy="792.9" r="5.4"/><circle cx="659.1" cy="796.3" r="5.4"/><circle cx="678.4" cy="773.0" r="5.4"/><circle cx="688.4" cy="776.8" r="5.4"/><circle cx="666.7" cy="813.0" r="5.4"/><circle cx="658.6" cy="798.7" r="5.4"/><circle cx="677.2" cy="784.9" r="5.4"/><circle cx="661.7" cy="808.5" r="5.4"/><circle cx="668.8" cy="805.9" r="5.4"/><circle cx="655.8" cy="793.1" r="5.4"/><circle cx="659.3" cy="805.3" r="5.4"/><circle cx="656.7" cy="791.0" r="5.4"/><circle cx="663.7" cy="798.6" r="5.4"/><circle cx="687.2" cy="780.1" r="5.4"/><circle cx="683.6" cy="780.5" r="5.4"/><circle cx="668.6" cy="794.8" r="5.4"/><circle cx="656.8" cy="801.4" r="5.4"/><circle cx="669.6" cy="810.5" r="5.4"/><circle cx="675.0" cy="785.2" r="5.4"/><circle cx="669.4" cy="784.8" r="5.4"/><circle cx="689.8" cy="779.7" r="5.4"/><circle cx="667.0" cy="803.4" r="5.4"/><circle cx="662.4" cy="790.0" r="5.4"/><circle cx="665.6" cy="800.6" r="5.4"/><circle cx="680.4" cy="774.2" r="5.4"/><circle cx="679.1" cy="781.9" r="5.4"/><circle cx="654.4" cy="798.3" r="5.4"/><circle cx="683.6" cy="770.0" r="5.4"/><circle cx="664.9" cy="787.9" r="5.4"/><circle cx="683.6" cy="774.4" r="5.4"/><circle cx="662.1" cy="799.0" r="5.4"/><circle cx="662.0" cy="801.5" r="5.4"/><circle cx="675.4" cy="780.3" r="5.4"/><circle cx="681.2" cy="768.8" r="5.4"/><circle cx="671.8" cy="784.4" r="5.4"/><circle cx="677.1" cy="779.3" r="5.4"/><circle cx="670.0" cy="808.6" r="5.4"/><circle cx="663.1" cy="805.9" r="5.4"/><circle cx="671.0" cy="794.8" r="5.4"/><circle cx="678.9" cy="776.6" r="5.4"/><circle cx="676.6" cy="781.9" r="5.4"/><circle cx="661.4" cy="802.5" r="5.4"/><circle cx="666.5" cy="811.5" r="5.4"/><circle cx="704.5" cy="771.2" r="5.4"/><circle cx="703.6" cy="770.0" r="5.4"/><circle cx="700.2" cy="775.8" r="5.4"/><circle cx="713.8" cy="761.5" r="5.4"/><circle cx="720.9" cy="774.3" r="5.4"/><circle cx="728.8" cy="777.9" r="5.4"/><circle cx="738.8" cy="786.5" r="5.4"/><circle cx="738.8" cy="813.7" r="5.4"/>
</g>
<g fill="#ff9896" stroke="#ff9896">
<circle cx="872.3" cy="752.0" r="5.4"/><circle cx="763.4" cy="735.9" r="5.4"/>
</g>
<g fill="#e377c2" stroke="#e377c2">
<circle cx="738.4" cy="729.9" r="5.4"/>
</g>
<g fill="#d62728" stroke="#d62728">
<circle cx="683.7" cy="810.9" r="5.4"/><circle cx="678.0" cy="818.0" r="5.4"/><circle cx="680.1" cy="822.3" r="5.4"/><circle cx="683.4" cy="860.3" r="5.4"/><circle cx="685.2" cy="858.4" r="5.4"/><circle cx="685.2" cy="862.1" r="5.4"/><circle cx="778.9" cy="934.8" r="5.4"/><circle cx="780.0" cy="933.9" r="5.4"/>
</g>
<g fill="#1f77b4" stroke="#1f77b4">
<circle cx="682.3" cy="873.2" r="5.4"/>
</g>
<g fill="#2ca02c" stroke="#2ca02c">
<circle cx="683.7" cy="877.5" r="5.4"/>
</g>
<g fill="#d62728" stroke="#d62728">
<circle cx="683.7" cy="876.8" r="5.4"/><circle cx="684.4" cy="877.4" r="5.4"/><circle cx="698.7" cy="876.8" r="5.4"/><circle cx="697.2" cy="875.3" r="5.4"/><circle cx="699.0" cy="878.5" r="5.4"/><circle cx="703.0" cy="873.2" r="5.4"/><circle cx="707.3" cy="870.3" r="5.4"/><circle cx="707.4" cy="870.9" r="5.4"/><circle cx="710.9" cy="871.5" r="5.4"/>
</g>
<g fill="#c49c94" stroke="#c49c94">
<circle cx="691.1" cy="821.6" r="5.4"/><circle cx="750.3" cy="819.8" r="5.4"/><circle cx="745.3" cy="825.2" r="5.4"/><circle cx="746.0" cy="830.2" r="5.4"/><circle cx="744.4" cy="830.7" r="5.4"/><circle cx="744.2" cy="829.4" r="5.4"/><circle cx="744.1" cy="827.3" r="5.4"/><circle cx="730.7" cy="840.2" r="5.4"/><circle cx="786.1" cy="815.2" r="5.4"/><circle cx="786.1" cy="828.8" r="5.4"/><circle cx="788.2" cy="830.0" r="5.4"/><circle cx="785.3" cy="830.8" r="5.4"/><circle cx="804.7" cy="830.2" r="5.4"/><circle cx="831.2" cy="820.9" r="5.4"/><circle cx="824.8" cy="824.5" r="5.4"/><circle cx="824.2" cy="825.2" r="5.4"/><circle cx="816.2" cy="825.9" r="5.4"/><circle cx="816.5" cy="826.5" r="5.4"/><circle cx="819.0" cy="835.9" r="5.4"/><circle cx="818.1" cy="835.5" r="5.4"/><circle cx="820.5" cy="834.6" r="5.4"/><circle cx="811.9" cy="839.5" r="5.4"/><circle cx="812.3" cy="840.2" r="5.4"/><circle cx="824.8" cy="837.4" r="5.4"/><circle cx="825.4" cy="837.6" r="5.4"/><circle cx="820.5" cy="830.2" r="5.4"/><circle cx="821.3" cy="829.6" r="5.4"/><circle cx="829.1" cy="827.3" r="5.4"/><circle cx="817.6" cy="841.7" r="5.4"/><circle cx="809.0" cy="838.8" r="5.4"/><circle cx="843.4" cy="838.8" r="5.4"/><circle cx="844.8" cy="840.5" r="5.4"/><circle cx="843.0" cy="839.3" r="5.4"/><circle cx="846.2" cy="835.9" r="5.4"/><circle cx="838.4" cy="839.5" r="5.4"/><circle cx="829.8" cy="849.5" r="5.4"/><circle cx="831.9" cy="856.7" r="5.4"/><circle cx="791.8" cy="868.9" r="5.4"/>
</g>
<g fill="#c49c94" stroke="#c49c94">
<circle cx="791.5" cy="777.5" r="5.4"/>
</g>
<g fill="#8c564b" stroke="#8c564b">
<circle cx="721.6" cy="871.5" r="5.4"/><circle cx="749.9" cy="856.3" r="5.4"/><circle cx="790.7" cy="860.3" r="5.4"/><circle cx="781.8" cy="872.9" r="5.4"/><circle cx="787.5" cy="873.2" r="5.4"/><circle cx="786.8" cy="887.8" r="5.4"/>
</g>
<g fill="#1f77b4" stroke="#1f77b4">
<circle cx="714.5" cy="795.8" r="5.4"/><circle cx="713.7" cy="794.7" r="5.4"/><circle cx="720.2" cy="793.0" r="5.4"/><circle cx="719.2" cy="793.9" r="5.4"/><circle cx="712.3" cy="799.4" r="5.4"/><circle cx="712.1" cy="799.0" r="5.4"/><circle cx="716.6" cy="801.6" r="5.4"/><circle cx="716.2" cy="802.1" r="5.4"/><circle cx="714.5" cy="806.6" r="5.4"/><circle cx="714.6" cy="806.6" r="5.4"/><circle cx="718.1" cy="810.2" r="5.4"/><circle cx="717.0" cy="809.7" r="5.4"/><circle cx="719.5" cy="815.9" r="5.4"/><circle cx="719.2" cy="815.0" r="5.4"/><circle cx="719.5" cy="821.6" r="5.4"/><circle cx="720.3" cy="821.7" r="5.4"/><circle cx="717.3" cy="814.5" r="5.4"/><circle cx="717.5" cy="813.4" r="5.4"/><circle cx="715.9" cy="798.7" r="5.4"/><circle cx="731.7" cy="800.1" r="5.4"/><circle cx="733.1" cy="809.4" r="5.4"/>
</g>
<g fill="#9467bd" stroke="#9467bd">
<circle cx="691.9" cy="747.6" r="5.4"/><circle cx="715.2" cy="759.8" r="5.4"/><circle cx="741.7" cy="745.8" r="5.4"/><circle cx="744.0" cy="760.2" r="5.4"/><circle cx="752.8" cy="754.2" r="5.4"/><circle cx="752.2" cy="753.0" r="5.4"/><circle cx="752.9" cy="752.3" r="5.4"/><circle cx="755.5" cy="764.6" r="5.4"/><circle cx="765.0" cy="763.1" r="5.4"/><circle cx="768.8" cy="747.6" r="5.4"/><circle cx="770.5" cy="736.5" r="5.4"/><circle cx="768.4" cy="735.2" r="5.4"/><circle cx="771.8" cy="737.2" r="5.4"/><circle cx="772.6" cy="739.4" r="5.4"/><circle cx="774.9" cy="744.3" r="5.4"/><circle cx="783.8" cy="728.8" r="5.4"/><circle cx="784.9" cy="737.2" r="5.4"/><circle cx="796.0" cy="724.3" r="5.4"/><circle cx="795.5" cy="724.7" r="5.4"/><circle cx="795.1" cy="723.3" r="5.4"/><circle cx="807.0" cy="733.2" r="5.4"/><circle cx="812.1" cy="732.8" r="5.4"/><circle cx="820.3" cy="736.5" r="5.4"/><circle cx="842.5" cy="730.3" r="5.4"/><circle cx="836.9" cy="741.0" r="5.4"/><circle cx="835.1" cy="739.5" r="5.4"/><circle cx="838.2" cy="742.2" r="5.4"/><circle cx="838.0" cy="747.6" r="5.4"/><circle cx="802.6" cy="753.1" r="5.4"/><circle cx="812.6" cy="749.1" r="5.4"/><circle cx="816.6" cy="750.9" r="5.4"/><circle cx="804.2" cy="760.2" r="5.4"/><circle cx="835.8" cy="758.0" r="5.4"/><circle cx="843.6" cy="753.1" r="5.4"/><circle cx="850.2" cy="758.7" r="5.4"/><circle cx="840.9" cy="764.2" r="5.4"/><circle cx="780.5" cy="770.8" r="5.4"/><circle cx="782.7" cy="778.6" r="5.4"/><circle cx="745.7" cy="776.4" r="5.4"/><circle cx="745.1" cy="787.4" r="5.4"/><circle cx="745.7" cy="789.5" r="5.4"/><circle cx="747.9" cy="784.6" r="5.4"/><circle cx="744.5" cy="789.7" r="5.4"/><circle cx="746.2" cy="794.1" r="5.4"/><circle cx="770.1" cy="783.5" r="5.4"/><circle cx="786.0" cy="788.5" r="5.4"/><circle cx="788.9" cy="785.7" r="5.4"/><circle cx="786.3" cy="791.2" r="5.4"/><circle cx="788.2" cy="790.0" r="5.4"/><circle cx="786.9" cy="789.7" r="5.4"/><circle cx="788.2" cy="784.1" r="5.4"/><circle cx="797.1" cy="776.4" r="5.4"/><circle cx="807.0" cy="775.3" r="5.4"/><circle cx="820.3" cy="778.6" r="5.4"/><circle cx="831.4" cy="779.2" r="5.4"/><circle cx="815.9" cy="787.4" r="5.4"/><circle cx="816.0" cy="787.5" r="5.4"/><circle cx="816.6" cy="789.3" r="5.4"/><circle cx="825.9" cy="787.4" r="5.4"/><circle cx="824.8" cy="795.2" r="5.4"/><circle cx="825.8" cy="795.5" r="5.4"/><circle cx="829.2" cy="799.6" r="5.4"/><circle cx="803.7" cy="797.4" r="5.4"/><circle cx="803.1" cy="796.6" r="5.4"/><circle cx="817.0" cy="804.0" r="5.4"/><circle cx="814.8" cy="808.5" r="5.4"/><circle cx="818.6" cy="814.0" r="5.4"/><circle cx="786.0" cy="815.1" r="5.4"/><circle cx="908.2" cy="731.4" r="5.4"/><circle cx="784.9" cy="704.0" r="5.4"/><circle cx="815.9" cy="704.0" r="5.4"/><circle cx="759.5" cy="752.0" r="5.4"/><circle cx="845.8" cy="755.3" r="5.4"/>
</g>
<g fill="#ff7f0e" stroke="#ff7f0e">
<circle cx="858.0" cy="721.7" r="5.4"/><circle cx="865.3" cy="770.8" r="5.4"/><circle cx="861.3" cy="775.3" r="5.4"/><circle cx="858.6" cy="783.7" r="5.4"/><circle cx="867.9" cy="785.2" r="5.4"/><circle cx="869.9" cy="785.3" r="5.4"/><circle cx="868.2" cy="782.9" r="5.4"/><circle cx="867.9" cy="784.9" r="5.4"/><circle cx="849.1" cy="792.3" r="5.4"/><circle cx="788.2" cy="702.2" r="5.4"/>
</g>
<g fill="#aec7e8" stroke="#aec7e8">
<circle cx="951.6" cy="729.2" r="5.4"/><circle cx="925.5" cy="750.5" r="5.4"/><circle cx="931.0" cy="762.6" r="5.4"/>
</g>
<g fill="#2ca02c" stroke="#2ca02c">
<circle cx="839.8" cy="848.1" r="5.4"/><circle cx="843.8" cy="861.0" r="5.4"/><circle cx="825.4" cy="897.7" r="5.4"/><circle cx="817.7" cy="910.6" r="5.4"/><circle cx="806.4" cy="906.5" r="5.4"/><circle cx="785.6" cy="934.9" r="5.4"/><circle cx="791.6" cy="938.2" r="5.4"/><circle cx="832.9" cy="904.3" r="5.4"/><circle cx="804.4" cy="892.5" r="5.4"/><circle cx="813.5" cy="898.9" r="5.4"/><circle cx="791.5" cy="926.7" r="5.4"/><circle cx="783.2" cy="933.3" r="5.4"/><circle cx="786.0" cy="929.6" r="5.4"/><circle cx="806.4" cy="888.2" r="5.4"/><circle cx="789.4" cy="923.9" r="5.4"/><circle cx="818.6" cy="904.2" r="5.4"/><circle cx="833.4" cy="913.3" r="5.4"/><circle cx="818.8" cy="913.7" r="5.4"/><circle cx="803.5" cy="903.8" r="5.4"/><circle cx="825.9" cy="916.6" r="5.4"/><circle cx="797.0" cy="948.6" r="5.4"/><circle cx="813.0" cy="913.2" r="5.4"/><circle cx="796.8" cy="929.1" r="5.4"/><circle cx="810.6" cy="922.7" r="5.4"/><circle cx="818.9" cy="922.3" r="5.4"/><circle cx="799.5" cy="930.1" r="5.4"/><circle cx="790.2" cy="933.6" r="5.4"/><circle cx="811.4" cy="895.8" r="5.4"/><circle cx="799.0" cy="885.4" r="5.4"/><circle cx="810.3" cy="897.6" r="5.4"/><circle cx="798.6" cy="926.0" r="5.4"/><circle cx="805.1" cy="913.6" r="5.4"/><circle cx="804.6" cy="910.3" r="5.4"/><circle cx="800.0" cy="942.0" r="5.4"/><circle cx="822.5" cy="925.4" r="5.4"/><circle cx="797.5" cy="888.4" r="5.4"/><circle cx="820.7" cy="894.6" r="5.4"/><circle cx="789.7" cy="949.1" r="5.4"/><circle cx="798.4" cy="938.0" r="5.4"/><circle cx="793.0" cy="929.4" r="5.4"/><circle cx="808.7" cy="894.1" r="5.4"/><circle cx="798.1" cy="919.8" r="5.4"/><circle cx="803.4" cy="922.6" r="5.4"/><circle cx="806.3" cy="922.7" r="5.4"/><circle cx="814.9" cy="914.1" r="5.4"/><circle cx="800.1" cy="899.1" r="5.4"/><circle cx="797.2" cy="933.2" r="5.4"/><circle cx="801.9" cy="919.2" r="5.4"/><circle cx="802.5" cy="938.3" r="5.4"/><circle cx="795.0" cy="940.9" r="5.4"/><circle cx="804.0" cy="947.9" r="5.4"/><circle cx="799.1" cy="900.4" r="5.4"/><circle cx="804.4" cy="935.0" r="5.4"/><circle cx="801.6" cy="889.8" r="5.4"/><circle cx="800.5" cy="947.0" r="5.4"/><circle cx="808.9" cy="926.4" r="5.4"/><circle cx="826.6" cy="894.6" r="5.4"/><circle cx="815.0" cy="891.9" r="5.4"/><circle cx="827.7" cy="908.5" r="5.4"/><circle cx="810.4" cy="909.7" r="5.4"/><circle cx="796.0" cy="878.9" r="5.4"/><circle cx="808.7" cy="931.6" r="5.4"/><circle cx="793.0" cy="947.5" r="5.4"/><circle cx="806.2" cy="939.7" r="5.4"/><circle cx="826.0" cy="920.2" r="5.4"/><circle cx="804.0" cy="886.2" r="5.4"/><circle cx="808.1" cy="912.6" r="5.4"/><circle cx="828.0" cy="913.6" r="5.4"/><circle cx="824.0" cy="930.2" r="5.4"/><circle cx="788.0" cy="934.4" r="5.4"/><circle cx="782.5" cy="929.1" r="5.4"/><circle cx="803.8" cy="940.9" r="5.4"/><circle cx="812.5" cy="925.6" r="5.4"/><circle cx="834.0" cy="907.7" r="5.4"/><circle cx="794.0" cy="925.8" r="5.4"/><circle cx="791.7" cy="943.7" r="5.4"/><circle cx="816.7" cy="935.6" r="5.4"/><circle cx="817.0" cy="915.7" r="5.4"/><circle cx="821.3" cy="897.6" r="5.4"/><circle cx="787.8" cy="932.9" r="5.4"/><circle cx="808.6" cy="901.4" r="5.4"/><circle cx="803.6" cy="879.9" r="5.4"/><circle cx="819.4" cy="919.6" r="5.4"/><circle cx="820.0" cy="908.1" r="5.4"/><circle cx="815.7" cy="927.2" r="5.4"/><circle cx="802.5" cy="929.9" r="5.4"/><circle cx="799.4" cy="910.9" r="5.4"/><circle cx="784.3" cy="937.5" r="5.4"/><circle cx="831.6" cy="900.8" r="5.4"/><circle cx="816.7" cy="908.3" r="5.4"/><circle cx="813.3" cy="924.0" r="5.4"/><circle cx="836.9" cy="904.8" r="5.4"/><circle cx="791.5" cy="919.7" r="5.4"/><circle cx="806.9" cy="915.7" r="5.4"/><circle cx="799.3" cy="922.8" r="5.4"/><circle cx="825.3" cy="923.9" r="5.4"/><circle cx="800.9" cy="882.2" r="5.4"/><circle cx="809.3" cy="906.9" r="5.4"/><circle cx="806.1" cy="909.6" r="5.4"/><circle cx="814.4" cy="910.3" r="5.4"/><circle cx="828.9" cy="904.3" r="5.4"/><circle cx="811.4" cy="934.4" r="5.4"/><circle cx="808.0" cy="936.7" r="5.4"/><circle cx="817.0" cy="897.3" r="5.4"/><circle cx="800.1" cy="936.4" r="5.4"/><circle cx="819.9" cy="926.9" r="5.4"/><circle cx="797.8" cy="945.6" r="5.4"/><circle cx="793.3" cy="939.5" r="5.4"/><circle cx="799.4" cy="917.1" r="5.4"/><circle cx="804.6" cy="898.1" r="5.4"/><circle cx="802.8" cy="945.4" r="5.4"/><circle cx="826.0" cy="900.7" r="5.4"/><circle cx="786.6" cy="940.7" r="5.4"/><circle cx="796.2" cy="934.8" r="5.4"/><circle cx="804.5" cy="919.2" r="5.4"/><circle cx="813.1" cy="939.7" r="5.4"/><circle cx="805.1" cy="933.6" r="5.4"/><circle cx="811.7" cy="919.1" r="5.4"/><circle cx="818.5" cy="931.2" r="5.4"/><circle cx="795.1" cy="945.5" r="5.4"/><circle cx="820.9" cy="903.3" r="5.4"/><circle cx="822.0" cy="929.5" r="5.4"/><circle cx="800.5" cy="878.9" r="5.4"/><circle cx="813.4" cy="917.0" r="5.4"/><circle cx="803.5" cy="917.1" r="5.4"/><circle cx="826.0" cy="904.1" r="5.4"/><circle cx="799.1" cy="882.4" r="5.4"/><circle cx="793.3" cy="920.2" r="5.4"/><circle cx="833.0" cy="901.4" r="5.4"/><circle cx="804.9" cy="901.1" r="5.4"/><circle cx="792.7" cy="915.8" r="5.4"/><circle cx="822.2" cy="893.8" r="5.4"/><circle cx="800.5" cy="931.8" r="5.4"/><circle cx="801.8" cy="894.4" r="5.4"/><circle cx="806.8" cy="905.2" r="5.4"/><circle cx="806.0" cy="891.2" r="5.4"/><circle cx="793.7" cy="951.9" r="5.4"/><circle cx="811.5" cy="892.9" r="5.4"/><circle cx="836.8" cy="900.8" r="5.4"/><circle cx="819.2" cy="900.5" r="5.4"/><circle cx="815.5" cy="919.4" r="5.4"/><circle cx="828.6" cy="909.7" r="5.4"/><circle cx="811.4" cy="904.8" r="5.4"/><circle cx="814.9" cy="932.3" r="5.4"/><circle cx="826.1" cy="909.7" r="5.4"/><circle cx="831.3" cy="908.6" r="5.4"/><circle cx="813.8" cy="934.7" r="5.4"/><circle cx="822.2" cy="911.3" r="5.4"/><circle cx="827.8" cy="925.6" r="5.4"/><circle cx="807.8" cy="920.1" r="5.4"/><circle cx="805.2" cy="945.2" r="5.4"/><circle cx="793.9" cy="914.9" r="5.4"/><circle cx="815.3" cy="929.0" r="5.4"/><circle cx="828.8" cy="917.5" r="5.4"/><circle cx="800.1" cy="891.9" r="5.4"/><circle cx="802.6" cy="901.7" r="5.4"/><circle cx="795.7" cy="922.0" r="5.4"/><circle cx="805.4" cy="927.3" r="5.4"/><circle cx="811.3" cy="941.6" r="5.4"/><circle cx="821.7" cy="915.7" r="5.4"/><circle cx="795.5" cy="917.6" r="5.4"/><circle cx="800.8" cy="926.6" r="5.4"/><circle cx="823.5" cy="913.8" r="5.4"/><circle cx="809.0" cy="889.8" r="5.4"/><circle cx="817.4" cy="928.2" r="5.4"/><circle cx="799.1" cy="895.4" r="5.4"/><circle cx="816.3" cy="938.6" r="5.4"/><circle cx="787.1" cy="939.1" r="5.4"/><circle cx="805.8" cy="898.1" r="5.4"/><circle cx="820.9" cy="923.0" r="5.4"/><circle cx="811.6" cy="932.5" r="5.4"/><circle cx="786.1" cy="946.1" r="5.4"/><circle cx="809.8" cy="938.6" r="5.4"/><circle cx="815.1" cy="903.5" r="5.4"/><circle cx="805.1" cy="895.1" r="5.4"/><circle cx="793.5" cy="924.2" r="5.4"/><circle cx="824.1" cy="932.8" r="5.4"/><circle cx="824.4" cy="908.5" r="5.4"/><circle cx="792.2" cy="942.1" r="5.4"/><circle cx="807.9" cy="929.4" r="5.4"/><circle cx="802.2" cy="907.9" r="5.4"/><circle cx="816.8" cy="901.3" r="5.4"/><circle cx="810.7" cy="917.4" r="5.4"/><circle cx="789.3" cy="941.5" r="5.4"/><circle cx="787.8" cy="925.1" r="5.4"/><circle cx="813.1" cy="908.0" r="5.4"/><circle cx="797.0" cy="914.3" r="5.4"/><circle cx="809.7" cy="929.0" r="5.4"/><circle cx="830.2" cy="914.2" r="5.4"/><circle cx="789.0" cy="929.5" r="5.4"/><circle cx="821.3" cy="934.4" r="5.4"/><circle cx="800.8" cy="914.5" r="5.4"/><circle cx="808.1" cy="942.5" r="5.4"/><circle cx="822.2" cy="920.3" r="5.4"/><circle cx="793.3" cy="932.4" r="5.4"/><circle cx="808.4" cy="944.0" r="5.4"/><circle cx="823.4" cy="900.2" r="5.4"/><circle cx="792.8" cy="934.4" r="5.4"/><circle cx="833.1" cy="909.5" r="5.4"/><circle cx="812.6" cy="902.4" r="5.4"/><circle cx="815.3" cy="894.1" r="5.4"/>
</g>
</g>
<g><!-- Cebpe KO -->
<g fill="#c7c7c7" stroke="#c7c7c7">
<circle cx="1278.3" cy="566.4" r="5.4"/><circle cx="1281.6" cy="566.2" r="5.4"/><circle cx="1281.9" cy="567.1" r="5.4"/>
</g>
<g fill="#7f7f7f" stroke="#7f7f7f">
<circle cx="1279.8" cy="575.8" r="5.4"/>
</g>
<g fill="#1f77b4" stroke="#1f77b4">
<circle cx="1320.0" cy="595.7" r="5.4"/>
</g>
<g fill="#ff7f0e" stroke="#ff7f0e">
<circle cx="1291.5" cy="617.4" r="5.4"/>
</g>
<g fill="#c7c7c7" stroke="#c7c7c7">
<circle cx="1333.2" cy="627.8" r="5.4"/><circle cx="1339.9" cy="603.0" r="5.4"/><circle cx="1340.8" cy="621.7" r="5.4"/><circle cx="1336.8" cy="627.7" r="5.4"/><circle cx="1338.3" cy="600.8" r="5.4"/><circle cx="1350.4" cy="620.5" r="5.4"/><circle cx="1319.7" cy="610.3" r="5.4"/><circle cx="1307.2" cy="625.3" r="5.4"/><circle cx="1334.7" cy="607.4" r="5.4"/><circle cx="1335.6" cy="618.7" r="5.4"/><circle cx="1321.4" cy="634.9" r="5.4"/><circle cx="1332.6" cy="610.9" r="5.4"/><circle cx="1319.2" cy="617.4" r="5.4"/><circle cx="1339.8" cy="606.9" r="5.4"/><circle cx="1327.1" cy="625.4" r="5.4"/><circle cx="1343.2" cy="629.6" r="5.4"/><circle cx="1333.9" cy="640.1" r="5.4"/><circle cx="1327.9" cy="632.9" r="5.4"/><circle cx="1339.6" cy="634.1" r="5.4"/><circle cx="1346.9" cy="616.7" r="5.4"/><circle cx="1329.6" cy="610.1" r="5.4"/><circle cx="1343.4" cy="612.1" r="5.4"/><circle cx="1331.6" cy="638.0" r="5.4"/><circle cx="1334.4" cy="626.8" r="5.4"/><circle cx="1338.0" cy="622.2" r="5.4"/><circle cx="1324.7" cy="613.2" r="5.4"/><circle cx="1325.0" cy="623.5" r="5.4"/><circle cx="1347.1" cy="627.9" r="5.4"/><circle cx="1324.3" cy="625.9" r="5.4"/><circle cx="1350.4" cy="625.5" r="5.4"/><circle cx="1344.1" cy="622.7" r="5.4"/><circle cx="1342.9" cy="601.2" r="5.4"/><circle cx="1324.2" cy="632.1" r="5.4"/><circle cx="1317.4" cy="607.8" r="5.4"/><circle cx="1323.5" cy="617.1" r="5.4"/><circle cx="1332.9" cy="636.3" r="5.4"/><circle cx="1320.2" cy="619.6" r="5.4"/><circle cx="1340.6" cy="628.8" r="5.4"/><circle cx="1312.4" cy="625.7" r="5.4"/><circle cx="1338.5" cy="631.6" r="5.4"/><circle cx="1318.1" cy="621.6" r="5.4"/><circle cx="1335.8" cy="616.9" r="5.4"/><circle cx="1337.5" cy="634.7" r="5.4"/><circle cx="1334.2" cy="623.5" r="5.4"/><circle cx="1323.4" cy="622.1" r="5.4"/><circle cx="1345.1" cy="624.5" r="5.4"/><circle cx="1334.7" cy="633.1" r="5.4"/><circle cx="1341.8" cy="633.1" r="5.4"/><circle cx="1330.3" cy="629.9" r="5.4"/><circle cx="1327.5" cy="620.3" r="5.4"/><circle cx="1317.9" cy="625.9" r="5.4"/><circle cx="1332.6" cy="606.8" r="5.4"/><circle cx="1307.7" cy="623.2" r="5.4"/><circle cx="1323.2" cy="609.9" r="5.4"/><circle cx="1326.8" cy="634.6" r="5.4"/><circle cx="1339.8" cy="612.9" r="5.4"/><circle cx="1329.3" cy="621.9" r="5.4"/><circle cx="1330.5" cy="615.9" r="5.4"/><circle cx="1310.7" cy="623.2" r="5.4"/><circle cx="1346.6" cy="620.5" r="5.4"/><circle cx="1341.7" cy="617.0" r="5.4"/><circle cx="1330.8" cy="604.6" r="5.4"/><circle cx="1323.4" cy="606.6" r="5.4"/><circle cx="1337.7" cy="603.8" r="5.4"/><circle cx="1346.0" cy="612.6" r="5.4"/><circle cx="1334.4" cy="637.3" r="5.4"/><circle cx="1345.4" cy="630.8" r="5.4"/><circle cx="1309.9" cy="620.0" r="5.4"/><circle cx="1338.1" cy="624.7" r="5.4"/><circle cx="1339.4" cy="637.5" r="5.4"/><circle cx="1332.6" cy="632.0" r="5.4"/><circle cx="1351.7" cy="623.6" r="5.4"/><circle cx="1327.3" cy="616.8" r="5.4"/><circle cx="1321.9" cy="628.3" r="5.4"/><circle cx="1325.2" cy="620.5" r="5.4"/><circle cx="1336.1" cy="611.3" r="5.4"/><circle cx="1334.6" cy="613.7" r="5.4"/><circle cx="1341.7" cy="619.8" r="5.4"/><circle cx="1320.4" cy="625.9" r="5.4"/><circle cx="1327.7" cy="612.7" r="5.4"/><circle cx="1345.1" cy="600.2" r="5.4"/><circle cx="1325.1" cy="609.6" r="5.4"/><circle cx="1331.5" cy="613.5" r="5.4"/><circle cx="1328.7" cy="635.7" r="5.4"/><circle cx="1319.1" cy="628.7" r="5.4"/><circle cx="1316.2" cy="621.7" r="5.4"/><circle cx="1344.6" cy="610.1" r="5.4"/><circle cx="1348.2" cy="622.0" r="5.4"/><circle cx="1343.0" cy="616.5" r="5.4"/><circle cx="1317.2" cy="620.5" r="5.4"/><circle cx="1313.8" cy="619.2" r="5.4"/><circle cx="1338.0" cy="619.2" r="5.4"/><circle cx="1321.2" cy="612.3" r="5.4"/><circle cx="1320.5" cy="633.0" r="5.4"/><circle cx="1343.4" cy="605.9" r="5.4"/><circle cx="1332.3" cy="617.1" r="5.4"/><circle cx="1332.2" cy="618.9" r="5.4"/><circle cx="1320.3" cy="606.9" r="5.4"/><circle cx="1326.5" cy="628.9" r="5.4"/><circle cx="1340.6" cy="610.5" r="5.4"/><circle cx="1332.4" cy="625.0" r="5.4"/><circle cx="1315.3" cy="629.2" r="5.4"/><circle cx="1310.9" cy="626.3" r="5.4"/><circle cx="1327.3" cy="637.5" r="5.4"/><circle cx="1318.0" cy="604.1" r="5.4"/><circle cx="1332.7" cy="604.1" r="5.4"/><circle cx="1344.7" cy="603.5" r="5.4"/><circle cx="1341.4" cy="626.3" r="5.4"/><circle cx="1316.5" cy="603.6" r="5.4"/><circle cx="1314.8" cy="673.1" r="5.4"/><circle cx="1317.2" cy="672.0" r="5.4"/><circle cx="1318.6" cy="674.3" r="5.4"/><circle cx="1318.5" cy="677.7" r="5.4"/><circle cx="1324.2" cy="677.1" r="5.4"/><circle cx="1312.5" cy="678.3" r="5.4"/><circle cx="1312.3" cy="673.0" r="5.4"/><circle cx="1313.3" cy="675.8" r="5.4"/><circle cx="1316.0" cy="674.7" r="5.4"/><circle cx="1324.4" cy="674.7" r="5.4"/><circle cx="1326.2" cy="676.7" r="5.4"/><circle cx="1309.6" cy="674.2" r="5.4"/><circle cx="1307.8" cy="673.0" r="5.4"/><circle cx="1322.6" cy="674.3" r="5.4"/><circle cx="1306.7" cy="675.3" r="5.4"/><circle cx="1315.0" cy="676.9" r="5.4"/><circle cx="1320.9" cy="672.7" r="5.4"/><circle cx="1323.1" cy="671.6" r="5.4"/><circle cx="1328.0" cy="674.1" r="5.4"/>
</g>
<g fill="#c5b0d5" stroke="#c5b0d5">
<circle cx="1313.9" cy="658.4" r="5.4"/><circle cx="1295.9" cy="644.3" r="5.4"/><circle cx="1284.9" cy="662.0" r="5.4"/><circle cx="1305.4" cy="658.0" r="5.4"/><circle cx="1295.8" cy="645.6" r="5.4"/><circle cx="1293.0" cy="643.2" r="5.4"/><circle cx="1311.3" cy="655.8" r="5.4"/><circle cx="1306.6" cy="654.8" r="5.4"/><circle cx="1286.5" cy="645.9" r="5.4"/><circle cx="1319.5" cy="655.6" r="5.4"/><circle cx="1323.1" cy="647.3" r="5.4"/><circle cx="1313.3" cy="639.0" r="5.4"/><circle cx="1295.2" cy="639.6" r="5.4"/><circle cx="1301.8" cy="660.1" r="5.4"/><circle cx="1297.1" cy="667.3" r="5.4"/><circle cx="1289.6" cy="643.2" r="5.4"/><circle cx="1300.1" cy="650.3" r="5.4"/><circle cx="1293.7" cy="655.4" r="5.4"/><circle cx="1308.4" cy="665.4" r="5.4"/><circle cx="1318.4" cy="650.4" r="5.4"/><circle cx="1291.9" cy="636.3" r="5.4"/><circle cx="1305.8" cy="639.1" r="5.4"/><circle cx="1307.7" cy="662.9" r="5.4"/><circle cx="1304.7" cy="643.7" r="5.4"/><circle cx="1288.8" cy="639.7" r="5.4"/><circle cx="1300.0" cy="636.3" r="5.4"/><circle cx="1296.1" cy="636.9" r="5.4"/><circle cx="1288.4" cy="662.3" r="5.4"/><circle cx="1311.7" cy="650.2" r="5.4"/><circle cx="1287.3" cy="666.0" r="5.4"/><circle cx="1314.1" cy="637.1" r="5.4"/><circle cx="1310.7" cy="643.9" r="5.4"/><circle cx="1287.0" cy="668.8" r="5.4"/><circle cx="1283.0" cy="664.5" r="5.4"/><circle cx="1326.2" cy="649.9" r="5.4"/><circle cx="1293.3" cy="649.3" r="5.4"/><circle cx="1293.8" cy="627.7" r="5.4"/><circle cx="1294.2" cy="634.0" r="5.4"/><circle cx="1318.1" cy="643.0" r="5.4"/><circle cx="1304.7" cy="655.1" r="5.4"/><circle cx="1291.9" cy="634.3" r="5.4"/><circle cx="1307.0" cy="642.7" r="5.4"/><circle cx="1289.7" cy="668.7" r="5.4"/><circle cx="1295.8" cy="655.0" r="5.4"/><circle cx="1322.3" cy="649.2" r="5.4"/><circle cx="1299.7" cy="646.2" r="5.4"/><circle cx="1283.0" cy="662.5" r="5.4"/><circle cx="1315.9" cy="639.6" r="5.4"/><circle cx="1308.9" cy="658.8" r="5.4"/><circle cx="1293.6" cy="630.2" r="5.4"/><circle cx="1288.4" cy="652.5" r="5.4"/><circle cx="1290.3" cy="648.7" r="5.4"/><circle cx="1298.1" cy="652.3" r="5.4"/><circle cx="1298.3" cy="639.8" r="5.4"/><circle cx="1292.4" cy="646.9" r="5.4"/><circle cx="1313.8" cy="645.7" r="5.4"/><circle cx="1302.8" cy="666.0" r="5.4"/><circle cx="1317.1" cy="646.6" r="5.4"/><circle cx="1298.7" cy="634.4" r="5.4"/><circle cx="1320.3" cy="645.8" r="5.4"/><circle cx="1301.0" cy="644.1" r="5.4"/><circle cx="1298.4" cy="664.2" r="5.4"/><circle cx="1302.1" cy="645.8" r="5.4"/><circle cx="1310.3" cy="652.8" r="5.4"/><circle cx="1296.5" cy="662.7" r="5.4"/><circle cx="1294.9" cy="659.1" r="5.4"/><circle cx="1306.8" cy="633.7" r="5.4"/><circle cx="1301.2" cy="662.2" r="5.4"/><circle cx="1310.7" cy="660.9" r="5.4"/><circle cx="1293.8" cy="660.9" r="5.4"/><circle cx="1317.5" cy="658.1" r="5.4"/><circle cx="1321.5" cy="644.5" r="5.4"/><circle cx="1311.7" cy="653.2" r="5.4"/><circle cx="1303.2" cy="652.1" r="5.4"/><circle cx="1300.8" cy="631.1" r="5.4"/><circle cx="1314.7" cy="656.4" r="5.4"/><circle cx="1317.3" cy="653.6" r="5.4"/><circle cx="1321.0" cy="656.1" r="5.4"/><circle cx="1306.7" cy="638.0" r="5.4"/><circle cx="1305.1" cy="645.5" r="5.4"/><circle cx="1310.1" cy="637.9" r="5.4"/><circle cx="1290.3" cy="657.0" r="5.4"/><circle cx="1292.2" cy="652.7" r="5.4"/><circle cx="1305.0" cy="651.9" r="5.4"/><circle cx="1313.8" cy="642.9" r="5.4"/><circle cx="1296.0" cy="664.5" r="5.4"/><circle cx="1300.6" cy="656.3" r="5.4"/><circle cx="1303.4" cy="637.9" r="5.4"/><circle cx="1286.5" cy="644.3" r="5.4"/><circle cx="1297.9" cy="658.9" r="5.4"/><circle cx="1291.7" cy="665.6" r="5.4"/><circle cx="1291.6" cy="640.6" r="5.4"/><circle cx="1310.0" cy="640.9" r="5.4"/><circle cx="1302.2" cy="640.3" r="5.4"/><circle cx="1292.3" cy="658.4" r="5.4"/><circle cx="1287.5" cy="658.3" r="5.4"/><circle cx="1320.8" cy="652.8" r="5.4"/><circle cx="1309.3" cy="647.5" r="5.4"/><circle cx="1307.5" cy="648.5" r="5.4"/><circle cx="1303.0" cy="649.3" r="5.4"/><circle cx="1299.9" cy="667.3" r="5.4"/><circle cx="1313.8" cy="649.2" r="5.4"/><circle cx="1306.2" cy="664.6" r="5.4"/><circle cx="1294.8" cy="652.7" r="5.4"/><circle cx="1292.8" cy="667.9" r="5.4"/><circle cx="1304.5" cy="661.8" r="5.4"/><circle cx="1302.7" cy="633.7" r="5.4"/><circle cx="1296.1" cy="648.6" r="5.4"/><circle cx="1297.5" cy="629.8" r="5.4"/><circle cx="1252.9" cy="638.5" r="5.4"/><circle cx="1252.3" cy="654.3" r="5.4"/><circle cx="1249.3" cy="661.3" r="5.4"/><circle cx="1276.1" cy="651.4" r="5.4"/><circle cx="1309.7" cy="672.5" r="5.4"/><circle cx="1301.5" cy="669.5" r="5.4"/>
</g>
<g fill="#c7c7c7" stroke="#c7c7c7">
<circle cx="1301.5" cy="640.2" r="5.4"/><circle cx="1298.0" cy="627.3" r="5.4"/>
</g>
<g fill="#9467bd" stroke="#9467bd">
<circle cx="1299.1" cy="685.9" r="5.4"/><circle cx="1298.7" cy="685.5" r="5.4"/><circle cx="1298.4" cy="685.5" r="5.4"/><circle cx="1265.2" cy="690.0" r="5.4"/><circle cx="1281.6" cy="701.2" r="5.4"/>
</g>
<g fill="#ff7f0e" stroke="#ff7f0e">
<circle cx="1290.6" cy="706.0" r="5.4"/><circle cx="1284.1" cy="693.9" r="5.4"/><circle cx="1292.7" cy="704.9" r="5.4"/><circle cx="1291.7" cy="686.2" r="5.4"/><circle cx="1278.8" cy="695.8" r="5.4"/><circle cx="1278.7" cy="685.8" r="5.4"/><circle cx="1285.3" cy="691.4" r="5.4"/><circle cx="1289.8" cy="694.6" r="5.4"/><circle cx="1276.8" cy="687.9" r="5.4"/><circle cx="1275.4" cy="700.9" r="5.4"/><circle cx="1289.6" cy="703.9" r="5.4"/><circle cx="1288.0" cy="681.6" r="5.4"/><circle cx="1285.7" cy="686.6" r="5.4"/><circle cx="1287.4" cy="691.6" r="5.4"/><circle cx="1280.6" cy="678.9" r="5.4"/><circle cx="1280.3" cy="689.0" r="5.4"/><circle cx="1276.5" cy="676.4" r="5.4"/><circle cx="1286.5" cy="688.7" r="5.4"/><circle cx="1292.1" cy="689.4" r="5.4"/><circle cx="1277.4" cy="678.8" r="5.4"/><circle cx="1283.0" cy="686.2" r="5.4"/><circle cx="1280.6" cy="684.0" r="5.4"/><circle cx="1287.1" cy="698.8" r="5.4"/><circle cx="1291.1" cy="691.4" r="5.4"/><circle cx="1282.0" cy="690.6" r="5.4"/><circle cx="1278.4" cy="692.0" r="5.4"/><circle cx="1295.1" cy="704.2" r="5.4"/><circle cx="1282.1" cy="681.5" r="5.4"/><circle cx="1290.6" cy="697.2" r="5.4"/><circle cx="1277.8" cy="703.7" r="5.4"/><circle cx="1277.4" cy="699.7" r="5.4"/><circle cx="1294.5" cy="701.9" r="5.4"/><circle cx="1285.3" cy="695.8" r="5.4"/><circle cx="1284.4" cy="681.2" r="5.4"/><circle cx="1283.6" cy="688.9" r="5.4"/><circle cx="1285.2" cy="700.9" r="5.4"/><circle cx="1288.4" cy="685.1" r="5.4"/><circle cx="1280.4" cy="698.4" r="5.4"/><circle cx="1280.9" cy="694.1" r="5.4"/><circle cx="1274.0" cy="701.0" r="5.4"/><circle cx="1286.8" cy="683.7" r="5.4"/><circle cx="1284.1" cy="699.7" r="5.4"/><circle cx="1294.5" cy="706.9" r="5.4"/><circle cx="1279.1" cy="680.9" r="5.4"/><circle cx="1278.2" cy="684.0" r="5.4"/><circle cx="1278.7" cy="701.5" r="5.4"/><circle cx="1275.2" cy="704.2" r="5.4"/><circle cx="1288.8" cy="695.5" r="5.4"/><circle cx="1277.9" cy="692.9" r="5.4"/><circle cx="1289.8" cy="688.2" r="5.4"/><circle cx="1292.2" cy="709.4" r="5.4"/><circle cx="1276.3" cy="680.1" r="5.4"/><circle cx="1277.2" cy="672.5" r="5.4"/><circle cx="1283.7" cy="683.0" r="5.4"/><circle cx="1289.4" cy="698.2" r="5.4"/><circle cx="1290.4" cy="701.6" r="5.4"/><circle cx="1281.7" cy="701.0" r="5.4"/><circle cx="1288.5" cy="701.9" r="5.4"/><circle cx="1290.4" cy="683.8" r="5.4"/><circle cx="1281.7" cy="696.3" r="5.4"/><circle cx="1293.3" cy="699.7" r="5.4"/><circle cx="1279.0" cy="674.8" r="5.4"/><circle cx="1286.7" cy="693.6" r="5.4"/>
</g>
<g fill="#ffbb78" stroke="#ffbb78">
<circle cx="1286.8" cy="679.5" r="5.4"/><circle cx="1290.9" cy="684.2" r="5.4"/>
</g>
<g fill="#ff7f0e" stroke="#ff7f0e">
<circle cx="1292.7" cy="684.8" r="5.4"/>
</g>
<g fill="#1f77b4" stroke="#1f77b4">
<circle cx="1330.1" cy="678.9" r="5.4"/><circle cx="1332.6" cy="689.3" r="5.4"/><circle cx="1335.7" cy="684.5" r="5.4"/><circle cx="1329.6" cy="685.6" r="5.4"/><circle cx="1326.7" cy="683.6" r="5.4"/><circle cx="1328.8" cy="681.1" r="5.4"/><circle cx="1325.2" cy="680.9" r="5.4"/><circle cx="1321.9" cy="681.8" r="5.4"/><circle cx="1334.0" cy="684.4" r="5.4"/><circle cx="1325.1" cy="683.9" r="5.4"/><circle cx="1326.0" cy="687.2" r="5.4"/><circle cx="1332.5" cy="680.4" r="5.4"/><circle cx="1327.7" cy="679.1" r="5.4"/><circle cx="1319.5" cy="686.3" r="5.4"/><circle cx="1321.8" cy="684.1" r="5.4"/><circle cx="1322.1" cy="686.1" r="5.4"/><circle cx="1321.1" cy="689.0" r="5.4"/><circle cx="1331.5" cy="686.7" r="5.4"/><circle cx="1330.2" cy="684.5" r="5.4"/><circle cx="1334.1" cy="686.5" r="5.4"/>
</g>
<g fill="#e377c2" stroke="#e377c2">
<circle cx="1210.3" cy="661.2" r="5.4"/>
</g>
<g fill="#ffbb78" stroke="#ffbb78">
<circle cx="1199.2" cy="686.0" r="5.4"/><circle cx="1204.8" cy="684.7" r="5.4"/><circle cx="1162.0" cy="696.4" r="5.4"/><circle cx="1166.2" cy="696.4" r="5.4"/><circle cx="1170.7" cy="696.4" r="5.4"/><circle cx="1174.4" cy="709.7" r="5.4"/><circle cx="1201.6" cy="714.7" r="5.4"/><circle cx="1207.3" cy="715.2" r="5.4"/><circle cx="1331.0" cy="756.7" r="5.4"/>
</g>
<g fill="#aec7e8" stroke="#aec7e8">
<circle cx="1337.0" cy="757.2" r="5.4"/>
</g>
<g fill="#f7b6d2" stroke="#f7b6d2">
<circle cx="1024.0" cy="729.3" r="5.4"/><circle cx="1029.2" cy="725.1" r="5.4"/><circle cx="1029.3" cy="725.6" r="5.4"/><circle cx="1035.9" cy="728.5" r="5.4"/>
</g>
<g fill="#9467bd" stroke="#9467bd">
<circle cx="1240.5" cy="715.9" r="5.4"/><circle cx="1266.4" cy="720.6" r="5.4"/><circle cx="1265.8" cy="720.1" r="5.4"/><circle cx="1257.3" cy="724.3" r="5.4"/><circle cx="1256.9" cy="723.3" r="5.4"/><circle cx="1286.2" cy="726.5" r="5.4"/><circle cx="1238.7" cy="727.3" r="5.4"/><circle cx="1245.7" cy="730.5" r="5.4"/><circle cx="1247.0" cy="729.1" r="5.4"/><circle cx="1246.5" cy="730.5" r="5.4"/><circle cx="1232.6" cy="731.7" r="5.4"/><circle cx="1225.1" cy="733.2" r="5.4"/><circle cx="1236.3" cy="737.9" r="5.4"/><circle cx="1240.0" cy="742.9" r="5.4"/><circle cx="1238.4" cy="741.6" r="5.4"/><circle cx="1242.1" cy="742.9" r="5.4"/><circle cx="1243.7" cy="744.8" r="5.4"/><circle cx="1218.5" cy="748.3" r="5.4"/><circle cx="1220.2" cy="746.9" r="5.4"/><circle cx="1217.6" cy="748.8" r="5.4"/><circle cx="1217.7" cy="759.2" r="5.4"/><circle cx="1209.0" cy="766.4" r="5.4"/><circle cx="1208.3" cy="767.2" r="5.4"/><circle cx="1215.2" cy="777.0" r="5.4"/><circle cx="1214.9" cy="777.8" r="5.4"/><circle cx="1233.0" cy="800.3" r="5.4"/>
</g>
<g fill="#1f77b4" stroke="#1f77b4">
<circle cx="1186.8" cy="758.2" r="5.4"/><circle cx="1185.6" cy="758.1" r="5.4"/><circle cx="1189.3" cy="757.7" r="5.4"/><circle cx="1190.3" cy="758.1" r="5.4"/><circle cx="1167.0" cy="804.7" r="5.4"/><circle cx="1179.1" cy="816.6" r="5.4"/>
</g>
<g fill="#c49c94" stroke="#c49c94">
<circle cx="1300.1" cy="775.5" r="5.4"/><circle cx="1263.7" cy="829.9" r="5.4"/><circle cx="1249.1" cy="837.6" r="5.4"/><circle cx="1250.4" cy="842.3" r="5.4"/><circle cx="1269.7" cy="855.4" r="5.4"/><circle cx="1287.0" cy="866.6" r="5.4"/>
</g>
<g fill="#ff7f0e" stroke="#ff7f0e">
<circle cx="1301.8" cy="778.7" r="5.4"/><circle cx="1300.2" cy="776.6" r="5.4"/><circle cx="1302.7" cy="778.5" r="5.4"/><circle cx="1323.1" cy="772.3" r="5.4"/>
</g>
<g fill="#2ca02c" stroke="#2ca02c">
<circle cx="1253.6" cy="867.8" r="5.4"/><circle cx="1254.5" cy="866.3" r="5.4"/><circle cx="1253.2" cy="868.3" r="5.4"/><circle cx="1255.6" cy="870.8" r="5.4"/><circle cx="1255.5" cy="870.6" r="5.4"/><circle cx="1281.6" cy="874.5" r="5.4"/><circle cx="1292.7" cy="884.0" r="5.4"/><circle cx="1280.8" cy="880.2" r="5.4"/><circle cx="1294.8" cy="878.2" r="5.4"/><circle cx="1283.9" cy="877.8" r="5.4"/><circle cx="1285.2" cy="887.2" r="5.4"/><circle cx="1291.1" cy="881.0" r="5.4"/><circle cx="1280.1" cy="884.4" r="5.4"/><circle cx="1295.5" cy="881.2" r="5.4"/><circle cx="1285.8" cy="880.7" r="5.4"/><circle cx="1284.1" cy="873.5" r="5.4"/><circle cx="1287.1" cy="874.0" r="5.4"/><circle cx="1285.6" cy="878.0" r="5.4"/><circle cx="1287.9" cy="881.1" r="5.4"/><circle cx="1289.5" cy="883.9" r="5.4"/><circle cx="1294.9" cy="875.1" r="5.4"/><circle cx="1281.8" cy="885.4" r="5.4"/><circle cx="1290.7" cy="875.1" r="5.4"/><circle cx="1286.3" cy="884.4" r="5.4"/><circle cx="1288.8" cy="886.8" r="5.4"/><circle cx="1294.9" cy="885.4" r="5.4"/><circle cx="1291.4" cy="886.4" r="5.4"/><circle cx="1282.4" cy="882.7" r="5.4"/><circle cx="1290.9" cy="876.0" r="5.4"/><circle cx="1293.2" cy="862.9" r="5.4"/><circle cx="1291.9" cy="891.3" r="5.4"/><circle cx="1275.8" cy="882.6" r="5.4"/><circle cx="1284.5" cy="870.3" r="5.4"/>
</g>
</g>
<g><!-- Cebpe control -->
<g fill="#7f7f7f" stroke="#7f7f7f">
<circle cx="372.4" cy="1046.1" r="5.4"/><circle cx="383.3" cy="1062.7" r="5.4"/>
</g>
<g fill="#ffbb78" stroke="#ffbb78">
<circle cx="375.5" cy="1137.4" r="5.4"/>
</g>
<g fill="#ff7f0e" stroke="#ff7f0e">
<circle cx="387.4" cy="1160.2" r="5.4"/>
</g>
<g fill="#c5b0d5" stroke="#c5b0d5">
<circle cx="392.3" cy="1152.2" r="5.4"/><circle cx="391.8" cy="1133.7" r="5.4"/><circle cx="394.9" cy="1142.7" r="5.4"/><circle cx="392.4" cy="1132.1" r="5.4"/><circle cx="384.3" cy="1134.9" r="5.4"/><circle cx="386.3" cy="1137.0" r="5.4"/><circle cx="391.6" cy="1159.9" r="5.4"/><circle cx="405.1" cy="1131.9" r="5.4"/><circle cx="395.4" cy="1146.5" r="5.4"/><circle cx="380.8" cy="1132.1" r="5.4"/><circle cx="388.4" cy="1123.4" r="5.4"/><circle cx="393.3" cy="1127.4" r="5.4"/><circle cx="393.2" cy="1129.7" r="5.4"/><circle cx="392.2" cy="1147.0" r="5.4"/><circle cx="387.2" cy="1142.4" r="5.4"/><circle cx="382.0" cy="1139.1" r="5.4"/><circle cx="390.5" cy="1129.0" r="5.4"/><circle cx="393.3" cy="1157.9" r="5.4"/><circle cx="382.3" cy="1129.0" r="5.4"/><circle cx="399.1" cy="1142.4" r="5.4"/><circle cx="384.2" cy="1143.0" r="5.4"/><circle cx="386.0" cy="1116.5" r="5.4"/><circle cx="405.8" cy="1135.2" r="5.4"/><circle cx="408.2" cy="1127.5" r="5.4"/><circle cx="393.4" cy="1124.1" r="5.4"/><circle cx="402.4" cy="1128.5" r="5.4"/><circle cx="386.6" cy="1121.1" r="5.4"/><circle cx="392.8" cy="1137.8" r="5.4"/><circle cx="396.2" cy="1131.7" r="5.4"/><circle cx="396.6" cy="1129.2" r="5.4"/><circle cx="398.0" cy="1131.5" r="5.4"/><circle cx="385.9" cy="1132.6" r="5.4"/><circle cx="387.3" cy="1119.6" r="5.4"/><circle cx="381.1" cy="1137.5" r="5.4"/><circle cx="383.2" cy="1136.4" r="5.4"/><circle cx="399.7" cy="1124.4" r="5.4"/><circle cx="390.2" cy="1136.8" r="5.4"/><circle cx="382.0" cy="1123.5" r="5.4"/><circle cx="397.9" cy="1127.4" r="5.4"/><circle cx="378.6" cy="1129.5" r="5.4"/><circle cx="389.8" cy="1151.8" r="5.4"/><circle cx="393.5" cy="1159.8" r="5.4"/><circle cx="399.6" cy="1134.3" r="5.4"/><circle cx="382.0" cy="1134.5" r="5.4"/><circle cx="380.1" cy="1126.7" r="5.4"/><circle cx="389.6" cy="1130.9" r="5.4"/><circle cx="385.6" cy="1129.7" r="5.4"/><circle cx="390.9" cy="1149.5" r="5.4"/><circle cx="406.0" cy="1129.7" r="5.4"/><circle cx="383.3" cy="1126.0" r="5.4"/><circle cx="404.9" cy="1126.1" r="5.4"/><circle cx="396.9" cy="1140.1" r="5.4"/><circle cx="403.6" cy="1133.9" r="5.4"/><circle cx="402.6" cy="1124.0" r="5.4"/><circle cx="397.2" cy="1144.0" r="5.4"/><circle cx="382.9" cy="1118.8" r="5.4"/><circle cx="391.1" cy="1155.1" r="5.4"/><circle cx="389.6" cy="1121.5" r="5.4"/><circle cx="397.8" cy="1137.3" r="5.4"/><circle cx="394.4" cy="1149.6" r="5.4"/><circle cx="390.2" cy="1127.1" r="5.4"/><circle cx="394.8" cy="1126.4" r="5.4"/><circle cx="386.0" cy="1119.1" r="5.4"/><circle cx="392.2" cy="1143.0" r="5.4"/><circle cx="394.8" cy="1137.0" r="5.4"/><circle cx="391.1" cy="1140.1" r="5.4"/><circle cx="387.5" cy="1144.5" r="5.4"/><circle cx="383.4" cy="1132.1" r="5.4"/><circle cx="384.6" cy="1138.9" r="5.4"/><circle cx="379.9" cy="1121.2" r="5.4"/><circle cx="390.6" cy="1124.2" r="5.4"/><circle cx="384.9" cy="1123.8" r="5.4"/><circle cx="392.1" cy="1121.6" r="5.4"/><circle cx="397.1" cy="1134.6" r="5.4"/><circle cx="394.9" cy="1145.6" r="5.4"/><circle cx="390.7" cy="1144.8" r="5.4"/><circle cx="394.2" cy="1135.0" r="5.4"/><circle cx="401.5" cy="1131.9" r="5.4"/><circle cx="400.2" cy="1129.1" r="5.4"/><circle cx="388.0" cy="1133.6" r="5.4"/><circle cx="394.1" cy="1140.2" r="5.4"/><circle cx="390.2" cy="1146.7" r="5.4"/><circle cx="396.4" cy="1123.9" r="5.4"/><circle cx="390.5" cy="1142.6" r="5.4"/><circle cx="406.8" cy="1131.2" r="5.4"/><circle cx="389.0" cy="1157.2" r="5.4"/><circle cx="400.8" cy="1125.9" r="5.4"/><circle cx="389.0" cy="1140.1" r="5.4"/><circle cx="389.0" cy="1128.6" r="5.4"/><circle cx="384.2" cy="1122.0" r="5.4"/><circle cx="387.0" cy="1126.1" r="5.4"/><circle cx="398.3" cy="1101.9" r="5.4"/><circle cx="415.7" cy="1121.9" r="5.4"/><circle cx="419.3" cy="1131.0" r="5.4"/><circle cx="427.5" cy="1133.8" r="5.4"/><circle cx="416.6" cy="1137.4" r="5.4"/><circle cx="414.7" cy="1138.3" r="5.4"/><circle cx="404.7" cy="1147.4" r="5.4"/><circle cx="377.8" cy="1145.6" r="5.4"/><circle cx="348.8" cy="1144.9" r="5.4"/><circle cx="385.6" cy="1166.6" r="5.4"/>
</g>
<g fill="#c7c7c7" stroke="#c7c7c7">
<circle cx="402.4" cy="1114.8" r="5.4"/><circle cx="415.1" cy="1100.3" r="5.4"/><circle cx="404.5" cy="1112.3" r="5.4"/><circle cx="414.5" cy="1105.0" r="5.4"/><circle cx="418.9" cy="1102.8" r="5.4"/><circle cx="406.2" cy="1108.0" r="5.4"/><circle cx="396.5" cy="1115.0" r="5.4"/><circle cx="409.1" cy="1115.5" r="5.4"/><circle cx="407.3" cy="1101.9" r="5.4"/><circle cx="400.1" cy="1112.7" r="5.4"/><circle cx="419.7" cy="1100.3" r="5.4"/><circle cx="414.0" cy="1114.4" r="5.4"/><circle cx="398.3" cy="1112.8" r="5.4"/><circle cx="406.9" cy="1113.3" r="5.4"/><circle cx="409.9" cy="1106.7" r="5.4"/><circle cx="412.2" cy="1108.1" r="5.4"/><circle cx="417.5" cy="1105.7" r="5.4"/><circle cx="415.2" cy="1107.2" r="5.4"/><circle cx="407.9" cy="1105.6" r="5.4"/><circle cx="405.2" cy="1105.0" r="5.4"/><circle cx="419.7" cy="1097.4" r="5.4"/><circle cx="406.3" cy="1100.2" r="5.4"/><circle cx="418.3" cy="1099.0" r="5.4"/><circle cx="403.1" cy="1104.6" r="5.4"/><circle cx="409.5" cy="1112.6" r="5.4"/><circle cx="405.2" cy="1114.5" r="5.4"/><circle cx="403.9" cy="1107.3" r="5.4"/><circle cx="412.3" cy="1105.3" r="5.4"/><circle cx="408.6" cy="1110.1" r="5.4"/><circle cx="406.1" cy="1117.0" r="5.4"/><circle cx="401.9" cy="1109.6" r="5.4"/><circle cx="410.7" cy="1110.2" r="5.4"/><circle cx="412.5" cy="1112.6" r="5.4"/><circle cx="413.8" cy="1110.7" r="5.4"/><circle cx="404.7" cy="1102.3" r="5.4"/><circle cx="411.7" cy="1115.9" r="5.4"/><circle cx="409.5" cy="1102.5" r="5.4"/><circle cx="399.3" cy="1115.1" r="5.4"/><circle cx="416.5" cy="1101.9" r="5.4"/><circle cx="405.7" cy="1109.6" r="5.4"/><circle cx="411.3" cy="1100.2" r="5.4"/><circle cx="413.0" cy="1101.8" r="5.4"/><circle cx="424.8" cy="1116.0" r="5.4"/>
</g>
<g fill="#ffbb78" stroke="#ffbb78">
<circle cx="402.9" cy="1154.3" r="5.4"/>
</g>
<g fill="#9467bd" stroke="#9467bd">
<circle cx="379.2" cy="1177.5" r="5.4"/>
</g>
<g fill="#ff7f0e" stroke="#ff7f0e">
<circle cx="372.4" cy="1163.4" r="5.4"/><circle cx="378.7" cy="1162.0" r="5.4"/><circle cx="376.9" cy="1162.6" r="5.4"/><circle cx="380.9" cy="1164.1" r="5.4"/><circle cx="379.2" cy="1158.4" r="5.4"/><circle cx="394.2" cy="1170.7" r="5.4"/><circle cx="393.7" cy="1171.2" r="5.4"/><circle cx="405.2" cy="1164.8" r="5.4"/><circle cx="412.0" cy="1157.9" r="5.4"/><circle cx="380.6" cy="1179.3" r="5.4"/><circle cx="395.1" cy="1191.7" r="5.4"/><circle cx="392.9" cy="1195.8" r="5.4"/><circle cx="407.4" cy="1203.5" r="5.4"/>
</g>
<g fill="#ff7f0e" stroke="#ff7f0e">
<circle cx="431.0" cy="1242.3" r="5.4"/><circle cx="424.1" cy="1255.1" r="5.4"/><circle cx="422.6" cy="1254.9" r="5.4"/><circle cx="423.9" cy="1257.2" r="5.4"/>
</g>
<g fill="#1f77b4" stroke="#1f77b4">
<circle cx="422.8" cy="1171.4" r="5.4"/><circle cx="423.3" cy="1171.6" r="5.4"/><circle cx="421.4" cy="1173.1" r="5.4"/>
</g>
<g fill="#aec7e8" stroke="#aec7e8">
<circle cx="437.0" cy="1242.8" r="5.4"/><circle cx="427.8" cy="1253.2" r="5.4"/>
</g>
<g fill="#9467bd" stroke="#9467bd">
<circle cx="437.0" cy="1242.8" r="5.4"/>
</g>
<g fill="#aec7e8" stroke="#aec7e8">
<circle cx="437.0" cy="1242.8" r="5.4"/>
</g>
<g fill="#ffbb78" stroke="#ffbb78">
<circle cx="305.3" cy="1171.0" r="5.4"/><circle cx="304.6" cy="1171.9" r="5.4"/><circle cx="307.3" cy="1176.0" r="5.4"/><circle cx="317.7" cy="1174.7" r="5.4"/><circle cx="265.8" cy="1181.4" r="5.4"/><circle cx="261.5" cy="1185.4" r="5.4"/><circle cx="249.7" cy="1196.2" r="5.4"/><circle cx="271.4" cy="1193.3" r="5.4"/><circle cx="287.3" cy="1189.1" r="5.4"/><circle cx="300.6" cy="1186.6" r="5.4"/><circle cx="322.2" cy="1192.8" r="5.4"/><circle cx="307.3" cy="1199.5" r="5.4"/><circle cx="286.8" cy="1213.6" r="5.4"/><circle cx="288.5" cy="1211.9" r="5.4"/><circle cx="285.5" cy="1213.5" r="5.4"/>
</g>
<g fill="#f7b6d2" stroke="#f7b6d2">
<circle cx="121.0" cy="1194.0" r="5.4"/><circle cx="129.2" cy="1203.9" r="5.4"/><circle cx="134.1" cy="1208.6" r="5.4"/>
</g>
<g fill="#c49c94" stroke="#c49c94">
<circle cx="402.3" cy="1263.8" r="5.4"/><circle cx="402.5" cy="1264.8" r="5.4"/><circle cx="402.8" cy="1268.0" r="5.4"/>
</g>
<g fill="#c49c94" stroke="#c49c94">
<circle cx="317.3" cy="1294.2" r="5.4"/><circle cx="360.9" cy="1299.3" r="5.4"/><circle cx="402.5" cy="1270.0" r="5.4"/><circle cx="348.3" cy="1331.5" r="5.4"/><circle cx="350.0" cy="1325.1" r="5.4"/><circle cx="353.3" cy="1336.7" r="5.4"/><circle cx="351.3" cy="1320.8" r="5.4"/><circle cx="345.9" cy="1330.0" r="5.4"/><circle cx="357.5" cy="1332.0" r="5.4"/><circle cx="353.2" cy="1321.9" r="5.4"/><circle cx="351.7" cy="1327.6" r="5.4"/><circle cx="351.6" cy="1332.3" r="5.4"/><circle cx="356.4" cy="1322.0" r="5.4"/><circle cx="353.0" cy="1328.7" r="5.4"/><circle cx="349.4" cy="1334.0" r="5.4"/><circle cx="357.4" cy="1337.1" r="5.4"/><circle cx="353.7" cy="1331.3" r="5.4"/><circle cx="350.5" cy="1337.6" r="5.4"/><circle cx="355.9" cy="1324.1" r="5.4"/><circle cx="356.1" cy="1329.6" r="5.4"/><circle cx="347.4" cy="1337.5" r="5.4"/><circle cx="352.6" cy="1339.4" r="5.4"/><circle cx="352.4" cy="1323.7" r="5.4"/><circle cx="353.5" cy="1327.6" r="5.4"/><circle cx="350.0" cy="1329.2" r="5.4"/><circle cx="347.0" cy="1335.5" r="5.4"/><circle cx="353.0" cy="1334.9" r="5.4"/><circle cx="347.4" cy="1326.4" r="5.4"/><circle cx="352.7" cy="1319.7" r="5.4"/><circle cx="355.4" cy="1335.0" r="5.4"/><circle cx="350.6" cy="1315.6" r="5.4"/><circle cx="344.7" cy="1339.3" r="5.4"/><circle cx="370.2" cy="1344.7" r="5.4"/><circle cx="370.2" cy="1343.9" r="5.4"/><circle cx="367.4" cy="1346.6" r="5.4"/><circle cx="382.8" cy="1345.7" r="5.4"/><circle cx="393.4" cy="1347.5" r="5.4"/><circle cx="375.7" cy="1354.8" r="5.4"/>
</g>
<g fill="#9467bd" stroke="#9467bd">
<circle cx="293.7" cy="1229.6" r="5.4"/><circle cx="341.2" cy="1198.7" r="5.4"/><circle cx="347.4" cy="1195.8" r="5.4"/><circle cx="340.5" cy="1213.1" r="5.4"/><circle cx="354.1" cy="1213.6" r="5.4"/><circle cx="366.7" cy="1208.1" r="5.4"/><circle cx="367.7" cy="1213.8" r="5.4"/><circle cx="338.7" cy="1220.5" r="5.4"/><circle cx="344.9" cy="1221.7" r="5.4"/><circle cx="342.4" cy="1229.2" r="5.4"/><circle cx="344.1" cy="1230.2" r="5.4"/><circle cx="341.1" cy="1228.5" r="5.4"/><circle cx="337.5" cy="1234.1" r="5.4"/><circle cx="335.5" cy="1240.8" r="5.4"/><circle cx="359.3" cy="1238.3" r="5.4"/><circle cx="310.3" cy="1248.5" r="5.4"/><circle cx="327.1" cy="1248.9" r="5.4"/><circle cx="327.7" cy="1248.3" r="5.4"/><circle cx="396.4" cy="1232.9" r="5.4"/><circle cx="399.8" cy="1237.3" r="5.4"/><circle cx="400.7" cy="1236.9" r="5.4"/><circle cx="391.9" cy="1242.8" r="5.4"/><circle cx="379.6" cy="1253.4" r="5.4"/><circle cx="389.0" cy="1253.4" r="5.4"/><circle cx="399.8" cy="1255.6" r="5.4"/><circle cx="316.0" cy="1262.6" r="5.4"/><circle cx="312.8" cy="1267.0" r="5.4"/><circle cx="323.9" cy="1271.2" r="5.4"/><circle cx="324.5" cy="1270.2" r="5.4"/><circle cx="319.7" cy="1276.2" r="5.4"/><circle cx="328.8" cy="1276.2" r="5.4"/><circle cx="358.0" cy="1272.0" r="5.4"/><circle cx="350.4" cy="1284.8" r="5.4"/><circle cx="337.0" cy="1287.8" r="5.4"/><circle cx="334.8" cy="1286.0" r="5.4"/><circle cx="335.6" cy="1286.3" r="5.4"/><circle cx="347.4" cy="1297.2" r="5.4"/><circle cx="347.3" cy="1298.7" r="5.4"/><circle cx="349.5" cy="1296.5" r="5.4"/>
</g>
<g fill="#1f77b4" stroke="#1f77b4">
<circle cx="269.5" cy="1278.6" r="5.4"/><circle cx="264.5" cy="1283.6" r="5.4"/><circle cx="265.3" cy="1283.6" r="5.4"/><circle cx="267.7" cy="1286.1" r="5.4"/><circle cx="268.6" cy="1285.5" r="5.4"/><circle cx="272.7" cy="1289.8" r="5.4"/><circle cx="280.6" cy="1288.5" r="5.4"/>
</g>
<g fill="#2ca02c" stroke="#2ca02c">
<circle cx="357.6" cy="1348.3" r="5.4"/><circle cx="353.1" cy="1349.8" r="5.4"/><circle cx="360.4" cy="1350.9" r="5.4"/><circle cx="353.1" cy="1348.0" r="5.4"/><circle cx="356.4" cy="1348.8" r="5.4"/><circle cx="356.2" cy="1350.0" r="5.4"/><circle cx="354.2" cy="1346.2" r="5.4"/><circle cx="350.3" cy="1351.1" r="5.4"/><circle cx="355.8" cy="1352.7" r="5.4"/><circle cx="340.4" cy="1359.3" r="5.4"/><circle cx="354.4" cy="1371.4" r="5.4"/><circle cx="399.8" cy="1392.1" r="5.4"/><circle cx="381.9" cy="1357.9" r="5.4"/><circle cx="394.3" cy="1380.3" r="5.4"/><circle cx="383.1" cy="1364.6" r="5.4"/><circle cx="388.8" cy="1365.4" r="5.4"/><circle cx="377.6" cy="1368.1" r="5.4"/><circle cx="385.1" cy="1361.8" r="5.4"/><circle cx="392.5" cy="1380.5" r="5.4"/><circle cx="381.1" cy="1372.8" r="5.4"/><circle cx="380.3" cy="1359.0" r="5.4"/><circle cx="380.6" cy="1365.6" r="5.4"/><circle cx="388.2" cy="1369.7" r="5.4"/><circle cx="393.7" cy="1377.4" r="5.4"/><circle cx="375.7" cy="1373.3" r="5.4"/><circle cx="374.5" cy="1368.2" r="5.4"/><circle cx="397.1" cy="1374.6" r="5.4"/><circle cx="379.1" cy="1356.5" r="5.4"/><circle cx="388.0" cy="1372.1" r="5.4"/><circle cx="372.9" cy="1372.8" r="5.4"/><circle cx="373.9" cy="1369.9" r="5.4"/><circle cx="394.4" cy="1376.2" r="5.4"/><circle cx="380.6" cy="1367.4" r="5.4"/><circle cx="392.0" cy="1365.0" r="5.4"/><circle cx="385.5" cy="1359.9" r="5.4"/><circle cx="397.9" cy="1371.0" r="5.4"/><circle cx="380.5" cy="1375.0" r="5.4"/><circle cx="377.2" cy="1371.0" r="5.4"/><circle cx="396.9" cy="1381.3" r="5.4"/><circle cx="388.4" cy="1360.5" r="5.4"/><circle cx="377.6" cy="1362.1" r="5.4"/><circle cx="380.5" cy="1369.9" r="5.4"/><circle cx="376.4" cy="1364.5" r="5.4"/><circle cx="387.7" cy="1367.7" r="5.4"/><circle cx="375.8" cy="1361.6" r="5.4"/><circle cx="391.3" cy="1370.9" r="5.4"/><circle cx="389.6" cy="1361.9" r="5.4"/><circle cx="395.6" cy="1377.5" r="5.4"/><circle cx="398.8" cy="1378.2" r="5.4"/><circle cx="386.5" cy="1364.5" r="5.4"/><circle cx="382.5" cy="1360.1" r="5.4"/><circle cx="390.2" cy="1372.1" r="5.4"/><circle cx="377.9" cy="1372.9" r="5.4"/><circle cx="382.5" cy="1369.5" r="5.4"/><circle cx="391.1" cy="1378.0" r="5.4"/><circle cx="386.7" cy="1370.0" r="5.4"/><circle cx="392.6" cy="1374.8" r="5.4"/><circle cx="383.7" cy="1367.3" r="5.4"/><circle cx="401.2" cy="1375.2" r="5.4"/><circle cx="391.0" cy="1366.8" r="5.4"/><circle cx="395.4" cy="1373.2" r="5.4"/><circle cx="384.3" cy="1372.2" r="5.4"/><circle cx="393.1" cy="1372.8" r="5.4"/><circle cx="387.1" cy="1362.6" r="5.4"/><circle cx="376.0" cy="1359.3" r="5.4"/><circle cx="381.4" cy="1362.3" r="5.4"/>
</g>
</g>
<g><!-- Unsorted myeloid -->
<g fill="#98df8a" stroke="#98df8a">
<circle cx="647.5" cy="1074.8" r="5.4"/><circle cx="653.0" cy="1074.8" r="5.4"/><circle cx="659.0" cy="1071.5" r="5.4"/><circle cx="670.7" cy="1067.4" r="5.4"/><circle cx="656.2" cy="1081.9" r="5.4"/><circle cx="663.4" cy="1089.3" r="5.4"/><circle cx="662.5" cy="1094.7" r="5.4"/><circle cx="662.6" cy="1094.1" r="5.4"/><circle cx="708.5" cy="1082.4" r="5.4"/><circle cx="720.0" cy="1084.3" r="5.4"/><circle cx="677.6" cy="1105.9" r="5.4"/><circle cx="693.2" cy="1104.8" r="5.4"/><circle cx="700.0" cy="1110.6" r="5.4"/><circle cx="659.0" cy="1133.0" r="5.4"/><circle cx="657.6" cy="1145.9" r="5.4"/><circle cx="656.7" cy="1144.5" r="5.4"/><circle cx="657.1" cy="1145.3" r="5.4"/><circle cx="680.3" cy="1143.9" r="5.4"/><circle cx="693.2" cy="1142.0" r="5.4"/><circle cx="700.0" cy="1147.2" r="5.4"/><circle cx="718.6" cy="1239.6" r="5.4"/>
</g>
<g fill="#98df8a" stroke="#98df8a">
<circle cx="738.3" cy="1057.6" r="5.4"/><circle cx="737.4" cy="1054.9" r="5.4"/><circle cx="733.5" cy="1057.4" r="5.4"/><circle cx="733.0" cy="1067.8" r="5.4"/><circle cx="733.2" cy="1052.0" r="5.4"/><circle cx="734.6" cy="1055.0" r="5.4"/><circle cx="740.3" cy="1066.2" r="5.4"/><circle cx="734.3" cy="1065.9" r="5.4"/><circle cx="744.0" cy="1061.0" r="5.4"/><circle cx="741.7" cy="1063.1" r="5.4"/><circle cx="735.5" cy="1063.1" r="5.4"/><circle cx="741.3" cy="1060.9" r="5.4"/><circle cx="738.1" cy="1066.1" r="5.4"/><circle cx="732.3" cy="1065.2" r="5.4"/><circle cx="736.8" cy="1052.1" r="5.4"/><circle cx="731.3" cy="1055.3" r="5.4"/><circle cx="735.8" cy="1058.3" r="5.4"/><circle cx="739.0" cy="1067.9" r="5.4"/><circle cx="731.9" cy="1061.2" r="5.4"/><circle cx="732.6" cy="1063.1" r="5.4"/><circle cx="739.1" cy="1062.6" r="5.4"/><circle cx="735.9" cy="1068.8" r="5.4"/><circle cx="737.1" cy="1061.1" r="5.4"/><circle cx="734.9" cy="1060.6" r="5.4"/><circle cx="720.0" cy="1084.5" r="5.4"/><circle cx="729.4" cy="1127.5" r="5.4"/><circle cx="727.7" cy="1128.3" r="5.4"/><circle cx="727.8" cy="1128.4" r="5.4"/><circle cx="744.6" cy="1099.1" r="5.4"/><circle cx="754.0" cy="1135.5" r="5.4"/>
</g>
<g fill="#ff9896" stroke="#ff9896">
<circle cx="652.1" cy="1139.8" r="5.4"/>
</g>
<g fill="#98df8a" stroke="#98df8a">
<circle cx="657.6" cy="1145.9" r="5.4"/>
</g>
<g fill="#ff7f0e" stroke="#ff7f0e">
<circle cx="679.5" cy="1146.1" r="5.4"/><circle cx="694.0" cy="1144.5" r="5.4"/><circle cx="709.0" cy="1150.2" r="5.4"/>
</g>
<g fill="#c5b0d5" stroke="#c5b0d5">
<circle cx="752.8" cy="1080.4" r="5.4"/><circle cx="754.0" cy="1080.2" r="5.4"/><circle cx="749.3" cy="1085.1" r="5.4"/>
</g>
<g fill="#e377c2" stroke="#e377c2">
<circle cx="743.4" cy="1101.5" r="5.4"/><circle cx="758.7" cy="1095.6" r="5.4"/><circle cx="770.4" cy="1100.3" r="5.4"/>
</g>
<g fill="#1f77b4" stroke="#1f77b4">
<circle cx="776.2" cy="1099.1" r="5.4"/>
</g>
<g fill="#7f7f7f" stroke="#7f7f7f">
<circle cx="807.3" cy="1057.5" r="5.4"/><circle cx="813.4" cy="1065.3" r="5.4"/><circle cx="805.2" cy="1071.6" r="5.4"/><circle cx="770.7" cy="1085.8" r="5.4"/><circle cx="790.1" cy="1076.1" r="5.4"/><circle cx="813.5" cy="1068.5" r="5.4"/><circle cx="799.3" cy="1050.6" r="5.4"/><circle cx="782.9" cy="1073.5" r="5.4"/><circle cx="802.9" cy="1052.8" r="5.4"/><circle cx="789.3" cy="1057.7" r="5.4"/><circle cx="795.4" cy="1047.2" r="5.4"/><circle cx="788.7" cy="1054.5" r="5.4"/><circle cx="772.0" cy="1075.7" r="5.4"/><circle cx="807.7" cy="1063.8" r="5.4"/><circle cx="783.2" cy="1081.5" r="5.4"/><circle cx="780.0" cy="1085.9" r="5.4"/><circle cx="805.7" cy="1058.7" r="5.4"/><circle cx="776.0" cy="1097.2" r="5.4"/><circle cx="782.5" cy="1093.3" r="5.4"/><circle cx="809.6" cy="1052.7" r="5.4"/><circle cx="789.7" cy="1081.8" r="5.4"/><circle cx="793.0" cy="1056.7" r="5.4"/><circle cx="805.2" cy="1053.4" r="5.4"/><circle cx="802.9" cy="1066.9" r="5.4"/><circle cx="801.4" cy="1069.7" r="5.4"/><circle cx="784.5" cy="1066.2" r="5.4"/><circle cx="797.5" cy="1075.0" r="5.4"/><circle cx="798.3" cy="1085.0" r="5.4"/><circle cx="803.2" cy="1076.4" r="5.4"/><circle cx="792.0" cy="1090.0" r="5.4"/><circle cx="789.8" cy="1087.9" r="5.4"/><circle cx="792.9" cy="1068.1" r="5.4"/><circle cx="795.6" cy="1085.2" r="5.4"/><circle cx="799.2" cy="1079.5" r="5.4"/><circle cx="808.2" cy="1066.2" r="5.4"/><circle cx="814.2" cy="1064.0" r="5.4"/><circle cx="800.4" cy="1087.9" r="5.4"/><circle cx="813.2" cy="1054.3" r="5.4"/><circle cx="794.1" cy="1093.2" r="5.4"/><circle cx="775.7" cy="1082.0" r="5.4"/><circle cx="788.4" cy="1071.7" r="5.4"/><circle cx="797.9" cy="1046.8" r="5.4"/><circle cx="771.4" cy="1086.8" r="5.4"/><circle cx="794.1" cy="1088.8" r="5.4"/><circle cx="795.3" cy="1091.8" r="5.4"/><circle cx="798.0" cy="1067.1" r="5.4"/><circle cx="791.6" cy="1073.2" r="5.4"/><circle cx="796.1" cy="1062.8" r="5.4"/><circle cx="817.0" cy="1059.3" r="5.4"/><circle cx="796.4" cy="1056.1" r="5.4"/><circle cx="766.7" cy="1094.9" r="5.4"/><circle cx="811.1" cy="1069.8" r="5.4"/><circle cx="785.9" cy="1081.7" r="5.4"/><circle cx="794.1" cy="1081.9" r="5.4"/><circle cx="819.6" cy="1059.7" r="5.4"/><circle cx="775.1" cy="1094.5" r="5.4"/><circle cx="761.1" cy="1094.4" r="5.4"/><circle cx="791.1" cy="1052.7" r="5.4"/><circle cx="788.6" cy="1091.6" r="5.4"/><circle cx="802.2" cy="1071.1" r="5.4"/><circle cx="784.7" cy="1090.1" r="5.4"/><circle cx="809.3" cy="1059.3" r="5.4"/><circle cx="786.4" cy="1093.8" r="5.4"/><circle cx="793.6" cy="1049.5" r="5.4"/><circle cx="777.6" cy="1079.3" r="5.4"/><circle cx="788.8" cy="1067.1" r="5.4"/><circle cx="797.7" cy="1072.3" r="5.4"/><circle cx="773.8" cy="1079.2" r="5.4"/><circle cx="790.6" cy="1063.1" r="5.4"/><circle cx="802.9" cy="1070.1" r="5.4"/><circle cx="796.3" cy="1050.7" r="5.4"/><circle cx="814.7" cy="1056.4" r="5.4"/><circle cx="798.5" cy="1052.7" r="5.4"/><circle cx="819.3" cy="1067.3" r="5.4"/><circle cx="785.8" cy="1088.4" r="5.4"/><circle cx="774.3" cy="1090.1" r="5.4"/><circle cx="777.8" cy="1082.3" r="5.4"/><circle cx="799.2" cy="1055.7" r="5.4"/><circle cx="779.5" cy="1100.9" r="5.4"/><circle cx="784.7" cy="1064.1" r="5.4"/><circle cx="788.6" cy="1060.1" r="5.4"/><circle cx="795.5" cy="1072.9" r="5.4"/><circle cx="791.0" cy="1060.5" r="5.4"/><circle cx="780.6" cy="1091.5" r="5.4"/><circle cx="800.9" cy="1080.7" r="5.4"/><circle cx="797.5" cy="1091.5" r="5.4"/><circle cx="789.1" cy="1095.0" r="5.4"/><circle cx="788.6" cy="1050.8" r="5.4"/><circle cx="775.8" cy="1090.2" r="5.4"/><circle cx="786.7" cy="1097.3" r="5.4"/><circle cx="780.8" cy="1097.4" r="5.4"/><circle cx="778.8" cy="1093.3" r="5.4"/><circle cx="800.0" cy="1062.4" r="5.4"/><circle cx="812.0" cy="1055.7" r="5.4"/><circle cx="801.2" cy="1058.9" r="5.4"/><circle cx="795.9" cy="1081.0" r="5.4"/><circle cx="784.4" cy="1083.9" r="5.4"/><circle cx="793.3" cy="1062.5" r="5.4"/><circle cx="804.1" cy="1087.3" r="5.4"/><circle cx="784.8" cy="1074.3" r="5.4"/><circle cx="780.8" cy="1072.0" r="5.4"/><circle cx="805.3" cy="1065.0" r="5.4"/><circle cx="761.4" cy="1091.5" r="5.4"/><circle cx="813.7" cy="1061.0" r="5.4"/><circle cx="791.0" cy="1085.9" r="5.4"/><circle cx="783.3" cy="1069.8" r="5.4"/><circle cx="815.6" cy="1066.0" r="5.4"/><circle cx="782.8" cy="1076.2" r="5.4"/><circle cx="794.5" cy="1053.5" r="5.4"/><circle cx="799.6" cy="1076.5" r="5.4"/><circle cx="807.5" cy="1069.0" r="5.4"/><circle cx="792.1" cy="1046.4" r="5.4"/><circle cx="770.1" cy="1092.0" r="5.4"/><circle cx="774.7" cy="1074.8" r="5.4"/><circle cx="794.6" cy="1060.3" r="5.4"/><circle cx="777.5" cy="1085.2" r="5.4"/><circle cx="778.0" cy="1072.0" r="5.4"/><circle cx="783.4" cy="1096.3" r="5.4"/><circle cx="772.3" cy="1080.8" r="5.4"/><circle cx="788.7" cy="1085.8" r="5.4"/><circle cx="801.3" cy="1085.1" r="5.4"/><circle cx="797.8" cy="1058.9" r="5.4"/><circle cx="795.5" cy="1078.6" r="5.4"/><circle cx="812.0" cy="1062.8" r="5.4"/><circle cx="795.5" cy="1068.3" r="5.4"/><circle cx="767.9" cy="1088.8" r="5.4"/><circle cx="793.8" cy="1074.8" r="5.4"/><circle cx="779.3" cy="1079.6" r="5.4"/><circle cx="804.5" cy="1063.6" r="5.4"/><circle cx="770.3" cy="1094.7" r="5.4"/><circle cx="765.2" cy="1090.7" r="5.4"/><circle cx="778.8" cy="1075.4" r="5.4"/><circle cx="790.1" cy="1065.8" r="5.4"/><circle cx="803.2" cy="1082.7" r="5.4"/><circle cx="785.1" cy="1070.0" r="5.4"/><circle cx="788.0" cy="1079.5" r="5.4"/><circle cx="784.3" cy="1078.5" r="5.4"/><circle cx="795.3" cy="1065.3" r="5.4"/><circle cx="789.4" cy="1070.0" r="5.4"/><circle cx="774.9" cy="1088.5" r="5.4"/><circle cx="796.9" cy="1087.1" r="5.4"/><circle cx="802.7" cy="1051.5" r="5.4"/><circle cx="820.7" cy="1061.8" r="5.4"/><circle cx="791.7" cy="1077.9" r="5.4"/><circle cx="772.1" cy="1084.3" r="5.4"/><circle cx="778.2" cy="1087.9" r="5.4"/><circle cx="803.1" cy="1057.4" r="5.4"/><circle cx="782.0" cy="1088.4" r="5.4"/><circle cx="817.3" cy="1063.6" r="5.4"/><circle cx="802.5" cy="1078.2" r="5.4"/><circle cx="836.3" cy="1064.9" r="5.4"/><circle cx="836.9" cy="1062.3" r="5.4"/><circle cx="834.7" cy="1067.5" r="5.4"/><circle cx="831.0" cy="1062.9" r="5.4"/><circle cx="832.2" cy="1065.9" r="5.4"/><circle cx="832.2" cy="1067.6" r="5.4"/><circle cx="829.3" cy="1065.9" r="5.4"/><circle cx="841.5" cy="1065.2" r="5.4"/><circle cx="834.3" cy="1062.4" r="5.4"/><circle cx="840.4" cy="1062.4" r="5.4"/><circle cx="844.4" cy="1065.4" r="5.4"/><circle cx="839.8" cy="1064.6" r="5.4"/><circle cx="773.0" cy="1049.9" r="5.4"/><circle cx="771.0" cy="1058.1" r="5.4"/><circle cx="775.1" cy="1064.0" r="5.4"/><circle cx="828.4" cy="1051.7" r="5.4"/><circle cx="746.4" cy="1086.2" r="5.4"/><circle cx="792.7" cy="1103.8" r="5.4"/>
</g>
<g fill="#c7c7c7" stroke="#c7c7c7">
<circle cx="814.3" cy="1044.1" r="5.4"/><circle cx="839.5" cy="1052.9" r="5.4"/><circle cx="866.5" cy="1092.1" r="5.4"/><circle cx="865.6" cy="1091.9" r="5.4"/><circle cx="872.3" cy="1085.1" r="5.4"/><circle cx="875.9" cy="1081.6" r="5.4"/><circle cx="881.7" cy="1088.6" r="5.4"/><circle cx="889.9" cy="1088.6" r="5.4"/><circle cx="881.7" cy="1096.8" r="5.4"/><circle cx="868.2" cy="1110.3" r="5.4"/><circle cx="847.1" cy="1113.2" r="5.4"/><circle cx="865.3" cy="1099.1" r="5.4"/><circle cx="865.2" cy="1099.4" r="5.4"/><circle cx="863.0" cy="1093.3" r="5.4"/><circle cx="871.2" cy="1095.6" r="5.4"/><circle cx="863.6" cy="1164.8" r="5.4"/><circle cx="868.8" cy="1088.6" r="5.4"/><circle cx="874.7" cy="1090.9" r="5.4"/>
</g>
<g fill="#e377c2" stroke="#e377c2">
<circle cx="782.1" cy="1142.6" r="5.4"/><circle cx="762.0" cy="1126.5" r="5.4"/><circle cx="765.3" cy="1128.3" r="5.4"/><circle cx="771.1" cy="1121.4" r="5.4"/><circle cx="780.5" cy="1128.3" r="5.4"/><circle cx="772.7" cy="1131.8" r="5.4"/><circle cx="764.3" cy="1121.5" r="5.4"/><circle cx="768.5" cy="1109.1" r="5.4"/><circle cx="778.9" cy="1145.4" r="5.4"/><circle cx="786.1" cy="1134.0" r="5.4"/><circle cx="771.3" cy="1129.6" r="5.4"/><circle cx="756.7" cy="1115.0" r="5.4"/><circle cx="772.6" cy="1147.0" r="5.4"/><circle cx="768.2" cy="1120.3" r="5.4"/><circle cx="758.5" cy="1113.2" r="5.4"/><circle cx="785.8" cy="1147.0" r="5.4"/><circle cx="769.8" cy="1124.4" r="5.4"/><circle cx="783.2" cy="1145.3" r="5.4"/><circle cx="767.1" cy="1117.8" r="5.4"/><circle cx="784.6" cy="1149.3" r="5.4"/><circle cx="771.1" cy="1110.9" r="5.4"/><circle cx="771.9" cy="1139.6" r="5.4"/><circle cx="764.4" cy="1140.0" r="5.4"/><circle cx="763.7" cy="1136.0" r="5.4"/><circle cx="768.4" cy="1128.0" r="5.4"/><circle cx="773.2" cy="1115.8" r="5.4"/><circle cx="783.2" cy="1134.8" r="5.4"/><circle cx="772.7" cy="1136.7" r="5.4"/><circle cx="780.0" cy="1136.0" r="5.4"/><circle cx="781.2" cy="1149.7" r="5.4"/><circle cx="761.9" cy="1134.7" r="5.4"/><circle cx="775.8" cy="1145.3" r="5.4"/><circle cx="763.8" cy="1111.1" r="5.4"/><circle cx="785.8" cy="1142.2" r="5.4"/><circle cx="765.8" cy="1123.4" r="5.4"/><circle cx="765.3" cy="1115.7" r="5.4"/><circle cx="779.5" cy="1134.9" r="5.4"/><circle cx="776.8" cy="1127.4" r="5.4"/><circle cx="776.3" cy="1133.7" r="5.4"/><circle cx="765.8" cy="1110.0" r="5.4"/><circle cx="778.5" cy="1140.1" r="5.4"/><circle cx="760.2" cy="1117.3" r="5.4"/><circle cx="763.1" cy="1131.5" r="5.4"/><circle cx="766.8" cy="1112.2" r="5.4"/><circle cx="767.5" cy="1130.5" r="5.4"/><circle cx="768.4" cy="1147.2" r="5.4"/><circle cx="781.4" cy="1130.9" r="5.4"/><circle cx="757.8" cy="1108.8" r="5.4"/><circle cx="756.2" cy="1111.1" r="5.4"/><circle cx="786.3" cy="1153.1" r="5.4"/><circle cx="775.0" cy="1139.4" r="5.4"/><circle cx="777.6" cy="1131.2" r="5.4"/><circle cx="769.0" cy="1114.4" r="5.4"/><circle cx="767.3" cy="1140.8" r="5.4"/><circle cx="765.1" cy="1133.2" r="5.4"/><circle cx="777.0" cy="1149.1" r="5.4"/><circle cx="786.0" cy="1140.3" r="5.4"/><circle cx="769.4" cy="1137.4" r="5.4"/><circle cx="760.8" cy="1108.3" r="5.4"/><circle cx="773.2" cy="1111.5" r="5.4"/><circle cx="766.9" cy="1137.2" r="5.4"/><circle cx="772.3" cy="1127.2" r="5.4"/><circle cx="763.1" cy="1117.3" r="5.4"/><circle cx="777.1" cy="1136.9" r="5.4"/><circle cx="778.5" cy="1142.1" r="5.4"/><circle cx="774.0" cy="1144.3" r="5.4"/><circle cx="775.8" cy="1152.3" r="5.4"/><circle cx="778.8" cy="1153.4" r="5.4"/><circle cx="760.4" cy="1131.3" r="5.4"/><circle cx="761.6" cy="1114.8" r="5.4"/><circle cx="771.5" cy="1107.8" r="5.4"/><circle cx="767.1" cy="1143.6" r="5.4"/><circle cx="769.2" cy="1118.0" r="5.4"/><circle cx="782.2" cy="1140.3" r="5.4"/><circle cx="784.7" cy="1136.3" r="5.4"/><circle cx="772.4" cy="1134.2" r="5.4"/><circle cx="763.8" cy="1123.7" r="5.4"/><circle cx="771.2" cy="1142.0" r="5.4"/><circle cx="785.2" cy="1130.3" r="5.4"/><circle cx="768.2" cy="1133.6" r="5.4"/><circle cx="727.6" cy="1117.3" r="5.4"/><circle cx="750.5" cy="1120.8" r="5.4"/><circle cx="754.0" cy="1135.5" r="5.4"/><circle cx="748.7" cy="1147.0" r="5.4"/><circle cx="775.1" cy="1170.0" r="5.4"/><circle cx="793.8" cy="1155.4" r="5.4"/>
</g>
<g fill="#7f7f7f" stroke="#7f7f7f">
<circle cx="775.1" cy="1141.3" r="5.4"/><circle cx="774.3" cy="1142.4" r="5.4"/>
</g>
<g fill="#ffbb78" stroke="#ffbb78">
<circle cx="755.2" cy="1170.0" r="5.4"/><circle cx="757.5" cy="1175.3" r="5.4"/><circle cx="763.4" cy="1181.2" r="5.4"/><circle cx="836.0" cy="1167.7" r="5.4"/><circle cx="748.1" cy="1208.1" r="5.4"/>
</g>
<g fill="#ffbb78" stroke="#ffbb78">
<circle cx="693.2" cy="1185.8" r="5.4"/><circle cx="699.5" cy="1194.5" r="5.4"/><circle cx="710.4" cy="1209.0" r="5.4"/><circle cx="748.1" cy="1209.6" r="5.4"/><circle cx="669.4" cy="1206.8" r="5.4"/><circle cx="674.8" cy="1208.8" r="5.4"/><circle cx="672.1" cy="1213.7" r="5.4"/>
</g>
<g fill="#9467bd" stroke="#9467bd">
<circle cx="678.1" cy="1213.1" r="5.4"/><circle cx="671.3" cy="1216.4" r="5.4"/>
</g>
<g fill="#9467bd" stroke="#9467bd">
<circle cx="789.1" cy="1188.2" r="5.4"/>
</g>
<g fill="#ff7f0e" stroke="#ff7f0e">
<circle cx="798.6" cy="1184.2" r="5.4"/><circle cx="796.7" cy="1186.3" r="5.4"/><circle cx="797.2" cy="1166.7" r="5.4"/><circle cx="799.7" cy="1163.4" r="5.4"/><circle cx="795.2" cy="1184.7" r="5.4"/><circle cx="791.5" cy="1165.7" r="5.4"/><circle cx="802.9" cy="1166.1" r="5.4"/><circle cx="784.7" cy="1166.9" r="5.4"/><circle cx="803.6" cy="1161.3" r="5.4"/><circle cx="808.4" cy="1163.6" r="5.4"/><circle cx="800.8" cy="1166.1" r="5.4"/><circle cx="814.8" cy="1171.7" r="5.4"/><circle cx="813.7" cy="1174.0" r="5.4"/><circle cx="803.4" cy="1186.4" r="5.4"/><circle cx="818.7" cy="1160.4" r="5.4"/><circle cx="792.8" cy="1185.0" r="5.4"/><circle cx="803.4" cy="1182.1" r="5.4"/><circle cx="801.3" cy="1163.1" r="5.4"/><circle cx="810.1" cy="1163.3" r="5.4"/><circle cx="792.8" cy="1173.5" r="5.4"/><circle cx="802.6" cy="1171.7" r="5.4"/><circle cx="811.6" cy="1165.3" r="5.4"/><circle cx="811.2" cy="1183.9" r="5.4"/><circle cx="799.7" cy="1176.1" r="5.4"/><circle cx="801.3" cy="1160.9" r="5.4"/><circle cx="787.0" cy="1164.0" r="5.4"/><circle cx="800.6" cy="1171.0" r="5.4"/><circle cx="812.9" cy="1176.0" r="5.4"/><circle cx="816.0" cy="1160.8" r="5.4"/><circle cx="800.8" cy="1186.6" r="5.4"/><circle cx="793.3" cy="1167.8" r="5.4"/><circle cx="796.4" cy="1174.3" r="5.4"/><circle cx="804.9" cy="1183.9" r="5.4"/><circle cx="790.9" cy="1187.4" r="5.4"/><circle cx="807.3" cy="1186.3" r="5.4"/><circle cx="808.0" cy="1168.3" r="5.4"/><circle cx="789.1" cy="1161.6" r="5.4"/><circle cx="788.2" cy="1182.2" r="5.4"/><circle cx="794.8" cy="1166.0" r="5.4"/><circle cx="792.1" cy="1162.8" r="5.4"/><circle cx="789.9" cy="1183.4" r="5.4"/><circle cx="789.8" cy="1173.0" r="5.4"/><circle cx="816.8" cy="1173.7" r="5.4"/><circle cx="808.7" cy="1176.2" r="5.4"/><circle cx="819.0" cy="1166.0" r="5.4"/><circle cx="806.2" cy="1165.5" r="5.4"/><circle cx="787.7" cy="1168.8" r="5.4"/><circle cx="814.0" cy="1168.2" r="5.4"/><circle cx="794.7" cy="1175.9" r="5.4"/><circle cx="817.1" cy="1163.3" r="5.4"/><circle cx="799.7" cy="1168.1" r="5.4"/><circle cx="795.9" cy="1178.4" r="5.4"/><circle cx="792.0" cy="1171.3" r="5.4"/><circle cx="806.7" cy="1171.6" r="5.4"/><circle cx="796.9" cy="1176.0" r="5.4"/><circle cx="797.6" cy="1160.8" r="5.4"/><circle cx="795.1" cy="1182.3" r="5.4"/><circle cx="802.1" cy="1188.6" r="5.4"/><circle cx="816.4" cy="1169.1" r="5.4"/><circle cx="812.4" cy="1171.2" r="5.4"/><circle cx="787.5" cy="1176.6" r="5.4"/><circle cx="805.4" cy="1174.3" r="5.4"/><circle cx="789.9" cy="1168.3" r="5.4"/><circle cx="802.9" cy="1175.6" r="5.4"/><circle cx="799.1" cy="1179.0" r="5.4"/><circle cx="809.9" cy="1187.3" r="5.4"/><circle cx="798.7" cy="1189.1" r="5.4"/><circle cx="814.9" cy="1166.2" r="5.4"/><circle cx="794.2" cy="1170.5" r="5.4"/><circle cx="823.8" cy="1166.5" r="5.4"/><circle cx="804.1" cy="1189.1" r="5.4"/><circle cx="826.9" cy="1165.2" r="5.4"/><circle cx="826.1" cy="1163.6" r="5.4"/><circle cx="805.7" cy="1164.2" r="5.4"/><circle cx="809.1" cy="1170.5" r="5.4"/><circle cx="807.2" cy="1181.4" r="5.4"/><circle cx="791.7" cy="1182.5" r="5.4"/><circle cx="797.9" cy="1171.3" r="5.4"/><circle cx="809.3" cy="1166.5" r="5.4"/><circle cx="795.4" cy="1157.9" r="5.4"/><circle cx="821.2" cy="1171.0" r="5.4"/><circle cx="789.3" cy="1165.9" r="5.4"/><circle cx="793.3" cy="1178.2" r="5.4"/><circle cx="802.2" cy="1179.0" r="5.4"/><circle cx="790.5" cy="1179.1" r="5.4"/><circle cx="808.3" cy="1178.4" r="5.4"/><circle cx="819.3" cy="1171.6" r="5.4"/><circle cx="821.0" cy="1161.3" r="5.4"/><circle cx="799.9" cy="1181.1" r="5.4"/><circle cx="791.3" cy="1160.7" r="5.4"/><circle cx="805.4" cy="1169.0" r="5.4"/><circle cx="810.2" cy="1178.9" r="5.4"/><circle cx="798.8" cy="1173.0" r="5.4"/><circle cx="791.9" cy="1176.8" r="5.4"/><circle cx="796.8" cy="1188.7" r="5.4"/><circle cx="794.6" cy="1187.1" r="5.4"/><circle cx="795.0" cy="1160.6" r="5.4"/><circle cx="802.6" cy="1183.9" r="5.4"/><circle cx="792.2" cy="1157.8" r="5.4"/><circle cx="798.9" cy="1157.4" r="5.4"/><circle cx="812.1" cy="1181.1" r="5.4"/><circle cx="806.9" cy="1176.1" r="5.4"/><circle cx="822.9" cy="1163.5" r="5.4"/><circle cx="809.2" cy="1181.3" r="5.4"/><circle cx="805.0" cy="1178.9" r="5.4"/><circle cx="806.5" cy="1161.4" r="5.4"/><circle cx="796.6" cy="1168.7" r="5.4"/><circle cx="807.3" cy="1174.1" r="5.4"/><circle cx="796.0" cy="1162.9" r="5.4"/><circle cx="807.1" cy="1183.9" r="5.4"/><circle cx="826.5" cy="1168.1" r="5.4"/><circle cx="801.8" cy="1173.6" r="5.4"/><circle cx="790.7" cy="1163.0" r="5.4"/><circle cx="788.5" cy="1171.6" r="5.4"/><circle cx="798.2" cy="1181.3" r="5.4"/><circle cx="813.2" cy="1178.3" r="5.4"/><circle cx="824.5" cy="1160.5" r="5.4"/><circle cx="822.5" cy="1169.0" r="5.4"/><circle cx="819.4" cy="1168.7" r="5.4"/><circle cx="811.1" cy="1174.7" r="5.4"/><circle cx="813.6" cy="1164.0" r="5.4"/><circle cx="821.2" cy="1165.3" r="5.4"/><circle cx="819.1" cy="1164.2" r="5.4"/><circle cx="811.7" cy="1169.5" r="5.4"/><circle cx="801.2" cy="1168.5" r="5.4"/><circle cx="777.4" cy="1174.1" r="5.4"/><circle cx="766.9" cy="1181.2" r="5.4"/><circle cx="778.0" cy="1187.0" r="5.4"/><circle cx="829.0" cy="1178.8" r="5.4"/><circle cx="837.2" cy="1180.0" r="5.4"/><circle cx="838.4" cy="1189.4" r="5.4"/><circle cx="841.9" cy="1192.9" r="5.4"/><circle cx="817.3" cy="1182.3" r="5.4"/><circle cx="817.3" cy="1188.2" r="5.4"/>
</g>
<g fill="#ffbb78" stroke="#ffbb78">
<circle cx="789.1" cy="1162.4" r="5.4"/>
</g>
<g fill="#c5b0d5" stroke="#c5b0d5">
<circle cx="802.8" cy="1104.7" r="5.4"/><circle cx="803.4" cy="1146.2" r="5.4"/><circle cx="822.8" cy="1145.8" r="5.4"/><circle cx="813.1" cy="1111.1" r="5.4"/><circle cx="841.8" cy="1122.8" r="5.4"/><circle cx="809.6" cy="1136.4" r="5.4"/><circle cx="800.8" cy="1109.1" r="5.4"/><circle cx="854.2" cy="1089.7" r="5.4"/><circle cx="825.8" cy="1132.5" r="5.4"/><circle cx="807.0" cy="1123.8" r="5.4"/><circle cx="817.7" cy="1092.3" r="5.4"/><circle cx="807.1" cy="1137.0" r="5.4"/><circle cx="811.0" cy="1132.0" r="5.4"/><circle cx="821.1" cy="1147.7" r="5.4"/><circle cx="820.0" cy="1088.9" r="5.4"/><circle cx="825.2" cy="1101.9" r="5.4"/><circle cx="806.9" cy="1133.4" r="5.4"/><circle cx="843.1" cy="1096.2" r="5.4"/><circle cx="837.7" cy="1129.6" r="5.4"/><circle cx="844.8" cy="1076.4" r="5.4"/><circle cx="835.6" cy="1105.1" r="5.4"/><circle cx="805.3" cy="1131.0" r="5.4"/><circle cx="810.4" cy="1113.7" r="5.4"/><circle cx="801.9" cy="1115.4" r="5.4"/><circle cx="786.1" cy="1119.5" r="5.4"/><circle cx="825.9" cy="1146.4" r="5.4"/><circle cx="839.8" cy="1104.9" r="5.4"/><circle cx="799.7" cy="1127.9" r="5.4"/><circle cx="808.7" cy="1111.1" r="5.4"/><circle cx="816.5" cy="1086.6" r="5.4"/><circle cx="801.7" cy="1138.1" r="5.4"/><circle cx="843.1" cy="1126.2" r="5.4"/><circle cx="817.6" cy="1102.1" r="5.4"/><circle cx="814.1" cy="1119.3" r="5.4"/><circle cx="859.3" cy="1082.0" r="5.4"/><circle cx="803.6" cy="1108.2" r="5.4"/><circle cx="848.0" cy="1094.9" r="5.4"/><circle cx="821.8" cy="1089.9" r="5.4"/><circle cx="796.6" cy="1140.0" r="5.4"/><circle cx="857.2" cy="1079.0" r="5.4"/><circle cx="818.4" cy="1146.0" r="5.4"/><circle cx="794.5" cy="1110.1" r="5.4"/><circle cx="828.8" cy="1123.1" r="5.4"/><circle cx="813.4" cy="1080.5" r="5.4"/><circle cx="820.6" cy="1099.4" r="5.4"/><circle cx="840.3" cy="1090.1" r="5.4"/><circle cx="830.3" cy="1092.2" r="5.4"/><circle cx="784.4" cy="1117.4" r="5.4"/><circle cx="819.0" cy="1139.3" r="5.4"/><circle cx="821.7" cy="1124.0" r="5.4"/><circle cx="807.3" cy="1144.7" r="5.4"/><circle cx="838.3" cy="1087.0" r="5.4"/><circle cx="803.7" cy="1099.1" r="5.4"/><circle cx="800.2" cy="1119.7" r="5.4"/><circle cx="839.2" cy="1136.3" r="5.4"/><circle cx="833.3" cy="1082.9" r="5.4"/><circle cx="849.5" cy="1080.9" r="5.4"/><circle cx="835.6" cy="1079.8" r="5.4"/><circle cx="796.9" cy="1127.1" r="5.4"/><circle cx="817.4" cy="1148.6" r="5.4"/><circle cx="822.1" cy="1151.8" r="5.4"/><circle cx="801.4" cy="1145.4" r="5.4"/><circle cx="820.1" cy="1141.9" r="5.4"/><circle cx="850.8" cy="1088.2" r="5.4"/><circle cx="831.9" cy="1105.7" r="5.4"/><circle cx="786.1" cy="1114.4" r="5.4"/><circle cx="798.4" cy="1142.4" r="5.4"/><circle cx="827.2" cy="1105.9" r="5.4"/><circle cx="819.8" cy="1127.3" r="5.4"/><circle cx="805.1" cy="1099.4" r="5.4"/><circle cx="803.4" cy="1117.8" r="5.4"/><circle cx="825.2" cy="1120.7" r="5.4"/><circle cx="830.7" cy="1129.2" r="5.4"/><circle cx="809.0" cy="1104.5" r="5.4"/><circle cx="832.0" cy="1124.1" r="5.4"/><circle cx="838.3" cy="1123.2" r="5.4"/><circle cx="796.8" cy="1120.3" r="5.4"/><circle cx="812.7" cy="1139.3" r="5.4"/><circle cx="812.0" cy="1101.8" r="5.4"/><circle cx="858.5" cy="1089.9" r="5.4"/><circle cx="833.5" cy="1096.2" r="5.4"/><circle cx="795.7" cy="1104.4" r="5.4"/><circle cx="796.6" cy="1115.2" r="5.4"/><circle cx="848.3" cy="1098.2" r="5.4"/><circle cx="825.4" cy="1115.4" r="5.4"/><circle cx="810.4" cy="1116.4" r="5.4"/><circle cx="854.2" cy="1095.1" r="5.4"/><circle cx="835.1" cy="1116.3" r="5.4"/><circle cx="791.1" cy="1121.2" r="5.4"/><circle cx="802.5" cy="1112.1" r="5.4"/><circle cx="824.8" cy="1110.3" r="5.4"/><circle cx="833.5" cy="1127.2" r="5.4"/><circle cx="824.4" cy="1131.0" r="5.4"/><circle cx="820.0" cy="1130.6" r="5.4"/><circle cx="822.0" cy="1103.0" r="5.4"/><circle cx="831.7" cy="1079.9" r="5.4"/><circle cx="822.4" cy="1119.9" r="5.4"/><circle cx="795.2" cy="1123.3" r="5.4"/><circle cx="824.2" cy="1092.3" r="5.4"/><circle cx="813.0" cy="1104.9" r="5.4"/><circle cx="847.4" cy="1083.9" r="5.4"/><circle cx="836.3" cy="1082.5" r="5.4"/><circle cx="834.2" cy="1086.3" r="5.4"/><circle cx="833.2" cy="1120.4" r="5.4"/><circle cx="807.6" cy="1107.2" r="5.4"/><circle cx="827.0" cy="1141.6" r="5.4"/><circle cx="811.6" cy="1094.8" r="5.4"/><circle cx="821.8" cy="1083.0" r="5.4"/><circle cx="818.4" cy="1094.8" r="5.4"/><circle cx="813.8" cy="1153.6" r="5.4"/><circle cx="821.1" cy="1086.6" r="5.4"/><circle cx="815.7" cy="1090.2" r="5.4"/><circle cx="834.0" cy="1110.4" r="5.4"/><circle cx="852.1" cy="1098.7" r="5.4"/><circle cx="841.9" cy="1135.7" r="5.4"/><circle cx="817.7" cy="1077.7" r="5.4"/><circle cx="835.1" cy="1123.4" r="5.4"/><circle cx="809.9" cy="1098.1" r="5.4"/><circle cx="804.1" cy="1140.3" r="5.4"/><circle cx="811.4" cy="1125.9" r="5.4"/><circle cx="833.7" cy="1090.0" r="5.4"/><circle cx="835.6" cy="1139.6" r="5.4"/><circle cx="859.0" cy="1080.2" r="5.4"/><circle cx="845.3" cy="1105.1" r="5.4"/><circle cx="843.0" cy="1083.2" r="5.4"/><circle cx="866.0" cy="1083.6" r="5.4"/><circle cx="817.1" cy="1104.9" r="5.4"/><circle cx="804.0" cy="1121.6" r="5.4"/><circle cx="792.5" cy="1126.8" r="5.4"/><circle cx="851.7" cy="1096.2" r="5.4"/><circle cx="824.0" cy="1124.4" r="5.4"/><circle cx="827.0" cy="1111.9" r="5.4"/><circle cx="835.8" cy="1092.4" r="5.4"/><circle cx="818.0" cy="1098.0" r="5.4"/><circle cx="854.0" cy="1080.9" r="5.4"/><circle cx="841.7" cy="1087.2" r="5.4"/><circle cx="820.0" cy="1116.2" r="5.4"/><circle cx="827.2" cy="1127.3" r="5.4"/><circle cx="797.8" cy="1102.6" r="5.4"/><circle cx="802.0" cy="1101.5" r="5.4"/><circle cx="813.2" cy="1092.6" r="5.4"/><circle cx="851.8" cy="1083.4" r="5.4"/><circle cx="818.0" cy="1152.4" r="5.4"/><circle cx="842.0" cy="1072.9" r="5.4"/><circle cx="820.0" cy="1083.9" r="5.4"/><circle cx="803.6" cy="1133.4" r="5.4"/><circle cx="854.9" cy="1100.7" r="5.4"/><circle cx="841.6" cy="1129.5" r="5.4"/><circle cx="816.6" cy="1111.1" r="5.4"/><circle cx="831.8" cy="1118.2" r="5.4"/><circle cx="814.5" cy="1129.7" r="5.4"/><circle cx="856.2" cy="1099.7" r="5.4"/><circle cx="829.2" cy="1138.5" r="5.4"/><circle cx="794.4" cy="1117.0" r="5.4"/><circle cx="834.3" cy="1100.8" r="5.4"/><circle cx="841.1" cy="1098.1" r="5.4"/><circle cx="813.9" cy="1147.5" r="5.4"/><circle cx="826.8" cy="1108.7" r="5.4"/><circle cx="837.7" cy="1096.6" r="5.4"/><circle cx="815.4" cy="1139.7" r="5.4"/><circle cx="827.9" cy="1086.3" r="5.4"/><circle cx="786.7" cy="1109.0" r="5.4"/><circle cx="789.3" cy="1117.8" r="5.4"/><circle cx="842.9" cy="1088.6" r="5.4"/><circle cx="844.7" cy="1109.2" r="5.4"/><circle cx="848.7" cy="1077.5" r="5.4"/><circle cx="825.3" cy="1090.3" r="5.4"/><circle cx="812.8" cy="1090.1" r="5.4"/><circle cx="810.5" cy="1119.4" r="5.4"/><circle cx="822.8" cy="1094.4" r="5.4"/><circle cx="808.2" cy="1113.8" r="5.4"/><circle cx="840.2" cy="1133.3" r="5.4"/><circle cx="837.6" cy="1101.1" r="5.4"/><circle cx="814.4" cy="1142.6" r="5.4"/><circle cx="853.6" cy="1086.8" r="5.4"/><circle cx="831.0" cy="1085.4" r="5.4"/><circle cx="862.7" cy="1090.1" r="5.4"/><circle cx="824.0" cy="1086.8" r="5.4"/><circle cx="817.8" cy="1123.7" r="5.4"/><circle cx="801.3" cy="1133.6" r="5.4"/><circle cx="837.6" cy="1080.3" r="5.4"/><circle cx="819.6" cy="1092.9" r="5.4"/><circle cx="803.4" cy="1102.0" r="5.4"/><circle cx="835.3" cy="1137.2" r="5.4"/><circle cx="851.6" cy="1100.9" r="5.4"/><circle cx="836.1" cy="1129.9" r="5.4"/><circle cx="805.2" cy="1118.1" r="5.4"/><circle cx="846.6" cy="1074.8" r="5.4"/><circle cx="823.7" cy="1136.7" r="5.4"/><circle cx="846.0" cy="1099.6" r="5.4"/><circle cx="834.5" cy="1099.7" r="5.4"/><circle cx="802.7" cy="1135.7" r="5.4"/><circle cx="802.9" cy="1122.6" r="5.4"/><circle cx="836.9" cy="1076.0" r="5.4"/><circle cx="792.1" cy="1117.2" r="5.4"/><circle cx="837.4" cy="1115.0" r="5.4"/><circle cx="815.6" cy="1084.3" r="5.4"/><circle cx="830.1" cy="1090.1" r="5.4"/><circle cx="790.9" cy="1115.2" r="5.4"/><circle cx="807.0" cy="1112.2" r="5.4"/><circle cx="843.3" cy="1111.1" r="5.4"/><circle cx="829.2" cy="1082.8" r="5.4"/><circle cx="842.5" cy="1078.9" r="5.4"/><circle cx="819.7" cy="1111.5" r="5.4"/><circle cx="853.9" cy="1105.5" r="5.4"/><circle cx="816.6" cy="1130.8" r="5.4"/><circle cx="859.5" cy="1093.0" r="5.4"/><circle cx="818.5" cy="1114.6" r="5.4"/><circle cx="854.0" cy="1076.9" r="5.4"/><circle cx="828.0" cy="1129.9" r="5.4"/><circle cx="829.2" cy="1120.4" r="5.4"/><circle cx="846.5" cy="1090.2" r="5.4"/><circle cx="821.6" cy="1133.9" r="5.4"/><circle cx="808.6" cy="1130.7" r="5.4"/><circle cx="851.5" cy="1076.1" r="5.4"/><circle cx="803.3" cy="1147.5" r="5.4"/><circle cx="829.2" cy="1125.6" r="5.4"/><circle cx="807.9" cy="1100.9" r="5.4"/><circle cx="841.1" cy="1108.0" r="5.4"/><circle cx="840.2" cy="1127.8" r="5.4"/><circle cx="813.1" cy="1117.4" r="5.4"/><circle cx="815.8" cy="1108.6" r="5.4"/><circle cx="810.0" cy="1123.8" r="5.4"/><circle cx="817.5" cy="1135.8" r="5.4"/><circle cx="855.5" cy="1087.1" r="5.4"/><circle cx="812.7" cy="1145.9" r="5.4"/><circle cx="844.5" cy="1102.8" r="5.4"/><circle cx="847.0" cy="1107.6" r="5.4"/><circle cx="806.2" cy="1104.5" r="5.4"/><circle cx="831.1" cy="1098.3" r="5.4"/><circle cx="815.3" cy="1152.0" r="5.4"/><circle cx="791.8" cy="1112.1" r="5.4"/><circle cx="813.4" cy="1122.8" r="5.4"/><circle cx="840.1" cy="1094.8" r="5.4"/><circle cx="847.9" cy="1102.7" r="5.4"/><circle cx="857.0" cy="1092.3" r="5.4"/><circle cx="783.1" cy="1114.8" r="5.4"/><circle cx="810.5" cy="1148.8" r="5.4"/><circle cx="827.6" cy="1135.1" r="5.4"/><circle cx="801.6" cy="1143.2" r="5.4"/><circle cx="827.5" cy="1098.0" r="5.4"/><circle cx="821.5" cy="1105.4" r="5.4"/><circle cx="841.5" cy="1114.3" r="5.4"/><circle cx="799.3" cy="1131.0" r="5.4"/><circle cx="788.9" cy="1111.7" r="5.4"/><circle cx="861.1" cy="1083.0" r="5.4"/><circle cx="822.0" cy="1077.8" r="5.4"/><circle cx="840.6" cy="1075.9" r="5.4"/><circle cx="827.0" cy="1079.5" r="5.4"/><circle cx="837.2" cy="1127.2" r="5.4"/><circle cx="814.9" cy="1101.6" r="5.4"/><circle cx="823.4" cy="1114.1" r="5.4"/><circle cx="808.6" cy="1151.8" r="5.4"/><circle cx="829.1" cy="1108.6" r="5.4"/><circle cx="830.1" cy="1095.1" r="5.4"/><circle cx="823.6" cy="1126.5" r="5.4"/><circle cx="837.5" cy="1089.6" r="5.4"/><circle cx="798.8" cy="1122.8" r="5.4"/><circle cx="807.0" cy="1147.8" r="5.4"/><circle cx="827.9" cy="1117.7" r="5.4"/><circle cx="838.7" cy="1098.7" r="5.4"/><circle cx="809.5" cy="1141.6" r="5.4"/><circle cx="795.4" cy="1130.1" r="5.4"/><circle cx="857.5" cy="1095.3" r="5.4"/><circle cx="799.9" cy="1135.3" r="5.4"/><circle cx="800.2" cy="1111.6" r="5.4"/><circle cx="860.2" cy="1085.2" r="5.4"/><circle cx="785.8" cy="1110.7" r="5.4"/><circle cx="848.2" cy="1092.5" r="5.4"/><circle cx="825.0" cy="1142.9" r="5.4"/><circle cx="848.6" cy="1087.4" r="5.4"/><circle cx="796.4" cy="1135.0" r="5.4"/><circle cx="824.8" cy="1103.9" r="5.4"/><circle cx="826.5" cy="1082.7" r="5.4"/><circle cx="814.6" cy="1096.8" r="5.4"/><circle cx="831.6" cy="1141.2" r="5.4"/><circle cx="820.0" cy="1108.4" r="5.4"/><circle cx="849.6" cy="1103.7" r="5.4"/><circle cx="834.4" cy="1108.7" r="5.4"/><circle cx="810.7" cy="1150.9" r="5.4"/><circle cx="838.0" cy="1117.6" r="5.4"/><circle cx="838.1" cy="1111.4" r="5.4"/><circle cx="820.8" cy="1079.9" r="5.4"/><circle cx="811.0" cy="1107.8" r="5.4"/><circle cx="824.8" cy="1096.2" r="5.4"/><circle cx="835.3" cy="1142.6" r="5.4"/><circle cx="814.9" cy="1145.0" r="5.4"/><circle cx="806.0" cy="1142.5" r="5.4"/><circle cx="805.0" cy="1115.4" r="5.4"/><circle cx="825.1" cy="1098.6" r="5.4"/><circle cx="792.8" cy="1120.4" r="5.4"/><circle cx="822.3" cy="1108.5" r="5.4"/><circle cx="816.2" cy="1132.7" r="5.4"/><circle cx="802.6" cy="1131.0" r="5.4"/><circle cx="837.1" cy="1132.5" r="5.4"/><circle cx="808.3" cy="1138.5" r="5.4"/><circle cx="832.1" cy="1139.2" r="5.4"/><circle cx="793.7" cy="1108.8" r="5.4"/><circle cx="808.5" cy="1125.8" r="5.4"/><circle cx="792.2" cy="1123.0" r="5.4"/><circle cx="812.9" cy="1099.8" r="5.4"/><circle cx="831.5" cy="1136.9" r="5.4"/><circle cx="842.7" cy="1105.7" r="5.4"/><circle cx="823.6" cy="1147.4" r="5.4"/><circle cx="853.4" cy="1092.6" r="5.4"/><circle cx="819.4" cy="1121.4" r="5.4"/><circle cx="836.6" cy="1107.4" r="5.4"/><circle cx="799.5" cy="1117.5" r="5.4"/><circle cx="796.4" cy="1132.8" r="5.4"/><circle cx="814.1" cy="1085.4" r="5.4"/><circle cx="832.7" cy="1113.7" r="5.4"/><circle cx="814.8" cy="1125.8" r="5.4"/><circle cx="818.0" cy="1133.5" r="5.4"/><circle cx="813.8" cy="1135.0" r="5.4"/><circle cx="830.3" cy="1112.2" r="5.4"/><circle cx="829.3" cy="1101.6" r="5.4"/><circle cx="815.3" cy="1114.9" r="5.4"/><circle cx="855.3" cy="1083.6" r="5.4"/><circle cx="829.5" cy="1114.6" r="5.4"/><circle cx="834.3" cy="1076.8" r="5.4"/><circle cx="842.7" cy="1092.9" r="5.4"/><circle cx="826.2" cy="1139.0" r="5.4"/><circle cx="792.9" cy="1115.1" r="5.4"/><circle cx="830.3" cy="1133.2" r="5.4"/><circle cx="807.6" cy="1120.8" r="5.4"/><circle cx="845.8" cy="1079.5" r="5.4"/><circle cx="841.1" cy="1082.3" r="5.4"/><circle cx="839.7" cy="1093.1" r="5.4"/><circle cx="820.1" cy="1136.1" r="5.4"/><circle cx="832.2" cy="1131.8" r="5.4"/><circle cx="790.7" cy="1108.8" r="5.4"/><circle cx="817.3" cy="1117.3" r="5.4"/><circle cx="822.1" cy="1139.9" r="5.4"/><circle cx="837.5" cy="1121.0" r="5.4"/><circle cx="840.0" cy="1102.5" r="5.4"/><circle cx="796.8" cy="1108.0" r="5.4"/><circle cx="824.0" cy="1079.8" r="5.4"/><circle cx="845.6" cy="1085.9" r="5.4"/><circle cx="818.0" cy="1080.6" r="5.4"/><circle cx="863.6" cy="1085.3" r="5.4"/><circle cx="823.8" cy="1117.6" r="5.4"/><circle cx="798.6" cy="1103.7" r="5.4"/><circle cx="826.9" cy="1092.0" r="5.4"/><circle cx="803.9" cy="1125.6" r="5.4"/><circle cx="816.1" cy="1141.7" r="5.4"/><circle cx="845.7" cy="1093.5" r="5.4"/><circle cx="858.3" cy="1132.0" r="5.4"/><circle cx="839.5" cy="1153.0" r="5.4"/><circle cx="842.5" cy="1158.9" r="5.4"/><circle cx="843.0" cy="1139.0" r="5.4"/><circle cx="853.6" cy="1107.3" r="5.4"/>
</g>
<g fill="#7f7f7f" stroke="#7f7f7f">
<circle cx="827.8" cy="1078.0" r="5.4"/><circle cx="841.9" cy="1068.7" r="5.4"/>
</g>
<g fill="#c7c7c7" stroke="#c7c7c7">
<circle cx="864.1" cy="1095.6" r="5.4"/><circle cx="860.6" cy="1100.3" r="5.4"/><circle cx="867.7" cy="1086.2" r="5.4"/>
</g>
<g fill="#e377c2" stroke="#e377c2">
<circle cx="805.0" cy="1163.0" r="5.4"/><circle cx="789.1" cy="1116.7" r="5.4"/><circle cx="783.3" cy="1126.1" r="5.4"/>
</g>
<g fill="#98df8a" stroke="#98df8a">
<circle cx="783.4" cy="1200.0" r="5.4"/><circle cx="785.1" cy="1201.7" r="5.4"/><circle cx="784.1" cy="1199.1" r="5.4"/>
</g>
<g fill="#f7b6d2" stroke="#f7b6d2">
<circle cx="587.2" cy="1193.9" r="5.4"/><circle cx="584.9" cy="1185.3" r="5.4"/><circle cx="590.8" cy="1186.4" r="5.4"/><circle cx="586.1" cy="1186.7" r="5.4"/><circle cx="590.8" cy="1193.0" r="5.4"/><circle cx="591.1" cy="1191.6" r="5.4"/><circle cx="591.1" cy="1188.3" r="5.4"/><circle cx="603.5" cy="1208.3" r="5.4"/><circle cx="583.0" cy="1205.1" r="5.4"/><circle cx="592.2" cy="1219.7" r="5.4"/><circle cx="594.7" cy="1212.7" r="5.4"/><circle cx="579.4" cy="1213.7" r="5.4"/><circle cx="583.3" cy="1207.3" r="5.4"/><circle cx="581.1" cy="1217.8" r="5.4"/><circle cx="598.7" cy="1213.1" r="5.4"/><circle cx="603.7" cy="1210.4" r="5.4"/><circle cx="603.3" cy="1213.7" r="5.4"/><circle cx="581.8" cy="1214.4" r="5.4"/><circle cx="591.8" cy="1206.3" r="5.4"/><circle cx="601.2" cy="1205.0" r="5.4"/><circle cx="602.2" cy="1216.6" r="5.4"/><circle cx="624.8" cy="1212.0" r="5.4"/><circle cx="585.4" cy="1236.9" r="5.4"/><circle cx="659.0" cy="1217.5" r="5.4"/><circle cx="669.4" cy="1218.6" r="5.4"/>
</g>
<g fill="#1f77b4" stroke="#1f77b4">
<circle cx="872.3" cy="1164.2" r="5.4"/><circle cx="884.3" cy="1176.8" r="5.4"/><circle cx="865.6" cy="1174.1" r="5.4"/><circle cx="880.8" cy="1177.2" r="5.4"/><circle cx="868.3" cy="1175.5" r="5.4"/><circle cx="883.0" cy="1174.5" r="5.4"/><circle cx="869.0" cy="1176.9" r="5.4"/><circle cx="867.4" cy="1173.1" r="5.4"/><circle cx="875.0" cy="1179.7" r="5.4"/><circle cx="866.6" cy="1177.3" r="5.4"/><circle cx="873.7" cy="1174.5" r="5.4"/><circle cx="885.6" cy="1174.8" r="5.4"/><circle cx="876.3" cy="1178.0" r="5.4"/><circle cx="879.9" cy="1175.6" r="5.4"/><circle cx="876.4" cy="1179.2" r="5.4"/><circle cx="881.9" cy="1172.9" r="5.4"/><circle cx="877.9" cy="1171.9" r="5.4"/><circle cx="878.2" cy="1177.0" r="5.4"/><circle cx="872.4" cy="1177.3" r="5.4"/><circle cx="871.3" cy="1174.9" r="5.4"/><circle cx="877.3" cy="1175.3" r="5.4"/>
</g>
<g fill="#aec7e8" stroke="#aec7e8">
<circle cx="955.4" cy="1216.4" r="5.4"/><circle cx="954.8" cy="1230.1" r="5.4"/><circle cx="954.4" cy="1230.4" r="5.4"/><circle cx="909.5" cy="1235.5" r="5.4"/><circle cx="916.8" cy="1241.0" r="5.4"/><circle cx="915.6" cy="1240.1" r="5.4"/><circle cx="886.8" cy="1242.4" r="5.4"/><circle cx="931.9" cy="1243.8" r="5.4"/><circle cx="878.6" cy="1227.9" r="5.4"/><circle cx="907.3" cy="1245.1" r="5.4"/>
</g>
<g fill="#9467bd" stroke="#9467bd">
<circle cx="796.2" cy="1244.0" r="5.4"/><circle cx="803.3" cy="1231.2" r="5.4"/><circle cx="787.1" cy="1208.3" r="5.4"/><circle cx="787.3" cy="1212.4" r="5.4"/><circle cx="794.5" cy="1212.8" r="5.4"/><circle cx="799.5" cy="1241.0" r="5.4"/><circle cx="798.1" cy="1222.2" r="5.4"/><circle cx="783.8" cy="1218.2" r="5.4"/><circle cx="791.8" cy="1232.2" r="5.4"/><circle cx="799.5" cy="1220.9" r="5.4"/><circle cx="786.7" cy="1241.1" r="5.4"/><circle cx="792.5" cy="1211.7" r="5.4"/><circle cx="800.3" cy="1240.6" r="5.4"/><circle cx="799.3" cy="1210.6" r="5.4"/><circle cx="790.0" cy="1205.2" r="5.4"/><circle cx="793.4" cy="1239.4" r="5.4"/><circle cx="797.2" cy="1223.4" r="5.4"/><circle cx="795.2" cy="1208.6" r="5.4"/><circle cx="785.1" cy="1214.4" r="5.4"/><circle cx="782.4" cy="1224.0" r="5.4"/><circle cx="791.1" cy="1208.6" r="5.4"/><circle cx="789.1" cy="1211.8" r="5.4"/><circle cx="796.8" cy="1212.8" r="5.4"/><circle cx="795.1" cy="1214.5" r="5.4"/><circle cx="798.9" cy="1212.1" r="5.4"/><circle cx="798.4" cy="1209.6" r="5.4"/><circle cx="792.9" cy="1212.3" r="5.4"/><circle cx="786.8" cy="1214.4" r="5.4"/><circle cx="798.0" cy="1215.7" r="5.4"/><circle cx="794.6" cy="1210.0" r="5.4"/><circle cx="785.0" cy="1212.9" r="5.4"/><circle cx="790.6" cy="1214.3" r="5.4"/><circle cx="786.1" cy="1209.5" r="5.4"/><circle cx="806.1" cy="1226.0" r="5.4"/><circle cx="787.0" cy="1240.5" r="5.4"/><circle cx="800.6" cy="1246.5" r="5.4"/><circle cx="814.3" cy="1245.1" r="5.4"/><circle cx="817.0" cy="1253.3" r="5.4"/><circle cx="797.9" cy="1250.6" r="5.4"/><circle cx="781.5" cy="1228.7" r="5.4"/><circle cx="834.8" cy="1212.9" r="5.4"/><circle cx="834.8" cy="1221.9" r="5.4"/><circle cx="840.3" cy="1230.6" r="5.4"/><circle cx="856.7" cy="1204.1" r="5.4"/><circle cx="856.7" cy="1226.0" r="5.4"/><circle cx="806.1" cy="1202.7" r="5.4"/>
</g>
<g fill="#ff7f0e" stroke="#ff7f0e">
<circle cx="858.0" cy="1230.9" r="5.4"/><circle cx="860.1" cy="1229.1" r="5.4"/><circle cx="866.6" cy="1230.1" r="5.4"/><circle cx="870.4" cy="1247.3" r="5.4"/><circle cx="869.2" cy="1231.5" r="5.4"/><circle cx="857.4" cy="1229.8" r="5.4"/><circle cx="849.0" cy="1240.9" r="5.4"/><circle cx="872.8" cy="1237.7" r="5.4"/><circle cx="868.3" cy="1249.6" r="5.4"/><circle cx="863.2" cy="1232.8" r="5.4"/><circle cx="852.3" cy="1242.2" r="5.4"/><circle cx="855.9" cy="1250.1" r="5.4"/><circle cx="857.6" cy="1238.3" r="5.4"/><circle cx="849.0" cy="1234.0" r="5.4"/><circle cx="851.2" cy="1232.2" r="5.4"/><circle cx="868.4" cy="1235.1" r="5.4"/><circle cx="870.0" cy="1237.2" r="5.4"/><circle cx="848.3" cy="1239.2" r="5.4"/><circle cx="874.5" cy="1235.5" r="5.4"/><circle cx="853.9" cy="1235.6" r="5.4"/><circle cx="855.7" cy="1239.4" r="5.4"/><circle cx="860.6" cy="1234.6" r="5.4"/><circle cx="873.7" cy="1242.0" r="5.4"/><circle cx="859.5" cy="1244.8" r="5.4"/><circle cx="854.0" cy="1248.7" r="5.4"/><circle cx="864.4" cy="1228.8" r="5.4"/><circle cx="868.1" cy="1243.6" r="5.4"/><circle cx="860.6" cy="1247.3" r="5.4"/><circle cx="862.1" cy="1245.5" r="5.4"/><circle cx="872.0" cy="1241.6" r="5.4"/><circle cx="871.1" cy="1235.4" r="5.4"/><circle cx="872.5" cy="1231.1" r="5.4"/><circle cx="864.6" cy="1250.2" r="5.4"/><circle cx="855.1" cy="1244.8" r="5.4"/><circle cx="861.3" cy="1242.3" r="5.4"/><circle cx="855.7" cy="1246.7" r="5.4"/><circle cx="866.7" cy="1231.7" r="5.4"/><circle cx="868.4" cy="1242.2" r="5.4"/><circle cx="862.9" cy="1237.9" r="5.4"/><circle cx="856.0" cy="1231.4" r="5.4"/><circle cx="858.1" cy="1226.2" r="5.4"/><circle cx="868.3" cy="1247.2" r="5.4"/><circle cx="854.1" cy="1228.1" r="5.4"/><circle cx="863.6" cy="1240.5" r="5.4"/><circle cx="856.4" cy="1242.3" r="5.4"/><circle cx="857.7" cy="1249.8" r="5.4"/><circle cx="857.9" cy="1234.3" r="5.4"/><circle cx="864.4" cy="1246.9" r="5.4"/><circle cx="865.1" cy="1239.3" r="5.4"/><circle cx="861.9" cy="1226.5" r="5.4"/><circle cx="875.4" cy="1237.2" r="5.4"/><circle cx="851.5" cy="1237.7" r="5.4"/><circle cx="863.0" cy="1235.4" r="5.4"/><circle cx="851.7" cy="1245.1" r="5.4"/><circle cx="866.1" cy="1244.5" r="5.4"/><circle cx="871.9" cy="1244.6" r="5.4"/><circle cx="858.7" cy="1230.9" r="5.4"/><circle cx="864.9" cy="1246.9" r="5.4"/><circle cx="861.7" cy="1250.2" r="5.4"/><circle cx="862.7" cy="1226.2" r="5.4"/><circle cx="851.0" cy="1250.7" r="5.4"/><circle cx="873.8" cy="1244.7" r="5.4"/><circle cx="861.7" cy="1243.6" r="5.4"/><circle cx="845.6" cy="1243.2" r="5.4"/><circle cx="855.9" cy="1210.9" r="5.4"/><circle cx="857.0" cy="1210.0" r="5.4"/><circle cx="850.4" cy="1209.6" r="5.4"/><circle cx="850.4" cy="1257.4" r="5.4"/><circle cx="877.2" cy="1267.8" r="5.4"/><circle cx="856.1" cy="1275.2" r="5.4"/><circle cx="895.5" cy="1227.3" r="5.4"/><circle cx="799.3" cy="1233.4" r="5.4"/><circle cx="797.5" cy="1231.4" r="5.4"/><circle cx="800.6" cy="1231.9" r="5.4"/><circle cx="873.1" cy="1219.1" r="5.4"/>
</g>
<g fill="#c49c94" stroke="#c49c94">
<circle cx="862.7" cy="1241.0" r="5.4"/>
</g>
<g fill="#98df8a" stroke="#98df8a">
<circle cx="718.1" cy="1239.7" r="5.4"/><circle cx="723.1" cy="1244.6" r="5.4"/><circle cx="736.7" cy="1247.1" r="5.4"/><circle cx="714.4" cy="1250.8" r="5.4"/>
</g>
<g fill="#9467bd" stroke="#9467bd">
<circle cx="727.4" cy="1240.3" r="5.4"/>
</g>
<g fill="#ff9896" stroke="#ff9896">
<circle cx="694.6" cy="1265.7" r="5.4"/><circle cx="695.7" cy="1265.4" r="5.4"/><circle cx="703.3" cy="1257.0" r="5.4"/><circle cx="703.7" cy="1257.0" r="5.4"/><circle cx="709.5" cy="1259.5" r="5.4"/><circle cx="709.3" cy="1259.7" r="5.4"/><circle cx="713.2" cy="1247.1" r="5.4"/><circle cx="718.1" cy="1255.8" r="5.4"/><circle cx="717.8" cy="1256.4" r="5.4"/><circle cx="724.3" cy="1250.8" r="5.4"/><circle cx="727.4" cy="1262.0" r="5.4"/><circle cx="727.2" cy="1260.9" r="5.4"/><circle cx="724.3" cy="1266.9" r="5.4"/><circle cx="709.5" cy="1250.8" r="5.4"/><circle cx="719.4" cy="1262.0" r="5.4"/><circle cx="719.1" cy="1262.1" r="5.4"/><circle cx="729.3" cy="1258.2" r="5.4"/><circle cx="739.2" cy="1280.5" r="5.4"/>
</g>
<g fill="#1f77b4" stroke="#1f77b4">
<circle cx="725.9" cy="1304.6" r="5.4"/><circle cx="721.1" cy="1305.0" r="5.4"/><circle cx="717.2" cy="1293.9" r="5.4"/><circle cx="720.6" cy="1273.0" r="5.4"/><circle cx="735.8" cy="1298.8" r="5.4"/><circle cx="719.1" cy="1286.7" r="5.4"/><circle cx="720.7" cy="1279.2" r="5.4"/><circle cx="723.3" cy="1304.5" r="5.4"/><circle cx="723.8" cy="1273.9" r="5.4"/><circle cx="723.4" cy="1299.5" r="5.4"/><circle cx="729.2" cy="1299.9" r="5.4"/><circle cx="718.5" cy="1302.0" r="5.4"/><circle cx="721.1" cy="1276.0" r="5.4"/><circle cx="724.7" cy="1276.8" r="5.4"/><circle cx="719.7" cy="1294.0" r="5.4"/><circle cx="721.6" cy="1286.8" r="5.4"/><circle cx="717.5" cy="1279.1" r="5.4"/><circle cx="722.6" cy="1302.4" r="5.4"/><circle cx="729.3" cy="1303.8" r="5.4"/><circle cx="725.1" cy="1301.9" r="5.4"/><circle cx="730.8" cy="1301.4" r="5.4"/><circle cx="719.1" cy="1281.3" r="5.4"/><circle cx="718.0" cy="1289.8" r="5.4"/><circle cx="725.4" cy="1306.9" r="5.4"/><circle cx="719.2" cy="1291.2" r="5.4"/><circle cx="720.3" cy="1288.6" r="5.4"/><circle cx="720.3" cy="1284.6" r="5.4"/><circle cx="720.3" cy="1308.9" r="5.4"/><circle cx="715.4" cy="1286.9" r="5.4"/><circle cx="733.5" cy="1301.2" r="5.4"/><circle cx="724.2" cy="1309.1" r="5.4"/><circle cx="718.5" cy="1275.8" r="5.4"/><circle cx="721.3" cy="1296.8" r="5.4"/><circle cx="717.7" cy="1305.0" r="5.4"/><circle cx="716.0" cy="1281.1" r="5.4"/><circle cx="725.7" cy="1299.1" r="5.4"/><circle cx="722.0" cy="1281.2" r="5.4"/><circle cx="719.0" cy="1306.7" r="5.4"/><circle cx="718.7" cy="1297.2" r="5.4"/><circle cx="732.9" cy="1298.5" r="5.4"/><circle cx="727.0" cy="1302.0" r="5.4"/><circle cx="728.2" cy="1307.9" r="5.4"/><circle cx="716.8" cy="1284.1" r="5.4"/><circle cx="715.0" cy="1289.6" r="5.4"/><circle cx="723.4" cy="1278.3" r="5.4"/><circle cx="721.2" cy="1306.8" r="5.4"/><circle cx="719.9" cy="1298.9" r="5.4"/><circle cx="724.9" cy="1297.3" r="5.4"/><circle cx="760.2" cy="1299.7" r="5.4"/><circle cx="736.7" cy="1296.6" r="5.4"/>
</g>
<g fill="#ff7f0e" stroke="#ff7f0e">
<circle cx="769.5" cy="1280.5" r="5.4"/>
</g>
<g fill="#9467bd" stroke="#9467bd">
<circle cx="748.3" cy="1240.4" r="5.4"/><circle cx="740.1" cy="1263.2" r="5.4"/><circle cx="758.4" cy="1271.2" r="5.4"/><circle cx="739.9" cy="1228.9" r="5.4"/><circle cx="754.1" cy="1243.0" r="5.4"/><circle cx="745.4" cy="1249.4" r="5.4"/><circle cx="775.1" cy="1267.5" r="5.4"/><circle cx="761.2" cy="1278.8" r="5.4"/><circle cx="776.5" cy="1264.9" r="5.4"/><circle cx="747.7" cy="1278.9" r="5.4"/><circle cx="755.1" cy="1265.1" r="5.4"/><circle cx="752.4" cy="1249.1" r="5.4"/><circle cx="750.1" cy="1237.2" r="5.4"/><circle cx="744.9" cy="1241.2" r="5.4"/><circle cx="769.2" cy="1276.7" r="5.4"/><circle cx="768.0" cy="1255.4" r="5.4"/><circle cx="769.1" cy="1253.7" r="5.4"/><circle cx="751.5" cy="1291.1" r="5.4"/><circle cx="765.8" cy="1265.5" r="5.4"/><circle cx="741.1" cy="1271.4" r="5.4"/><circle cx="753.4" cy="1275.6" r="5.4"/><circle cx="741.7" cy="1240.4" r="5.4"/><circle cx="746.7" cy="1256.3" r="5.4"/><circle cx="739.7" cy="1256.7" r="5.4"/><circle cx="759.6" cy="1250.1" r="5.4"/><circle cx="762.8" cy="1264.7" r="5.4"/><circle cx="750.6" cy="1266.4" r="5.4"/><circle cx="759.7" cy="1258.0" r="5.4"/><circle cx="766.2" cy="1258.2" r="5.4"/><circle cx="740.0" cy="1233.7" r="5.4"/><circle cx="756.1" cy="1261.9" r="5.4"/><circle cx="747.4" cy="1247.8" r="5.4"/><circle cx="746.8" cy="1258.4" r="5.4"/><circle cx="755.2" cy="1277.5" r="5.4"/><circle cx="751.1" cy="1241.3" r="5.4"/><circle cx="779.1" cy="1274.7" r="5.4"/><circle cx="772.5" cy="1265.0" r="5.4"/><circle cx="743.2" cy="1255.3" r="5.4"/><circle cx="767.1" cy="1278.5" r="5.4"/><circle cx="747.6" cy="1252.5" r="5.4"/><circle cx="745.0" cy="1259.8" r="5.4"/><circle cx="775.6" cy="1274.4" r="5.4"/><circle cx="770.6" cy="1271.3" r="5.4"/><circle cx="746.2" cy="1273.9" r="5.4"/><circle cx="745.4" cy="1270.7" r="5.4"/><circle cx="771.4" cy="1280.1" r="5.4"/><circle cx="771.1" cy="1274.5" r="5.4"/><circle cx="770.2" cy="1256.6" r="5.4"/><circle cx="749.8" cy="1250.6" r="5.4"/><circle cx="763.4" cy="1261.6" r="5.4"/><circle cx="755.6" cy="1259.1" r="5.4"/><circle cx="748.8" cy="1269.0" r="5.4"/><circle cx="745.3" cy="1279.9" r="5.4"/><circle cx="746.7" cy="1261.3" r="5.4"/><circle cx="752.0" cy="1247.5" r="5.4"/><circle cx="749.5" cy="1287.1" r="5.4"/><circle cx="746.9" cy="1243.3" r="5.4"/><circle cx="748.0" cy="1271.3" r="5.4"/><circle cx="748.9" cy="1283.3" r="5.4"/><circle cx="758.1" cy="1264.7" r="5.4"/><circle cx="762.6" cy="1246.6" r="5.4"/><circle cx="754.1" cy="1290.3" r="5.4"/><circle cx="743.3" cy="1265.7" r="5.4"/><circle cx="749.5" cy="1273.6" r="5.4"/><circle cx="770.2" cy="1259.8" r="5.4"/><circle cx="753.3" cy="1263.2" r="5.4"/><circle cx="756.0" cy="1257.0" r="5.4"/><circle cx="759.5" cy="1247.2" r="5.4"/><circle cx="740.1" cy="1264.8" r="5.4"/><circle cx="753.8" cy="1236.6" r="5.4"/><circle cx="748.6" cy="1262.0" r="5.4"/><circle cx="750.4" cy="1234.4" r="5.4"/><circle cx="784.7" cy="1270.4" r="5.4"/><circle cx="744.8" cy="1276.8" r="5.4"/><circle cx="756.3" cy="1284.1" r="5.4"/><circle cx="763.9" cy="1274.9" r="5.4"/><circle cx="745.5" cy="1233.8" r="5.4"/><circle cx="768.8" cy="1274.7" r="5.4"/><circle cx="740.0" cy="1246.6" r="5.4"/><circle cx="760.7" cy="1243.2" r="5.4"/><circle cx="783.7" cy="1265.7" r="5.4"/><circle cx="757.9" cy="1282.9" r="5.4"/><circle cx="760.5" cy="1273.7" r="5.4"/><circle cx="739.9" cy="1231.6" r="5.4"/><circle cx="750.9" cy="1270.8" r="5.4"/><circle cx="780.5" cy="1276.9" r="5.4"/><circle cx="757.2" cy="1269.2" r="5.4"/><circle cx="743.4" cy="1246.7" r="5.4"/><circle cx="761.8" cy="1251.7" r="5.4"/><circle cx="754.0" cy="1254.9" r="5.4"/><circle cx="774.2" cy="1276.8" r="5.4"/><circle cx="767.9" cy="1267.8" r="5.4"/><circle cx="779.5" cy="1270.4" r="5.4"/><circle cx="776.7" cy="1277.6" r="5.4"/><circle cx="750.9" cy="1283.7" r="5.4"/><circle cx="753.3" cy="1268.9" r="5.4"/><circle cx="749.1" cy="1242.8" r="5.4"/><circle cx="775.5" cy="1281.6" r="5.4"/><circle cx="741.0" cy="1260.2" r="5.4"/><circle cx="743.3" cy="1243.9" r="5.4"/><circle cx="738.3" cy="1246.4" r="5.4"/><circle cx="759.1" cy="1277.6" r="5.4"/><circle cx="783.1" cy="1275.8" r="5.4"/><circle cx="773.0" cy="1259.6" r="5.4"/><circle cx="765.4" cy="1272.7" r="5.4"/><circle cx="767.4" cy="1250.0" r="5.4"/><circle cx="741.5" cy="1267.3" r="5.4"/><circle cx="764.9" cy="1269.6" r="5.4"/><circle cx="761.7" cy="1256.3" r="5.4"/><circle cx="777.4" cy="1263.2" r="5.4"/><circle cx="755.2" cy="1239.4" r="5.4"/><circle cx="777.5" cy="1257.2" r="5.4"/><circle cx="745.1" cy="1268.5" r="5.4"/><circle cx="754.1" cy="1270.7" r="5.4"/><circle cx="749.0" cy="1279.9" r="5.4"/><circle cx="752.6" cy="1278.2" r="5.4"/><circle cx="785.0" cy="1268.5" r="5.4"/><circle cx="773.6" cy="1271.3" r="5.4"/><circle cx="767.5" cy="1280.2" r="5.4"/><circle cx="765.1" cy="1257.1" r="5.4"/><circle cx="751.9" cy="1253.3" r="5.4"/><circle cx="756.5" cy="1281.4" r="5.4"/><circle cx="761.2" cy="1272.1" r="5.4"/><circle cx="744.7" cy="1253.9" r="5.4"/><circle cx="776.1" cy="1256.2" r="5.4"/><circle cx="736.4" cy="1254.1" r="5.4"/><circle cx="779.8" cy="1265.3" r="5.4"/><circle cx="757.3" cy="1275.8" r="5.4"/><circle cx="742.1" cy="1250.2" r="5.4"/><circle cx="775.0" cy="1261.1" r="5.4"/><circle cx="737.9" cy="1249.3" r="5.4"/><circle cx="767.7" cy="1262.7" r="5.4"/><circle cx="738.0" cy="1243.8" r="5.4"/><circle cx="759.4" cy="1263.1" r="5.4"/><circle cx="770.8" cy="1262.0" r="5.4"/><circle cx="754.2" cy="1252.9" r="5.4"/><circle cx="752.7" cy="1286.2" r="5.4"/><circle cx="766.2" cy="1247.8" r="5.4"/><circle cx="777.3" cy="1279.9" r="5.4"/><circle cx="761.1" cy="1269.0" r="5.4"/><circle cx="771.2" cy="1268.6" r="5.4"/><circle cx="743.5" cy="1238.5" r="5.4"/><circle cx="764.8" cy="1250.6" r="5.4"/><circle cx="748.6" cy="1255.5" r="5.4"/><circle cx="768.7" cy="1265.7" r="5.4"/><circle cx="736.3" cy="1256.2" r="5.4"/><circle cx="754.3" cy="1246.7" r="5.4"/><circle cx="737.1" cy="1260.3" r="5.4"/><circle cx="752.3" cy="1259.3" r="5.4"/><circle cx="763.3" cy="1259.9" r="5.4"/><circle cx="748.6" cy="1235.2" r="5.4"/><circle cx="776.5" cy="1271.2" r="5.4"/><circle cx="748.6" cy="1264.3" r="5.4"/><circle cx="754.4" cy="1281.2" r="5.4"/><circle cx="758.0" cy="1253.5" r="5.4"/><circle cx="780.0" cy="1259.5" r="5.4"/><circle cx="743.4" cy="1262.2" r="5.4"/><circle cx="781.5" cy="1268.9" r="5.4"/><circle cx="777.6" cy="1259.8" r="5.4"/><circle cx="747.3" cy="1238.3" r="5.4"/><circle cx="738.1" cy="1236.9" r="5.4"/><circle cx="758.0" cy="1243.7" r="5.4"/><circle cx="741.2" cy="1253.1" r="5.4"/><circle cx="766.8" cy="1252.4" r="5.4"/><circle cx="743.1" cy="1274.6" r="5.4"/><circle cx="755.8" cy="1248.6" r="5.4"/><circle cx="778.9" cy="1267.3" r="5.4"/><circle cx="738.1" cy="1267.8" r="5.4"/><circle cx="734.8" cy="1226.1" r="5.4"/><circle cx="767.0" cy="1232.9" r="5.4"/><circle cx="752.8" cy="1229.8" r="5.4"/><circle cx="756.5" cy="1232.3" r="5.4"/><circle cx="734.2" cy="1274.3" r="5.4"/><circle cx="796.1" cy="1270.6" r="5.4"/><circle cx="807.2" cy="1271.2" r="5.4"/><circle cx="807.1" cy="1272.0" r="5.4"/><circle cx="806.0" cy="1276.8" r="5.4"/><circle cx="793.6" cy="1278.0" r="5.4"/><circle cx="803.5" cy="1284.2" r="5.4"/><circle cx="799.8" cy="1280.5" r="5.4"/><circle cx="809.7" cy="1273.1" r="5.4"/><circle cx="791.1" cy="1271.8" r="5.4"/><circle cx="784.9" cy="1294.1" r="5.4"/><circle cx="776.3" cy="1295.4" r="5.4"/><circle cx="787.4" cy="1305.2" r="5.4"/><circle cx="786.3" cy="1305.2" r="5.4"/><circle cx="798.5" cy="1301.5" r="5.4"/><circle cx="798.4" cy="1302.7" r="5.4"/><circle cx="783.7" cy="1304.0" r="5.4"/>
</g>
<g fill="#c49c94" stroke="#c49c94">
<circle cx="774.2" cy="1339.5" r="5.4"/><circle cx="758.8" cy="1325.5" r="5.4"/><circle cx="766.1" cy="1318.6" r="5.4"/><circle cx="767.8" cy="1328.6" r="5.4"/><circle cx="756.6" cy="1334.3" r="5.4"/><circle cx="784.3" cy="1328.6" r="5.4"/><circle cx="742.1" cy="1334.3" r="5.4"/><circle cx="769.7" cy="1330.2" r="5.4"/><circle cx="763.1" cy="1325.7" r="5.4"/><circle cx="796.9" cy="1315.9" r="5.4"/><circle cx="767.1" cy="1339.5" r="5.4"/><circle cx="794.6" cy="1330.1" r="5.4"/><circle cx="790.1" cy="1336.7" r="5.4"/><circle cx="773.3" cy="1306.7" r="5.4"/><circle cx="779.0" cy="1310.3" r="5.4"/><circle cx="770.8" cy="1314.4" r="5.4"/><circle cx="729.8" cy="1330.0" r="5.4"/><circle cx="748.6" cy="1319.6" r="5.4"/><circle cx="793.3" cy="1333.2" r="5.4"/><circle cx="771.1" cy="1333.9" r="5.4"/><circle cx="774.1" cy="1310.1" r="5.4"/><circle cx="784.0" cy="1338.2" r="5.4"/><circle cx="779.5" cy="1331.0" r="5.4"/><circle cx="739.6" cy="1312.3" r="5.4"/><circle cx="798.2" cy="1319.0" r="5.4"/><circle cx="758.1" cy="1311.7" r="5.4"/><circle cx="751.3" cy="1317.4" r="5.4"/><circle cx="755.9" cy="1322.4" r="5.4"/><circle cx="800.0" cy="1316.1" r="5.4"/><circle cx="738.8" cy="1326.9" r="5.4"/><circle cx="766.7" cy="1299.3" r="5.4"/><circle cx="766.7" cy="1320.8" r="5.4"/><circle cx="764.7" cy="1339.3" r="5.4"/><circle cx="757.1" cy="1315.7" r="5.4"/><circle cx="738.4" cy="1322.8" r="5.4"/><circle cx="794.8" cy="1324.8" r="5.4"/><circle cx="776.7" cy="1311.5" r="5.4"/><circle cx="773.2" cy="1336.4" r="5.4"/><circle cx="785.7" cy="1315.5" r="5.4"/><circle cx="735.6" cy="1316.1" r="5.4"/><circle cx="757.7" cy="1318.2" r="5.4"/><circle cx="782.0" cy="1322.3" r="5.4"/><circle cx="771.3" cy="1322.4" r="5.4"/><circle cx="750.3" cy="1302.9" r="5.4"/><circle cx="774.5" cy="1303.4" r="5.4"/><circle cx="754.3" cy="1311.5" r="5.4"/><circle cx="789.0" cy="1316.1" r="5.4"/><circle cx="738.5" cy="1315.4" r="5.4"/><circle cx="748.4" cy="1307.2" r="5.4"/><circle cx="771.3" cy="1340.1" r="5.4"/><circle cx="765.7" cy="1331.2" r="5.4"/><circle cx="745.1" cy="1306.9" r="5.4"/><circle cx="763.2" cy="1319.3" r="5.4"/><circle cx="765.4" cy="1305.4" r="5.4"/><circle cx="745.9" cy="1303.3" r="5.4"/><circle cx="750.7" cy="1322.1" r="5.4"/><circle cx="797.2" cy="1330.5" r="5.4"/><circle cx="798.4" cy="1324.4" r="5.4"/><circle cx="740.6" cy="1336.3" r="5.4"/><circle cx="740.0" cy="1318.7" r="5.4"/><circle cx="755.9" cy="1307.2" r="5.4"/><circle cx="776.1" cy="1318.9" r="5.4"/><circle cx="762.9" cy="1321.1" r="5.4"/><circle cx="784.4" cy="1324.6" r="5.4"/><circle cx="767.2" cy="1296.3" r="5.4"/><circle cx="748.7" cy="1330.1" r="5.4"/><circle cx="752.7" cy="1316.1" r="5.4"/><circle cx="770.3" cy="1336.7" r="5.4"/><circle cx="757.8" cy="1337.6" r="5.4"/><circle cx="759.4" cy="1306.3" r="5.4"/><circle cx="763.2" cy="1300.4" r="5.4"/><circle cx="784.3" cy="1318.5" r="5.4"/><circle cx="768.4" cy="1291.3" r="5.4"/><circle cx="741.6" cy="1306.7" r="5.4"/><circle cx="776.6" cy="1304.9" r="5.4"/><circle cx="769.1" cy="1311.2" r="5.4"/><circle cx="749.4" cy="1334.9" r="5.4"/><circle cx="765.9" cy="1336.9" r="5.4"/><circle cx="737.7" cy="1334.3" r="5.4"/><circle cx="756.1" cy="1318.2" r="5.4"/><circle cx="763.2" cy="1304.0" r="5.4"/><circle cx="751.1" cy="1311.3" r="5.4"/><circle cx="736.4" cy="1312.3" r="5.4"/><circle cx="731.7" cy="1328.9" r="5.4"/><circle cx="741.6" cy="1327.6" r="5.4"/><circle cx="736.2" cy="1318.8" r="5.4"/><circle cx="791.0" cy="1318.3" r="5.4"/><circle cx="761.7" cy="1336.6" r="5.4"/><circle cx="751.4" cy="1331.1" r="5.4"/><circle cx="741.3" cy="1331.1" r="5.4"/><circle cx="762.8" cy="1312.5" r="5.4"/><circle cx="732.4" cy="1334.2" r="5.4"/><circle cx="768.5" cy="1308.7" r="5.4"/><circle cx="743.2" cy="1316.5" r="5.4"/><circle cx="786.9" cy="1336.0" r="5.4"/><circle cx="749.6" cy="1314.8" r="5.4"/><circle cx="796.5" cy="1333.9" r="5.4"/><circle cx="778.6" cy="1315.0" r="5.4"/><circle cx="747.0" cy="1316.6" r="5.4"/><circle cx="766.7" cy="1325.2" r="5.4"/><circle cx="748.6" cy="1327.8" r="5.4"/><circle cx="796.6" cy="1322.3" r="5.4"/><circle cx="795.9" cy="1328.9" r="5.4"/><circle cx="788.3" cy="1319.3" r="5.4"/><circle cx="792.8" cy="1328.6" r="5.4"/><circle cx="763.7" cy="1327.4" r="5.4"/><circle cx="749.8" cy="1308.0" r="5.4"/><circle cx="788.2" cy="1330.3" r="5.4"/><circle cx="771.4" cy="1310.0" r="5.4"/><circle cx="754.1" cy="1308.4" r="5.4"/><circle cx="760.3" cy="1302.1" r="5.4"/><circle cx="775.9" cy="1337.7" r="5.4"/><circle cx="764.6" cy="1308.7" r="5.4"/><circle cx="759.7" cy="1328.9" r="5.4"/><circle cx="744.3" cy="1311.5" r="5.4"/><circle cx="780.8" cy="1337.4" r="5.4"/><circle cx="788.1" cy="1324.8" r="5.4"/><circle cx="788.1" cy="1335.3" r="5.4"/><circle cx="787.9" cy="1320.6" r="5.4"/><circle cx="734.4" cy="1332.1" r="5.4"/><circle cx="769.7" cy="1305.4" r="5.4"/><circle cx="752.5" cy="1321.4" r="5.4"/><circle cx="775.7" cy="1324.0" r="5.4"/><circle cx="770.9" cy="1302.1" r="5.4"/><circle cx="763.1" cy="1305.3" r="5.4"/><circle cx="770.0" cy="1299.3" r="5.4"/><circle cx="743.4" cy="1325.6" r="5.4"/><circle cx="745.8" cy="1310.3" r="5.4"/><circle cx="756.0" cy="1324.1" r="5.4"/><circle cx="768.9" cy="1292.5" r="5.4"/><circle cx="792.1" cy="1324.2" r="5.4"/><circle cx="728.7" cy="1325.4" r="5.4"/><circle cx="774.0" cy="1314.3" r="5.4"/><circle cx="773.1" cy="1323.9" r="5.4"/><circle cx="793.0" cy="1321.0" r="5.4"/><circle cx="771.9" cy="1328.6" r="5.4"/><circle cx="736.1" cy="1326.9" r="5.4"/><circle cx="753.2" cy="1334.4" r="5.4"/><circle cx="746.3" cy="1327.8" r="5.4"/><circle cx="774.3" cy="1327.6" r="5.4"/><circle cx="760.9" cy="1315.6" r="5.4"/><circle cx="777.1" cy="1321.5" r="5.4"/><circle cx="733.8" cy="1325.8" r="5.4"/><circle cx="770.3" cy="1296.0" r="5.4"/><circle cx="772.7" cy="1311.3" r="5.4"/><circle cx="737.1" cy="1325.2" r="5.4"/><circle cx="769.0" cy="1317.9" r="5.4"/><circle cx="746.6" cy="1323.6" r="5.4"/><circle cx="765.0" cy="1314.8" r="5.4"/><circle cx="786.6" cy="1322.3" r="5.4"/><circle cx="766.3" cy="1311.4" r="5.4"/><circle cx="761.3" cy="1309.0" r="5.4"/><circle cx="735.2" cy="1320.7" r="5.4"/><circle cx="757.3" cy="1302.4" r="5.4"/><circle cx="754.5" cy="1330.2" r="5.4"/><circle cx="757.3" cy="1331.9" r="5.4"/><circle cx="751.2" cy="1324.4" r="5.4"/><circle cx="750.6" cy="1337.9" r="5.4"/><circle cx="748.7" cy="1312.1" r="5.4"/><circle cx="730.9" cy="1318.5" r="5.4"/><circle cx="745.3" cy="1322.6" r="5.4"/><circle cx="757.4" cy="1309.2" r="5.4"/><circle cx="731.9" cy="1321.7" r="5.4"/><circle cx="762.8" cy="1330.4" r="5.4"/><circle cx="766.7" cy="1293.4" r="5.4"/><circle cx="779.1" cy="1333.9" r="5.4"/><circle cx="790.1" cy="1330.7" r="5.4"/><circle cx="760.2" cy="1321.5" r="5.4"/><circle cx="755.8" cy="1337.4" r="5.4"/><circle cx="754.3" cy="1328.2" r="5.4"/><circle cx="775.3" cy="1333.9" r="5.4"/><circle cx="785.6" cy="1334.8" r="5.4"/><circle cx="783.5" cy="1330.3" r="5.4"/><circle cx="741.7" cy="1325.1" r="5.4"/><circle cx="743.5" cy="1330.6" r="5.4"/><circle cx="772.7" cy="1318.6" r="5.4"/><circle cx="743.4" cy="1317.8" r="5.4"/><circle cx="737.3" cy="1336.1" r="5.4"/><circle cx="732.7" cy="1318.0" r="5.4"/><circle cx="746.7" cy="1333.3" r="5.4"/><circle cx="788.5" cy="1328.2" r="5.4"/><circle cx="777.0" cy="1329.8" r="5.4"/><circle cx="741.3" cy="1310.2" r="5.4"/><circle cx="766.6" cy="1335.0" r="5.4"/><circle cx="769.5" cy="1323.9" r="5.4"/><circle cx="763.2" cy="1333.4" r="5.4"/><circle cx="782.8" cy="1327.7" r="5.4"/><circle cx="793.6" cy="1318.4" r="5.4"/><circle cx="771.8" cy="1299.3" r="5.4"/><circle cx="756.5" cy="1326.8" r="5.4"/><circle cx="751.0" cy="1305.5" r="5.4"/><circle cx="736.0" cy="1332.2" r="5.4"/><circle cx="734.6" cy="1333.9" r="5.4"/><circle cx="782.4" cy="1334.4" r="5.4"/><circle cx="772.8" cy="1332.1" r="5.4"/><circle cx="780.7" cy="1325.1" r="5.4"/><circle cx="775.9" cy="1322.6" r="5.4"/><circle cx="767.7" cy="1315.3" r="5.4"/><circle cx="742.3" cy="1320.6" r="5.4"/><circle cx="766.9" cy="1302.5" r="5.4"/><circle cx="781.0" cy="1319.3" r="5.4"/><circle cx="759.5" cy="1335.2" r="5.4"/><circle cx="777.1" cy="1327.3" r="5.4"/><circle cx="713.2" cy="1321.9" r="5.4"/><circle cx="718.1" cy="1326.3" r="5.4"/><circle cx="828.2" cy="1297.2" r="5.4"/><circle cx="827.6" cy="1309.0" r="5.4"/><circle cx="830.5" cy="1324.4" r="5.4"/>
</g>
<g fill="#9467bd" stroke="#9467bd">
<circle cx="787.4" cy="1305.2" r="5.4"/><circle cx="783.7" cy="1296.6" r="5.4"/>
</g>
<g fill="#d62728" stroke="#d62728">
<circle cx="693.5" cy="1339.6" r="5.4"/><circle cx="688.5" cy="1351.2" r="5.4"/><circle cx="693.4" cy="1335.4" r="5.4"/><circle cx="715.2" cy="1347.2" r="5.4"/><circle cx="712.2" cy="1337.8" r="5.4"/><circle cx="714.2" cy="1352.5" r="5.4"/><circle cx="699.0" cy="1326.1" r="5.4"/><circle cx="678.0" cy="1316.6" r="5.4"/><circle cx="723.2" cy="1343.7" r="5.4"/><circle cx="693.7" cy="1359.4" r="5.4"/><circle cx="687.1" cy="1338.3" r="5.4"/><circle cx="695.6" cy="1332.5" r="5.4"/><circle cx="697.7" cy="1340.0" r="5.4"/><circle cx="729.4" cy="1339.9" r="5.4"/><circle cx="690.9" cy="1355.6" r="5.4"/><circle cx="719.6" cy="1339.7" r="5.4"/><circle cx="681.8" cy="1309.1" r="5.4"/><circle cx="681.7" cy="1328.6" r="5.4"/><circle cx="702.2" cy="1344.3" r="5.4"/><circle cx="701.7" cy="1355.5" r="5.4"/><circle cx="708.9" cy="1328.2" r="5.4"/><circle cx="700.7" cy="1347.8" r="5.4"/><circle cx="719.7" cy="1346.8" r="5.4"/><circle cx="708.9" cy="1344.9" r="5.4"/><circle cx="691.7" cy="1318.1" r="5.4"/><circle cx="690.9" cy="1338.2" r="5.4"/><circle cx="712.6" cy="1340.8" r="5.4"/><circle cx="693.2" cy="1347.2" r="5.4"/><circle cx="695.6" cy="1351.0" r="5.4"/><circle cx="708.9" cy="1332.4" r="5.4"/><circle cx="688.3" cy="1356.5" r="5.4"/><circle cx="712.4" cy="1350.8" r="5.4"/><circle cx="696.2" cy="1336.8" r="5.4"/><circle cx="689.0" cy="1318.0" r="5.4"/><circle cx="695.9" cy="1355.6" r="5.4"/><circle cx="699.2" cy="1350.5" r="5.4"/><circle cx="678.4" cy="1310.2" r="5.4"/><circle cx="699.3" cy="1331.3" r="5.4"/><circle cx="693.2" cy="1328.3" r="5.4"/><circle cx="682.8" cy="1315.1" r="5.4"/><circle cx="704.7" cy="1347.9" r="5.4"/><circle cx="693.3" cy="1353.6" r="5.4"/><circle cx="716.4" cy="1337.3" r="5.4"/><circle cx="685.1" cy="1334.2" r="5.4"/><circle cx="700.0" cy="1359.9" r="5.4"/><circle cx="710.5" cy="1347.7" r="5.4"/><circle cx="708.5" cy="1349.8" r="5.4"/><circle cx="701.6" cy="1334.9" r="5.4"/><circle cx="694.6" cy="1324.9" r="5.4"/><circle cx="687.3" cy="1341.5" r="5.4"/><circle cx="715.5" cy="1340.5" r="5.4"/><circle cx="720.5" cy="1351.0" r="5.4"/><circle cx="684.9" cy="1312.3" r="5.4"/><circle cx="697.8" cy="1347.2" r="5.4"/><circle cx="711.0" cy="1327.3" r="5.4"/><circle cx="701.6" cy="1325.6" r="5.4"/><circle cx="722.2" cy="1341.6" r="5.4"/><circle cx="686.9" cy="1325.2" r="5.4"/><circle cx="690.9" cy="1342.8" r="5.4"/><circle cx="707.7" cy="1353.1" r="5.4"/><circle cx="685.8" cy="1315.9" r="5.4"/><circle cx="708.7" cy="1347.1" r="5.4"/><circle cx="724.5" cy="1338.3" r="5.4"/><circle cx="697.1" cy="1360.4" r="5.4"/><circle cx="705.6" cy="1330.7" r="5.4"/><circle cx="728.2" cy="1344.2" r="5.4"/><circle cx="705.2" cy="1356.9" r="5.4"/><circle cx="692.2" cy="1325.3" r="5.4"/><circle cx="703.0" cy="1352.4" r="5.4"/><circle cx="698.8" cy="1356.5" r="5.4"/><circle cx="703.5" cy="1332.6" r="5.4"/><circle cx="684.9" cy="1307.7" r="5.4"/><circle cx="699.5" cy="1328.5" r="5.4"/><circle cx="684.7" cy="1325.0" r="5.4"/><circle cx="690.1" cy="1353.4" r="5.4"/><circle cx="681.7" cy="1321.3" r="5.4"/><circle cx="688.8" cy="1332.4" r="5.4"/><circle cx="706.8" cy="1335.4" r="5.4"/><circle cx="683.5" cy="1331.6" r="5.4"/><circle cx="706.2" cy="1350.8" r="5.4"/><circle cx="683.8" cy="1319.4" r="5.4"/><circle cx="706.1" cy="1343.4" r="5.4"/><circle cx="706.0" cy="1336.7" r="5.4"/><circle cx="681.7" cy="1324.4" r="5.4"/><circle cx="713.4" cy="1343.0" r="5.4"/><circle cx="698.0" cy="1328.5" r="5.4"/><circle cx="725.4" cy="1340.4" r="5.4"/><circle cx="689.4" cy="1329.3" r="5.4"/><circle cx="704.1" cy="1328.4" r="5.4"/><circle cx="720.5" cy="1343.7" r="5.4"/><circle cx="700.1" cy="1341.5" r="5.4"/><circle cx="690.7" cy="1321.6" r="5.4"/><circle cx="679.1" cy="1322.4" r="5.4"/><circle cx="715.7" cy="1350.8" r="5.4"/><circle cx="712.9" cy="1331.3" r="5.4"/><circle cx="708.0" cy="1339.8" r="5.4"/><circle cx="721.2" cy="1347.4" r="5.4"/><circle cx="685.8" cy="1309.8" r="5.4"/><circle cx="689.8" cy="1359.8" r="5.4"/><circle cx="704.6" cy="1334.7" r="5.4"/><circle cx="691.9" cy="1349.9" r="5.4"/><circle cx="685.5" cy="1352.1" r="5.4"/><circle cx="680.6" cy="1317.8" r="5.4"/><circle cx="686.8" cy="1328.2" r="5.4"/><circle cx="681.4" cy="1306.4" r="5.4"/><circle cx="702.8" cy="1350.7" r="5.4"/><circle cx="689.9" cy="1333.8" r="5.4"/><circle cx="704.9" cy="1359.8" r="5.4"/><circle cx="686.8" cy="1312.2" r="5.4"/><circle cx="686.9" cy="1322.7" r="5.4"/><circle cx="683.2" cy="1335.0" r="5.4"/><circle cx="703.1" cy="1341.1" r="5.4"/><circle cx="701.6" cy="1352.2" r="5.4"/><circle cx="697.8" cy="1333.5" r="5.4"/><circle cx="699.1" cy="1343.5" r="5.4"/><circle cx="692.3" cy="1332.3" r="5.4"/><circle cx="693.1" cy="1321.5" r="5.4"/><circle cx="702.0" cy="1337.0" r="5.4"/><circle cx="717.5" cy="1344.2" r="5.4"/><circle cx="717.6" cy="1335.1" r="5.4"/><circle cx="710.5" cy="1358.3" r="5.4"/><circle cx="710.5" cy="1355.3" r="5.4"/><circle cx="698.0" cy="1338.1" r="5.4"/><circle cx="679.6" cy="1311.9" r="5.4"/><circle cx="716.1" cy="1334.6" r="5.4"/><circle cx="689.5" cy="1346.7" r="5.4"/><circle cx="706.2" cy="1324.8" r="5.4"/><circle cx="696.1" cy="1343.8" r="5.4"/><circle cx="697.5" cy="1354.2" r="5.4"/><circle cx="689.9" cy="1340.1" r="5.4"/><circle cx="708.9" cy="1337.8" r="5.4"/><circle cx="711.0" cy="1352.1" r="5.4"/><circle cx="712.2" cy="1335.1" r="5.4"/><circle cx="720.0" cy="1338.3" r="5.4"/><circle cx="778.8" cy="1394.3" r="5.4"/><circle cx="726.8" cy="1373.3" r="5.4"/>
</g>
<g fill="#d62728" stroke="#d62728">
<circle cx="803.4" cy="1435.7" r="5.4"/>
</g>
<g fill="#2ca02c" stroke="#2ca02c">
<circle cx="806.1" cy="1349.0" r="5.4"/><circle cx="832.1" cy="1358.6" r="5.4"/><circle cx="833.1" cy="1359.4" r="5.4"/><circle cx="834.0" cy="1361.3" r="5.4"/><circle cx="849.3" cy="1385.4" r="5.4"/><circle cx="850.7" cy="1392.2" r="5.4"/><circle cx="793.0" cy="1381.0" r="5.4"/><circle cx="788.3" cy="1391.4" r="5.4"/><circle cx="786.9" cy="1389.2" r="5.4"/><circle cx="786.9" cy="1392.4" r="5.4"/><circle cx="793.8" cy="1404.3" r="5.4"/><circle cx="818.4" cy="1420.1" r="5.4"/><circle cx="818.7" cy="1420.5" r="5.4"/><circle cx="821.1" cy="1419.6" r="5.4"/><circle cx="764.5" cy="1396.9" r="5.4"/>
</g>
<g fill="#8c564b" stroke="#8c564b">
<circle cx="767.1" cy="1376.4" r="5.4"/><circle cx="734.5" cy="1360.3" r="5.4"/><circle cx="749.1" cy="1348.1" r="5.4"/><circle cx="733.6" cy="1370.3" r="5.4"/><circle cx="738.1" cy="1366.8" r="5.4"/><circle cx="741.7" cy="1341.5" r="5.4"/><circle cx="773.3" cy="1343.8" r="5.4"/><circle cx="765.9" cy="1356.6" r="5.4"/><circle cx="753.4" cy="1373.2" r="5.4"/><circle cx="758.3" cy="1344.9" r="5.4"/><circle cx="746.8" cy="1381.8" r="5.4"/><circle cx="736.6" cy="1378.0" r="5.4"/><circle cx="747.9" cy="1370.5" r="5.4"/><circle cx="746.2" cy="1385.2" r="5.4"/><circle cx="735.5" cy="1353.9" r="5.4"/><circle cx="743.6" cy="1356.7" r="5.4"/><circle cx="785.1" cy="1367.0" r="5.4"/><circle cx="752.9" cy="1386.4" r="5.4"/><circle cx="738.7" cy="1373.6" r="5.4"/><circle cx="772.2" cy="1392.2" r="5.4"/><circle cx="789.3" cy="1342.8" r="5.4"/><circle cx="772.1" cy="1377.3" r="5.4"/><circle cx="757.1" cy="1342.6" r="5.4"/><circle cx="752.4" cy="1375.7" r="5.4"/><circle cx="757.7" cy="1356.6" r="5.4"/><circle cx="728.9" cy="1365.7" r="5.4"/><circle cx="722.2" cy="1357.8" r="5.4"/><circle cx="751.6" cy="1370.8" r="5.4"/><circle cx="782.3" cy="1386.3" r="5.4"/><circle cx="763.1" cy="1345.1" r="5.4"/><circle cx="756.0" cy="1357.5" r="5.4"/><circle cx="744.6" cy="1344.6" r="5.4"/><circle cx="760.8" cy="1349.1" r="5.4"/><circle cx="763.4" cy="1366.7" r="5.4"/><circle cx="786.4" cy="1337.8" r="5.4"/><circle cx="777.0" cy="1345.3" r="5.4"/><circle cx="774.2" cy="1380.2" r="5.4"/><circle cx="742.6" cy="1349.0" r="5.4"/><circle cx="734.0" cy="1345.4" r="5.4"/><circle cx="784.7" cy="1360.9" r="5.4"/><circle cx="732.6" cy="1352.2" r="5.4"/><circle cx="782.9" cy="1383.4" r="5.4"/><circle cx="729.2" cy="1352.2" r="5.4"/><circle cx="729.8" cy="1370.2" r="5.4"/><circle cx="737.1" cy="1376.3" r="5.4"/><circle cx="749.3" cy="1367.6" r="5.4"/><circle cx="769.1" cy="1389.3" r="5.4"/><circle cx="740.0" cy="1347.4" r="5.4"/><circle cx="749.3" cy="1372.0" r="5.4"/><circle cx="738.1" cy="1381.9" r="5.4"/><circle cx="759.8" cy="1370.8" r="5.4"/><circle cx="755.9" cy="1374.1" r="5.4"/><circle cx="756.8" cy="1367.0" r="5.4"/><circle cx="796.1" cy="1347.7" r="5.4"/><circle cx="788.3" cy="1348.6" r="5.4"/><circle cx="740.9" cy="1375.4" r="5.4"/><circle cx="792.9" cy="1342.7" r="5.4"/><circle cx="757.9" cy="1360.2" r="5.4"/><circle cx="755.1" cy="1345.0" r="5.4"/><circle cx="756.2" cy="1384.3" r="5.4"/><circle cx="742.4" cy="1380.0" r="5.4"/><circle cx="765.5" cy="1383.1" r="5.4"/><circle cx="766.7" cy="1364.2" r="5.4"/><circle cx="763.2" cy="1390.6" r="5.4"/><circle cx="765.4" cy="1388.2" r="5.4"/><circle cx="733.6" cy="1362.8" r="5.4"/><circle cx="725.4" cy="1351.7" r="5.4"/><circle cx="783.8" cy="1345.0" r="5.4"/><circle cx="730.4" cy="1356.5" r="5.4"/><circle cx="725.6" cy="1362.6" r="5.4"/><circle cx="765.7" cy="1345.4" r="5.4"/><circle cx="754.4" cy="1382.9" r="5.4"/><circle cx="777.9" cy="1353.1" r="5.4"/><circle cx="775.4" cy="1365.9" r="5.4"/><circle cx="743.7" cy="1350.4" r="5.4"/><circle cx="741.7" cy="1357.4" r="5.4"/><circle cx="754.3" cy="1350.1" r="5.4"/><circle cx="779.5" cy="1345.2" r="5.4"/><circle cx="787.1" cy="1370.8" r="5.4"/><circle cx="779.3" cy="1385.6" r="5.4"/><circle cx="743.1" cy="1361.1" r="5.4"/><circle cx="764.8" cy="1370.2" r="5.4"/><circle cx="761.6" cy="1369.4" r="5.4"/><circle cx="754.0" cy="1348.5" r="5.4"/><circle cx="764.6" cy="1348.8" r="5.4"/><circle cx="730.3" cy="1345.5" r="5.4"/><circle cx="778.3" cy="1366.4" r="5.4"/><circle cx="779.1" cy="1360.4" r="5.4"/><circle cx="731.3" cy="1340.8" r="5.4"/><circle cx="742.2" cy="1374.0" r="5.4"/><circle cx="784.7" cy="1339.7" r="5.4"/><circle cx="781.3" cy="1372.4" r="5.4"/><circle cx="745.6" cy="1360.2" r="5.4"/><circle cx="779.5" cy="1356.7" r="5.4"/><circle cx="762.1" cy="1381.6" r="5.4"/><circle cx="770.6" cy="1351.9" r="5.4"/><circle cx="731.5" cy="1359.7" r="5.4"/><circle cx="768.5" cy="1343.9" r="5.4"/><circle cx="782.4" cy="1341.1" r="5.4"/><circle cx="719.9" cy="1353.2" r="5.4"/><circle cx="794.0" cy="1348.8" r="5.4"/><circle cx="758.3" cy="1375.9" r="5.4"/><circle cx="767.3" cy="1361.0" r="5.4"/><circle cx="773.3" cy="1351.4" r="5.4"/><circle cx="763.7" cy="1385.6" r="5.4"/><circle cx="738.0" cy="1338.1" r="5.4"/><circle cx="770.4" cy="1384.4" r="5.4"/><circle cx="743.9" cy="1363.3" r="5.4"/><circle cx="774.8" cy="1373.8" r="5.4"/><circle cx="775.1" cy="1348.3" r="5.4"/><circle cx="782.8" cy="1367.2" r="5.4"/><circle cx="778.0" cy="1368.7" r="5.4"/><circle cx="757.2" cy="1354.4" r="5.4"/><circle cx="725.3" cy="1357.4" r="5.4"/><circle cx="775.6" cy="1363.8" r="5.4"/><circle cx="768.7" cy="1391.4" r="5.4"/><circle cx="760.6" cy="1384.9" r="5.4"/><circle cx="749.0" cy="1375.2" r="5.4"/><circle cx="750.0" cy="1385.7" r="5.4"/><circle cx="742.3" cy="1386.3" r="5.4"/><circle cx="746.0" cy="1373.3" r="5.4"/><circle cx="745.7" cy="1378.1" r="5.4"/><circle cx="792.2" cy="1344.4" r="5.4"/><circle cx="782.5" cy="1378.9" r="5.4"/><circle cx="737.8" cy="1369.8" r="5.4"/><circle cx="728.1" cy="1359.8" r="5.4"/><circle cx="755.1" cy="1376.9" r="5.4"/><circle cx="779.2" cy="1352.1" r="5.4"/><circle cx="786.4" cy="1344.7" r="5.4"/><circle cx="785.6" cy="1379.7" r="5.4"/><circle cx="779.6" cy="1370.4" r="5.4"/><circle cx="742.8" cy="1367.8" r="5.4"/><circle cx="778.0" cy="1348.3" r="5.4"/><circle cx="757.5" cy="1391.6" r="5.4"/><circle cx="784.1" cy="1357.2" r="5.4"/><circle cx="759.7" cy="1360.1" r="5.4"/><circle cx="761.4" cy="1372.6" r="5.4"/><circle cx="761.4" cy="1376.9" r="5.4"/><circle cx="785.7" cy="1340.8" r="5.4"/><circle cx="763.0" cy="1356.9" r="5.4"/><circle cx="738.1" cy="1384.3" r="5.4"/><circle cx="747.2" cy="1387.6" r="5.4"/><circle cx="772.6" cy="1388.5" r="5.4"/><circle cx="759.8" cy="1342.1" r="5.4"/><circle cx="739.1" cy="1359.7" r="5.4"/><circle cx="746.5" cy="1365.9" r="5.4"/><circle cx="750.6" cy="1355.2" r="5.4"/><circle cx="785.1" cy="1354.6" r="5.4"/><circle cx="735.8" cy="1348.7" r="5.4"/><circle cx="771.0" cy="1360.4" r="5.4"/><circle cx="776.1" cy="1353.6" r="5.4"/><circle cx="752.4" cy="1354.3" r="5.4"/><circle cx="752.9" cy="1359.5" r="5.4"/><circle cx="777.9" cy="1375.9" r="5.4"/><circle cx="779.1" cy="1372.6" r="5.4"/><circle cx="766.7" cy="1348.9" r="5.4"/><circle cx="759.7" cy="1352.1" r="5.4"/><circle cx="784.7" cy="1364.2" r="5.4"/><circle cx="759.4" cy="1390.9" r="5.4"/><circle cx="763.0" cy="1354.6" r="5.4"/><circle cx="759.7" cy="1389.0" r="5.4"/><circle cx="784.6" cy="1370.7" r="5.4"/><circle cx="730.7" cy="1354.0" r="5.4"/><circle cx="750.4" cy="1383.2" r="5.4"/><circle cx="770.5" cy="1347.1" r="5.4"/><circle cx="766.0" cy="1350.6" r="5.4"/><circle cx="756.1" cy="1387.4" r="5.4"/><circle cx="775.5" cy="1390.6" r="5.4"/><circle cx="722.6" cy="1351.6" r="5.4"/><circle cx="733.1" cy="1356.4" r="5.4"/><circle cx="728.9" cy="1363.9" r="5.4"/><circle cx="758.2" cy="1382.6" r="5.4"/><circle cx="768.0" cy="1378.3" r="5.4"/><circle cx="781.5" cy="1387.8" r="5.4"/><circle cx="780.2" cy="1362.8" r="5.4"/><circle cx="768.7" cy="1355.1" r="5.4"/><circle cx="783.9" cy="1376.6" r="5.4"/><circle cx="769.3" cy="1371.0" r="5.4"/><circle cx="770.4" cy="1380.0" r="5.4"/><circle cx="742.2" cy="1354.4" r="5.4"/><circle cx="733.9" cy="1376.8" r="5.4"/><circle cx="745.0" cy="1388.7" r="5.4"/><circle cx="763.4" cy="1374.1" r="5.4"/><circle cx="771.7" cy="1354.8" r="5.4"/><circle cx="769.3" cy="1356.9" r="5.4"/><circle cx="761.8" cy="1350.2" r="5.4"/><circle cx="765.1" cy="1394.9" r="5.4"/><circle cx="781.0" cy="1382.4" r="5.4"/><circle cx="728.4" cy="1354.6" r="5.4"/><circle cx="748.7" cy="1352.0" r="5.4"/><circle cx="724.4" cy="1354.3" r="5.4"/><circle cx="763.0" cy="1389.5" r="5.4"/><circle cx="758.7" cy="1393.8" r="5.4"/><circle cx="759.6" cy="1353.6" r="5.4"/><circle cx="739.8" cy="1343.9" r="5.4"/><circle cx="770.2" cy="1376.7" r="5.4"/><circle cx="752.2" cy="1379.6" r="5.4"/><circle cx="761.3" cy="1379.4" r="5.4"/><circle cx="762.7" cy="1363.8" r="5.4"/><circle cx="754.5" cy="1362.9" r="5.4"/><circle cx="775.6" cy="1341.8" r="5.4"/><circle cx="739.2" cy="1341.6" r="5.4"/><circle cx="741.8" cy="1363.7" r="5.4"/><circle cx="750.5" cy="1358.3" r="5.4"/><circle cx="768.6" cy="1363.4" r="5.4"/><circle cx="735.4" cy="1386.1" r="5.4"/><circle cx="741.4" cy="1389.0" r="5.4"/><circle cx="756.3" cy="1369.7" r="5.4"/><circle cx="778.0" cy="1341.6" r="5.4"/><circle cx="767.5" cy="1374.0" r="5.4"/><circle cx="749.6" cy="1360.0" r="5.4"/><circle cx="758.9" cy="1362.7" r="5.4"/><circle cx="772.7" cy="1382.3" r="5.4"/><circle cx="738.2" cy="1344.6" r="5.4"/><circle cx="736.1" cy="1358.0" r="5.4"/><circle cx="764.4" cy="1379.2" r="5.4"/><circle cx="745.3" cy="1349.2" r="5.4"/><circle cx="779.1" cy="1378.5" r="5.4"/><circle cx="744.0" cy="1370.3" r="5.4"/><circle cx="739.5" cy="1353.7" r="5.4"/><circle cx="781.8" cy="1348.2" r="5.4"/><circle cx="785.2" cy="1348.9" r="5.4"/><circle cx="736.2" cy="1373.4" r="5.4"/><circle cx="721.3" cy="1360.3" r="5.4"/><circle cx="727.2" cy="1348.5" r="5.4"/><circle cx="774.2" cy="1359.9" r="5.4"/><circle cx="725.4" cy="1359.8" r="5.4"/><circle cx="751.2" cy="1389.1" r="5.4"/><circle cx="740.0" cy="1382.0" r="5.4"/><circle cx="795.6" cy="1344.9" r="5.4"/><circle cx="750.8" cy="1390.6" r="5.4"/><circle cx="737.7" cy="1351.6" r="5.4"/><circle cx="741.3" cy="1350.4" r="5.4"/><circle cx="767.4" cy="1366.2" r="5.4"/><circle cx="753.6" cy="1367.4" r="5.4"/><circle cx="775.3" cy="1385.8" r="5.4"/><circle cx="748.7" cy="1357.7" r="5.4"/><circle cx="784.7" cy="1374.0" r="5.4"/><circle cx="735.4" cy="1366.1" r="5.4"/><circle cx="774.1" cy="1356.8" r="5.4"/><circle cx="736.2" cy="1364.5" r="5.4"/><circle cx="746.8" cy="1390.9" r="5.4"/><circle cx="771.0" cy="1365.6" r="5.4"/><circle cx="775.7" cy="1388.4" r="5.4"/><circle cx="776.8" cy="1383.4" r="5.4"/><circle cx="757.8" cy="1378.4" r="5.4"/><circle cx="740.0" cy="1378.7" r="5.4"/><circle cx="754.4" cy="1392.5" r="5.4"/><circle cx="751.2" cy="1363.8" r="5.4"/><circle cx="773.5" cy="1369.6" r="5.4"/><circle cx="785.0" cy="1351.0" r="5.4"/><circle cx="731.3" cy="1348.7" r="5.4"/><circle cx="732.9" cy="1366.5" r="5.4"/><circle cx="743.9" cy="1382.9" r="5.4"/><circle cx="777.8" cy="1351.7" r="5.4"/><circle cx="756.3" cy="1347.1" r="5.4"/><circle cx="772.8" cy="1363.1" r="5.4"/><circle cx="734.7" cy="1341.8" r="5.4"/><circle cx="746.5" cy="1355.4" r="5.4"/><circle cx="779.2" cy="1376.2" r="5.4"/><circle cx="770.3" cy="1381.7" r="5.4"/><circle cx="750.9" cy="1352.2" r="5.4"/><circle cx="745.4" cy="1375.5" r="5.4"/><circle cx="750.1" cy="1379.5" r="5.4"/><circle cx="786.5" cy="1381.5" r="5.4"/><circle cx="775.6" cy="1357.0" r="5.4"/><circle cx="751.6" cy="1346.0" r="5.4"/><circle cx="768.0" cy="1386.1" r="5.4"/><circle cx="764.9" cy="1360.2" r="5.4"/><circle cx="782.2" cy="1361.2" r="5.4"/><circle cx="747.7" cy="1363.8" r="5.4"/><circle cx="741.6" cy="1369.7" r="5.4"/><circle cx="781.6" cy="1354.3" r="5.4"/><circle cx="718.2" cy="1357.9" r="5.4"/><circle cx="762.8" cy="1393.7" r="5.4"/><circle cx="732.6" cy="1339.4" r="5.4"/><circle cx="771.0" cy="1372.0" r="5.4"/><circle cx="761.4" cy="1366.9" r="5.4"/><circle cx="713.2" cy="1372.0" r="5.4"/><circle cx="799.8" cy="1348.5" r="5.4"/>
</g>
<g fill="#c49c94" stroke="#c49c94">
<circle cx="745.4" cy="1344.8" r="5.4"/>
</g>
</g>
<g>
<rect x="92.1" y="13.0" width="436.2" height="35.7" fill="#cccccc"/>
<text x="310.2" y="39.5" font-size="23.0" text-anchor="middle">CMP CD41</text>
<rect x="541.8" y="13.0" width="436.2" height="35.7" fill="#cccccc"/>
<text x="759.9" y="39.5" font-size="23.0" text-anchor="middle">CMP Flt3+ Csf1r+</text>
<rect x="991.3" y="13.0" width="436.2" height="35.7" fill="#cccccc"/>
<text x="1209.4" y="39.5" font-size="23.0" text-anchor="middle">CMP Irf8-GFP+ MHCII+</text>
<rect x="92.1" y="498.3" width="436.2" height="35.7" fill="#cccccc"/>
<text x="310.2" y="524.8" font-size="23.0" text-anchor="middle">Cebpa KO</text>
<rect x="541.8" y="498.3" width="436.2" height="35.7" fill="#cccccc"/>
<text x="759.9" y="524.8" font-size="23.0" text-anchor="middle">Cebpa control</text>
<rect x="991.3" y="498.3" width="436.2" height="35.7" fill="#cccccc"/>
<text x="1209.4" y="524.8" font-size="23.0" text-anchor="middle">Cebpe KO</text>
<rect x="92.1" y="983.6" width="436.2" height="35.7" fill="#cccccc"/>
<text x="310.2" y="1010.1" font-size="23.0" text-anchor="middle">Cebpe control</text>
<rect x="541.8" y="983.6" width="436.2" height="35.7" fill="#cccccc"/>
<text x="759.9" y="1010.1" font-size="23.0" text-anchor="middle">Unsorted myeloid</text>
<line x1="92.40" y1="48.60" x2="92.40" y2="485.20" class="ax sq"/>
<line x1="85.20" y1="127.05" x2="92.40" y2="127.05" class="ax"/>
<text x="79.50" y="135.55" font-size="23.0" text-anchor="end">25</text>
<line x1="85.20" y1="246.50" x2="92.40" y2="246.50" class="ax"/>
<text x="79.50" y="255.00" font-size="23.0" text-anchor="end">0</text>
<line x1="85.20" y1="365.95" x2="92.40" y2="365.95" class="ax"/>
<text x="79.50" y="374.45" font-size="23.0" text-anchor="end">-25</text>
<line x1="92.40" y1="533.90" x2="92.40" y2="970.45" class="ax sq"/>
<line x1="85.20" y1="612.35" x2="92.40" y2="612.35" class="ax"/>
<text x="79.50" y="620.85" font-size="23.0" text-anchor="end">25</text>
<line x1="85.20" y1="731.80" x2="92.40" y2="731.80" class="ax"/>
<text x="79.50" y="740.30" font-size="23.0" text-anchor="end">0</text>
<line x1="85.20" y1="851.25" x2="92.40" y2="851.25" class="ax"/>
<text x="79.50" y="859.75" font-size="23.0" text-anchor="end">-25</text>
<line x1="92.40" y1="1019.20" x2="92.40" y2="1455.45" class="ax sq"/>
<line x1="85.20" y1="1097.65" x2="92.40" y2="1097.65" class="ax"/>
<text x="79.50" y="1106.15" font-size="23.0" text-anchor="end">25</text>
<line x1="85.20" y1="1217.10" x2="92.40" y2="1217.10" class="ax"/>
<text x="79.50" y="1225.60" font-size="23.0" text-anchor="end">0</text>
<line x1="85.20" y1="1336.55" x2="92.40" y2="1336.55" class="ax"/>
<text x="79.50" y="1345.05" font-size="23.0" text-anchor="end">-25</text>
<line x1="92.10" y1="1455.45" x2="528.30" y2="1455.45" class="ax sq"/>
<line x1="123.05" y1="1455.45" x2="123.05" y2="1462.55" class="ax"/>
<text x="123.05" y="1484.85" font-size="23.0" text-anchor="middle">-40</text>
<line x1="220.74" y1="1455.45" x2="220.74" y2="1462.55" class="ax"/>
<text x="220.74" y="1484.85" font-size="23.0" text-anchor="middle">-20</text>
<line x1="318.44" y1="1455.45" x2="318.44" y2="1462.55" class="ax"/>
<text x="318.44" y="1484.85" font-size="23.0" text-anchor="middle">0</text>
<line x1="416.14" y1="1455.45" x2="416.14" y2="1462.55" class="ax"/>
<text x="416.14" y="1484.85" font-size="23.0" text-anchor="middle">20</text>
<line x1="513.83" y1="1455.45" x2="513.83" y2="1462.55" class="ax"/>
<text x="513.83" y="1484.85" font-size="23.0" text-anchor="middle">40</text>
<line x1="541.80" y1="1455.45" x2="978.00" y2="1455.45" class="ax sq"/>
<line x1="572.54" y1="1455.45" x2="572.54" y2="1462.55" class="ax"/>
<text x="572.54" y="1484.85" font-size="23.0" text-anchor="middle">-40</text>
<line x1="670.23" y1="1455.45" x2="670.23" y2="1462.55" class="ax"/>
<text x="670.23" y="1484.85" font-size="23.0" text-anchor="middle">-20</text>
<line x1="767.93" y1="1455.45" x2="767.93" y2="1462.55" class="ax"/>
<text x="767.93" y="1484.85" font-size="23.0" text-anchor="middle">0</text>
<line x1="865.63" y1="1455.45" x2="865.63" y2="1462.55" class="ax"/>
<text x="865.63" y="1484.85" font-size="23.0" text-anchor="middle">20</text>
<line x1="963.32" y1="1455.45" x2="963.32" y2="1462.55" class="ax"/>
<text x="963.32" y="1484.85" font-size="23.0" text-anchor="middle">40</text>
<line x1="991.30" y1="970.45" x2="1427.50" y2="970.45" class="ax sq"/>
<line x1="1022.07" y1="970.45" x2="1022.07" y2="977.55" class="ax"/>
<text x="1022.07" y="999.85" font-size="23.0" text-anchor="middle">-40</text>
<line x1="1119.76" y1="970.45" x2="1119.76" y2="977.55" class="ax"/>
<text x="1119.76" y="999.85" font-size="23.0" text-anchor="middle">-20</text>
<line x1="1217.46" y1="970.45" x2="1217.46" y2="977.55" class="ax"/>
<text x="1217.46" y="999.85" font-size="23.0" text-anchor="middle">0</text>
<line x1="1315.16" y1="970.45" x2="1315.16" y2="977.55" class="ax"/>
<text x="1315.16" y="999.85" font-size="23.0" text-anchor="middle">20</text>
<line x1="1412.85" y1="970.45" x2="1412.85" y2="977.55" class="ax"/>
<text x="1412.85" y="999.85" font-size="23.0" text-anchor="middle">40</text>
<text x="759.0" y="1516.8" font-size="26.8" text-anchor="middle">TSNE 1</text>
<text transform="translate(33.6 752) rotate(-90)" font-size="26.8" text-anchor="middle">TSNE 2</text>
<text x="1454.2" y="521.2" font-size="26.8">label</text>
<circle cx="1468.8" cy="552.4" r="5.4" fill="#1f77b4" stroke="#1f77b4"/>
<text x="1496.6" y="560.5" font-size="23.0">1</text>
<circle cx="1468.8" cy="581.6" r="5.4" fill="#aec7e8" stroke="#aec7e8"/>
<text x="1496.6" y="589.7" font-size="23.0">2</text>
<circle cx="1468.8" cy="610.9" r="5.4" fill="#ff7f0e" stroke="#ff7f0e"/>
<text x="1496.6" y="619.0" font-size="23.0">3</text>
<circle cx="1468.8" cy="640.1" r="5.4" fill="#ffbb78" stroke="#ffbb78"/>
<text x="1496.6" y="648.2" font-size="23.0">4</text>
<circle cx="1468.8" cy="669.4" r="5.4" fill="#2ca02c" stroke="#2ca02c"/>
<text x="1496.6" y="677.5" font-size="23.0">5</text>
<circle cx="1468.8" cy="698.6" r="5.4" fill="#98df8a" stroke="#98df8a"/>
<text x="1496.6" y="706.7" font-size="23.0">6</text>
<circle cx="1468.8" cy="727.8" r="5.4" fill="#d62728" stroke="#d62728"/>
<text x="1496.6" y="735.9" font-size="23.0">7</text>
<circle cx="1468.8" cy="757.1" r="5.4" fill="#ff9896" stroke="#ff9896"/>
<text x="1496.6" y="765.2" font-size="23.0">8</text>
<circle cx="1468.8" cy="786.3" r="5.4" fill="#9467bd" stroke="#9467bd"/>
<text x="1496.6" y="794.4" font-size="23.0">9</text>
<circle cx="1468.8" cy="815.6" r="5.4" fill="#c5b0d5" stroke="#c5b0d5"/>
<text x="1496.6" y="823.7" font-size="23.0">10</text>
<circle cx="1468.8" cy="844.8" r="5.4" fill="#8c564b" stroke="#8c564b"/>
<text x="1496.6" y="852.9" font-size="23.0">11</text>
<circle cx="1468.8" cy="874.0" r="5.4" fill="#c49c94" stroke="#c49c94"/>
<text x="1496.6" y="882.1" font-size="23.0">12</text>
<circle cx="1468.8" cy="903.3" r="5.4" fill="#e377c2" stroke="#e377c2"/>
<text x="1496.6" y="911.4" font-size="23.0">13</text>
<circle cx="1468.8" cy="932.5" r="5.4" fill="#f7b6d2" stroke="#f7b6d2"/>
<text x="1496.6" y="940.6" font-size="23.0">14</text>
<circle cx="1468.8" cy="961.8" r="5.4" fill="#7f7f7f" stroke="#7f7f7f"/>
<text x="1496.6" y="969.9" font-size="23.0">15</text>
<circle cx="1468.8" cy="991.0" r="5.4" fill="#c7c7c7" stroke="#c7c7c7"/>
<text x="1496.6" y="999.1" font-size="23.0">16</text>
</g>

</svg>
</body>
</html>
